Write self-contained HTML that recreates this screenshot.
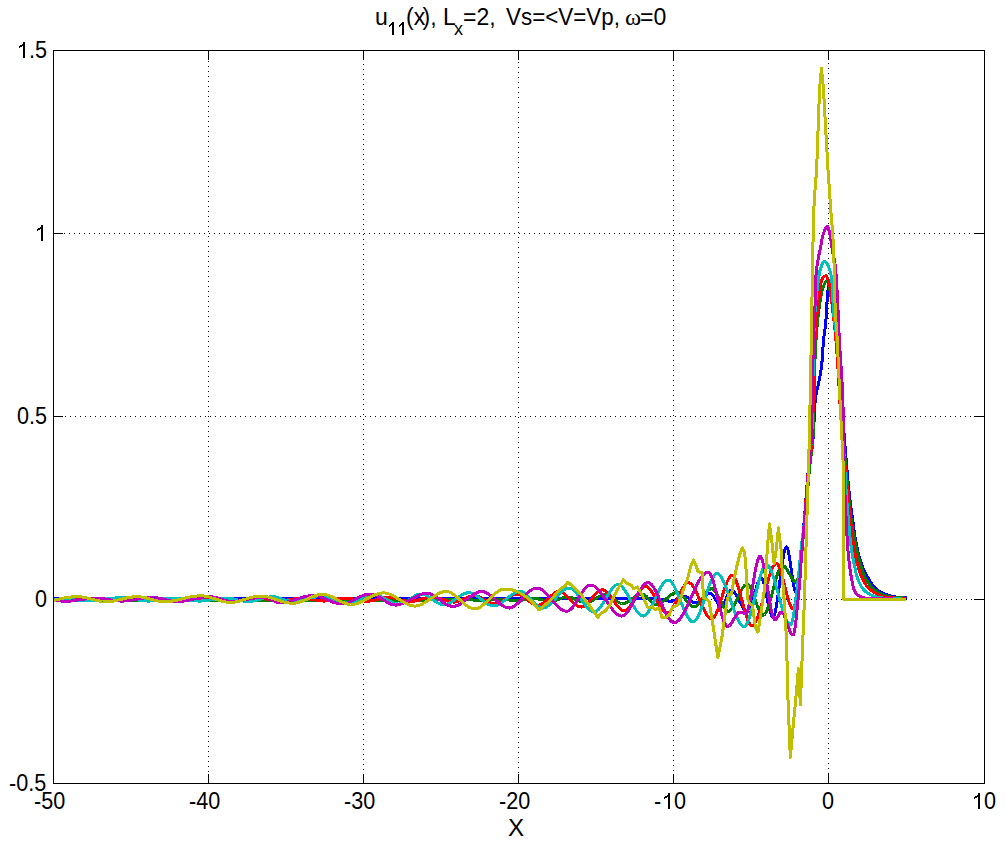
<!DOCTYPE html>
<html><head><meta charset="utf-8">
<style>
html,body{margin:0;padding:0;background:#fff;}
body{width:1005px;height:842px;overflow:hidden;position:relative;}
svg{position:absolute;left:0;top:0;}
text{font-family:"Liberation Sans",sans-serif;fill:#000;}
</style></head>
<body>
<svg width="1005" height="842" viewBox="0 0 1005 842">
<rect x="0" y="0" width="1005" height="842" fill="#fff"/>
<g id="grid" stroke="#000" stroke-width="1" shape-rendering="crispEdges" fill="none" stroke-dasharray="1 4">
<path d="M208.5 51V783"/>
<path d="M363.5 54V783"/>
<path d="M518.5 52V783"/>
<path d="M673.5 55V783"/>
<path d="M828.5 53V783"/>
<path d="M54 233.5H984"/>
<path d="M55 416.5H984"/>
<path d="M56 599.5H984"/>
</g>
<g id="ticks" stroke="#000" stroke-width="1" shape-rendering="crispEdges" fill="none">
<path d="M208.5 51V60M363.5 51V60M518.5 51V60M673.5 51V60M828.5 51V60"/>
<path d="M208.5 783V774M363.5 783V774M518.5 783V774M673.5 783V774M828.5 783V774"/>
<path d="M54 233.5H63M54 416.5H63M54 599.5H63"/>
<path d="M984 233.5H974M984 416.5H974M984 599.5H974"/>
</g>
<defs><clipPath id="cp"><rect x="54" y="51" width="930" height="732"/></clipPath></defs>
<g id="curves" clip-path="url(#cp)" fill="none" stroke-width="3" stroke-linejoin="round" shape-rendering="crispEdges">
<path stroke="#0000ff" d="M54.0 598.8 L54.5 598.8 L55.0 598.8 L55.5 598.8 L56.0 598.8 L56.5 598.8 L57.0 598.8 L57.5 598.8 L58.0 598.8 L58.5 598.8 L59.0 598.8 L59.5 598.8 L60.0 598.8 L60.5 598.8 L61.0 598.8 L61.5 598.8 L62.0 598.8 L62.5 598.8 L63.0 598.8 L63.5 598.8 L64.0 598.8 L64.5 598.8 L65.0 598.8 L65.5 598.8 L66.0 598.8 L66.5 598.8 L67.0 598.8 L67.5 598.8 L68.0 598.8 L68.5 598.8 L69.0 598.8 L69.5 598.8 L70.0 598.8 L70.5 598.8 L71.0 598.8 L71.5 598.8 L72.0 598.8 L72.5 598.8 L73.0 598.8 L73.5 598.8 L74.0 598.8 L74.5 598.8 L75.0 598.8 L75.5 598.8 L76.0 598.8 L76.5 598.8 L77.0 598.8 L77.5 598.8 L78.0 598.8 L78.5 598.8 L79.0 598.8 L79.5 598.8 L80.0 598.8 L80.5 598.8 L81.0 598.8 L81.5 598.8 L82.0 598.8 L82.5 598.8 L83.0 598.8 L83.5 598.8 L84.0 598.8 L84.5 598.8 L85.0 598.8 L85.5 598.8 L86.0 598.8 L86.5 598.8 L87.0 598.8 L87.5 598.8 L88.0 598.8 L88.5 598.8 L89.0 598.8 L89.5 598.8 L90.0 598.8 L90.5 598.8 L91.0 598.8 L91.5 598.8 L92.0 598.8 L92.5 598.8 L93.0 598.8 L93.5 598.8 L94.0 598.8 L94.5 598.8 L95.0 598.8 L95.5 598.8 L96.0 598.8 L96.5 598.8 L97.0 598.8 L97.5 598.8 L98.0 598.8 L98.5 598.8 L99.0 598.8 L99.5 598.8 L100.0 598.8 L100.5 598.8 L101.0 598.8 L101.5 598.8 L102.0 598.8 L102.5 598.8 L103.0 598.8 L103.5 598.8 L104.0 598.8 L104.5 598.8 L105.0 598.8 L105.5 598.8 L106.0 598.8 L106.5 598.8 L107.0 598.8 L107.5 598.8 L108.0 598.8 L108.5 598.8 L109.0 598.8 L109.5 598.8 L110.0 598.8 L110.5 598.8 L111.0 598.8 L111.5 598.8 L112.0 598.8 L112.5 598.8 L113.0 598.8 L113.5 598.8 L114.0 598.8 L114.5 598.8 L115.0 598.8 L115.5 598.8 L116.0 598.8 L116.5 598.8 L117.0 598.8 L117.5 598.8 L118.0 598.8 L118.5 598.8 L119.0 598.8 L119.5 598.8 L120.0 598.8 L120.5 598.8 L121.0 598.8 L121.5 598.8 L122.0 598.8 L122.5 598.8 L123.0 598.8 L123.5 598.8 L124.0 598.8 L124.5 598.8 L125.0 598.8 L125.5 598.8 L126.0 598.8 L126.5 598.8 L127.0 598.8 L127.5 598.8 L128.0 598.8 L128.5 598.8 L129.0 598.8 L129.5 598.8 L130.0 598.8 L130.5 598.8 L131.0 598.8 L131.5 598.8 L132.0 598.8 L132.5 598.8 L133.0 598.8 L133.5 598.8 L134.0 598.8 L134.5 598.8 L135.0 598.8 L135.5 598.8 L136.0 598.8 L136.5 598.8 L137.0 598.8 L137.5 598.8 L138.0 598.8 L138.5 598.8 L139.0 598.8 L139.5 598.8 L140.0 598.8 L140.5 598.8 L141.0 598.8 L141.5 598.8 L142.0 598.8 L142.5 598.8 L143.0 598.8 L143.5 598.8 L144.0 598.8 L144.5 598.8 L145.0 598.8 L145.5 598.8 L146.0 598.8 L146.5 598.8 L147.0 598.8 L147.5 598.8 L148.0 598.8 L148.5 598.8 L149.0 598.8 L149.5 598.8 L150.0 598.8 L150.5 598.8 L151.0 598.8 L151.5 598.8 L152.0 598.8 L152.5 598.8 L153.0 598.8 L153.5 598.8 L154.0 598.8 L154.5 598.8 L155.0 598.8 L155.5 598.8 L156.0 598.8 L156.5 598.8 L157.0 598.8 L157.5 598.8 L158.0 598.8 L158.5 598.8 L159.0 598.8 L159.5 598.8 L160.0 598.8 L160.5 598.8 L161.0 598.8 L161.5 598.8 L162.0 598.8 L162.5 598.8 L163.0 598.8 L163.5 598.8 L164.0 598.8 L164.5 598.8 L165.0 598.8 L165.5 598.8 L166.0 598.8 L166.5 598.8 L167.0 598.8 L167.5 598.8 L168.0 598.8 L168.5 598.8 L169.0 598.8 L169.5 598.8 L170.0 598.8 L170.5 598.8 L171.0 598.8 L171.5 598.8 L172.0 598.8 L172.5 598.8 L173.0 598.8 L173.5 598.8 L174.0 598.8 L174.5 598.8 L175.0 598.8 L175.5 598.8 L176.0 598.8 L176.5 598.8 L177.0 598.8 L177.5 598.8 L178.0 598.8 L178.5 598.8 L179.0 598.8 L179.5 598.8 L180.0 598.8 L180.5 598.8 L181.0 598.8 L181.5 598.8 L182.0 598.8 L182.5 598.8 L183.0 598.8 L183.5 598.8 L184.0 598.8 L184.5 598.8 L185.0 598.8 L185.5 598.8 L186.0 598.8 L186.5 598.8 L187.0 598.8 L187.5 598.8 L188.0 598.8 L188.5 598.8 L189.0 598.8 L189.5 598.8 L190.0 598.8 L190.5 598.8 L191.0 598.8 L191.5 598.8 L192.0 598.8 L192.5 598.8 L193.0 598.8 L193.5 598.8 L194.0 598.8 L194.5 598.8 L195.0 598.8 L195.5 598.8 L196.0 598.8 L196.5 598.8 L197.0 598.8 L197.5 598.8 L198.0 598.8 L198.5 598.8 L199.0 598.8 L199.5 598.8 L200.0 598.8 L200.5 598.8 L201.0 598.8 L201.5 598.8 L202.0 598.8 L202.5 598.8 L203.0 598.8 L203.5 598.8 L204.0 598.8 L204.5 598.8 L205.0 598.8 L205.5 598.8 L206.0 598.8 L206.5 598.8 L207.0 598.8 L207.5 598.8 L208.0 598.8 L208.5 598.8 L209.0 598.8 L209.5 598.8 L210.0 598.8 L210.5 598.8 L211.0 598.8 L211.5 598.8 L212.0 598.8 L212.5 598.8 L213.0 598.8 L213.5 598.8 L214.0 598.8 L214.5 598.8 L215.0 598.8 L215.5 598.8 L216.0 598.8 L216.5 598.8 L217.0 598.8 L217.5 598.8 L218.0 598.8 L218.5 598.8 L219.0 598.8 L219.5 598.8 L220.0 598.8 L220.5 598.8 L221.0 598.8 L221.5 598.8 L222.0 598.8 L222.5 598.8 L223.0 598.8 L223.5 598.8 L224.0 598.8 L224.5 598.8 L225.0 598.8 L225.5 598.8 L226.0 598.8 L226.5 598.8 L227.0 598.8 L227.5 598.8 L228.0 598.8 L228.5 598.8 L229.0 598.8 L229.5 598.8 L230.0 598.8 L230.5 598.8 L231.0 598.8 L231.5 598.8 L232.0 598.8 L232.5 598.8 L233.0 598.8 L233.5 598.8 L234.0 598.8 L234.5 598.8 L235.0 598.8 L235.5 598.8 L236.0 598.8 L236.5 598.8 L237.0 598.8 L237.5 598.8 L238.0 598.8 L238.5 598.8 L239.0 598.8 L239.5 598.8 L240.0 598.8 L240.5 598.8 L241.0 598.8 L241.5 598.8 L242.0 598.8 L242.5 598.8 L243.0 598.8 L243.5 598.8 L244.0 598.8 L244.5 598.8 L245.0 598.8 L245.5 598.8 L246.0 598.8 L246.5 598.8 L247.0 598.8 L247.5 598.8 L248.0 598.8 L248.5 598.8 L249.0 598.8 L249.5 598.8 L250.0 598.8 L250.5 598.8 L251.0 598.8 L251.5 598.8 L252.0 598.8 L252.5 598.8 L253.0 598.8 L253.5 598.8 L254.0 598.8 L254.5 598.8 L255.0 598.8 L255.5 598.8 L256.0 598.8 L256.5 598.8 L257.0 598.8 L257.5 598.8 L258.0 598.8 L258.5 598.8 L259.0 598.8 L259.5 598.8 L260.0 598.8 L260.5 598.8 L261.0 598.8 L261.5 598.8 L262.0 598.8 L262.5 598.8 L263.0 598.8 L263.5 598.8 L264.0 598.8 L264.5 598.8 L265.0 598.8 L265.5 598.8 L266.0 598.8 L266.5 598.8 L267.0 598.8 L267.5 598.8 L268.0 598.8 L268.5 598.8 L269.0 598.8 L269.5 598.8 L270.0 598.8 L270.5 598.8 L271.0 598.8 L271.5 598.8 L272.0 598.8 L272.5 598.8 L273.0 598.8 L273.5 598.8 L274.0 598.8 L274.5 598.8 L275.0 598.8 L275.5 598.8 L276.0 598.8 L276.5 598.8 L277.0 598.8 L277.5 598.8 L278.0 598.8 L278.5 598.8 L279.0 598.8 L279.5 598.8 L280.0 598.8 L280.5 598.8 L281.0 598.8 L281.5 598.8 L282.0 598.8 L282.5 598.8 L283.0 598.8 L283.5 598.8 L284.0 598.8 L284.5 598.8 L285.0 598.8 L285.5 598.8 L286.0 598.8 L286.5 598.8 L287.0 598.8 L287.5 598.8 L288.0 598.8 L288.5 598.8 L289.0 598.8 L289.5 598.8 L290.0 598.8 L290.5 598.8 L291.0 598.8 L291.5 598.8 L292.0 598.8 L292.5 598.8 L293.0 598.8 L293.5 598.8 L294.0 598.8 L294.5 598.8 L295.0 598.8 L295.5 598.8 L296.0 598.8 L296.5 598.8 L297.0 598.8 L297.5 598.8 L298.0 598.8 L298.5 598.8 L299.0 598.8 L299.5 598.8 L300.0 598.8 L300.5 598.8 L301.0 598.8 L301.5 598.8 L302.0 598.8 L302.5 598.8 L303.0 598.8 L303.5 598.8 L304.0 598.8 L304.5 598.8 L305.0 598.8 L305.5 598.8 L306.0 598.8 L306.5 598.8 L307.0 598.8 L307.5 598.8 L308.0 598.8 L308.5 598.8 L309.0 598.8 L309.5 598.8 L310.0 598.8 L310.5 598.8 L311.0 598.8 L311.5 598.8 L312.0 598.8 L312.5 598.8 L313.0 598.8 L313.5 598.8 L314.0 598.8 L314.5 598.8 L315.0 598.8 L315.5 598.8 L316.0 598.8 L316.5 598.8 L317.0 598.8 L317.5 598.8 L318.0 598.8 L318.5 598.8 L319.0 598.8 L319.5 598.8 L320.0 598.8 L320.5 598.8 L321.0 598.8 L321.5 598.8 L322.0 598.8 L322.5 598.8 L323.0 598.8 L323.5 598.8 L324.0 598.8 L324.5 598.8 L325.0 598.8 L325.5 598.8 L326.0 598.8 L326.5 598.8 L327.0 598.8 L327.5 598.8 L328.0 598.8 L328.5 598.8 L329.0 598.8 L329.5 598.8 L330.0 598.8 L330.5 598.8 L331.0 598.8 L331.5 598.8 L332.0 598.8 L332.5 598.8 L333.0 598.8 L333.5 598.8 L334.0 598.8 L334.5 598.8 L335.0 598.8 L335.5 598.8 L336.0 598.8 L336.5 598.8 L337.0 598.8 L337.5 598.8 L338.0 598.8 L338.5 598.8 L339.0 598.8 L339.5 598.8 L340.0 598.8 L340.5 598.8 L341.0 598.8 L341.5 598.8 L342.0 598.8 L342.5 598.8 L343.0 598.8 L343.5 598.8 L344.0 598.8 L344.5 598.8 L345.0 598.8 L345.5 598.8 L346.0 598.8 L346.5 598.8 L347.0 598.8 L347.5 598.8 L348.0 598.8 L348.5 598.8 L349.0 598.8 L349.5 598.8 L350.0 598.8 L350.5 598.8 L351.0 598.8 L351.5 598.8 L352.0 598.8 L352.5 598.8 L353.0 598.8 L353.5 598.8 L354.0 598.8 L354.5 598.8 L355.0 598.8 L355.5 598.8 L356.0 598.8 L356.5 598.8 L357.0 598.8 L357.5 598.8 L358.0 598.8 L358.5 598.8 L359.0 598.8 L359.5 598.8 L360.0 598.8 L360.5 598.8 L361.0 598.8 L361.5 598.8 L362.0 598.8 L362.5 598.8 L363.0 598.8 L363.5 598.8 L364.0 598.8 L364.5 598.8 L365.0 598.8 L365.5 598.8 L366.0 598.8 L366.5 598.8 L367.0 598.8 L367.5 598.8 L368.0 598.8 L368.5 598.8 L369.0 598.8 L369.5 598.8 L370.0 598.8 L370.5 598.8 L371.0 598.8 L371.5 598.8 L372.0 598.8 L372.5 598.8 L373.0 598.8 L373.5 598.8 L374.0 598.8 L374.5 598.8 L375.0 598.8 L375.5 598.8 L376.0 598.8 L376.5 598.8 L377.0 598.8 L377.5 598.8 L378.0 598.8 L378.5 598.8 L379.0 598.8 L379.5 598.8 L380.0 598.8 L380.5 598.8 L381.0 598.8 L381.5 598.8 L382.0 598.8 L382.5 598.8 L383.0 598.8 L383.5 598.8 L384.0 598.8 L384.5 598.8 L385.0 598.8 L385.5 598.8 L386.0 598.8 L386.5 598.8 L387.0 598.8 L387.5 598.8 L388.0 598.8 L388.5 598.8 L389.0 598.8 L389.5 598.8 L390.0 598.8 L390.5 598.8 L391.0 598.8 L391.5 598.8 L392.0 598.8 L392.5 598.8 L393.0 598.8 L393.5 598.8 L394.0 598.8 L394.5 598.8 L395.0 598.8 L395.5 598.8 L396.0 598.8 L396.5 598.8 L397.0 598.8 L397.5 598.8 L398.0 598.8 L398.5 598.8 L399.0 598.8 L399.5 598.8 L400.0 598.8 L400.5 598.8 L401.0 598.8 L401.5 598.8 L402.0 598.8 L402.5 598.8 L403.0 598.8 L403.5 598.8 L404.0 598.8 L404.5 598.8 L405.0 598.8 L405.5 598.8 L406.0 598.8 L406.5 598.8 L407.0 598.8 L407.5 598.8 L408.0 598.8 L408.5 598.8 L409.0 598.8 L409.5 598.8 L410.0 598.8 L410.5 598.8 L411.0 598.8 L411.5 598.8 L412.0 598.8 L412.5 598.8 L413.0 598.8 L413.5 598.8 L414.0 598.8 L414.5 598.8 L415.0 598.8 L415.5 598.8 L416.0 598.8 L416.5 598.8 L417.0 598.8 L417.5 598.8 L418.0 598.8 L418.5 598.8 L419.0 598.8 L419.5 598.8 L420.0 598.8 L420.5 598.8 L421.0 598.8 L421.5 598.8 L422.0 598.8 L422.5 598.8 L423.0 598.8 L423.5 598.8 L424.0 598.8 L424.5 598.8 L425.0 598.8 L425.5 598.8 L426.0 598.8 L426.5 598.8 L427.0 598.8 L427.5 598.8 L428.0 598.8 L428.5 598.8 L429.0 598.8 L429.5 598.8 L430.0 598.8 L430.5 598.8 L431.0 598.8 L431.5 598.8 L432.0 598.8 L432.5 598.8 L433.0 598.8 L433.5 598.8 L434.0 598.8 L434.5 598.8 L435.0 598.8 L435.5 598.8 L436.0 598.8 L436.5 598.8 L437.0 598.8 L437.5 598.8 L438.0 598.8 L438.5 598.8 L439.0 598.8 L439.5 598.8 L440.0 598.8 L440.5 598.8 L441.0 598.8 L441.5 598.8 L442.0 598.8 L442.5 598.8 L443.0 598.8 L443.5 598.8 L444.0 598.8 L444.5 598.8 L445.0 598.8 L445.5 598.8 L446.0 598.8 L446.5 598.8 L447.0 598.8 L447.5 598.8 L448.0 598.8 L448.5 598.8 L449.0 598.8 L449.5 598.8 L450.0 598.8 L450.5 598.8 L451.0 598.8 L451.5 598.8 L452.0 598.8 L452.5 598.8 L453.0 598.8 L453.5 598.8 L454.0 598.8 L454.5 598.8 L455.0 598.8 L455.5 598.8 L456.0 598.8 L456.5 598.8 L457.0 598.8 L457.5 598.8 L458.0 598.8 L458.5 598.8 L459.0 598.8 L459.5 598.8 L460.0 598.8 L460.5 598.8 L461.0 598.8 L461.5 598.8 L462.0 598.8 L462.5 598.8 L463.0 598.8 L463.5 598.8 L464.0 598.8 L464.5 598.8 L465.0 598.8 L465.5 598.8 L466.0 598.8 L466.5 598.8 L467.0 598.8 L467.5 598.8 L468.0 598.8 L468.5 598.8 L469.0 598.8 L469.5 598.8 L470.0 598.8 L470.5 598.8 L471.0 598.8 L471.5 598.8 L472.0 598.8 L472.5 598.8 L473.0 598.8 L473.5 598.8 L474.0 598.8 L474.5 598.8 L475.0 598.8 L475.5 598.8 L476.0 598.8 L476.5 598.8 L477.0 598.8 L477.5 598.8 L478.0 598.8 L478.5 598.8 L479.0 598.8 L479.5 598.8 L480.0 598.8 L480.5 598.8 L481.0 598.8 L481.5 598.8 L482.0 598.8 L482.5 598.8 L483.0 598.8 L483.5 598.8 L484.0 598.8 L484.5 598.8 L485.0 598.8 L485.5 598.8 L486.0 598.8 L486.5 598.8 L487.0 598.8 L487.5 598.8 L488.0 598.8 L488.5 598.8 L489.0 598.8 L489.5 598.8 L490.0 598.8 L490.5 598.8 L491.0 598.8 L491.5 598.8 L492.0 598.8 L492.5 598.8 L493.0 598.8 L493.5 598.8 L494.0 598.8 L494.5 598.8 L495.0 598.8 L495.5 598.8 L496.0 598.8 L496.5 598.8 L497.0 598.8 L497.5 598.8 L498.0 598.8 L498.5 598.8 L499.0 598.8 L499.5 598.8 L500.0 598.8 L500.5 598.8 L501.0 598.8 L501.5 598.8 L502.0 598.8 L502.5 598.8 L503.0 598.8 L503.5 598.8 L504.0 598.8 L504.5 598.8 L505.0 598.8 L505.5 598.8 L506.0 598.8 L506.5 598.8 L507.0 598.8 L507.5 598.8 L508.0 598.8 L508.5 598.8 L509.0 598.8 L509.5 598.8 L510.0 598.8 L510.5 598.8 L511.0 598.8 L511.5 598.8 L512.0 598.8 L512.5 598.8 L513.0 598.8 L513.5 598.8 L514.0 598.8 L514.5 598.8 L515.0 598.8 L515.5 598.8 L516.0 598.8 L516.5 598.8 L517.0 598.8 L517.5 598.8 L518.0 598.8 L518.5 598.8 L519.0 598.8 L519.5 598.8 L520.0 598.8 L520.5 598.8 L521.0 598.8 L521.5 598.8 L522.0 598.8 L522.5 598.8 L523.0 598.8 L523.5 598.8 L524.0 598.8 L524.5 598.8 L525.0 598.8 L525.5 598.8 L526.0 598.8 L526.5 598.8 L527.0 598.8 L527.5 598.8 L528.0 598.8 L528.5 598.8 L529.0 598.8 L529.5 598.8 L530.0 598.8 L530.5 598.8 L531.0 598.8 L531.5 598.8 L532.0 598.8 L532.5 598.8 L533.0 598.8 L533.5 598.8 L534.0 598.8 L534.5 598.8 L535.0 598.8 L535.5 598.8 L536.0 598.8 L536.5 598.8 L537.0 598.8 L537.5 598.8 L538.0 598.8 L538.5 598.8 L539.0 598.8 L539.5 598.8 L540.0 598.8 L540.5 598.8 L541.0 598.8 L541.5 598.8 L542.0 598.8 L542.5 598.8 L543.0 598.8 L543.5 598.8 L544.0 598.8 L544.5 598.8 L545.0 598.8 L545.5 598.8 L546.0 598.8 L546.5 598.8 L547.0 598.8 L547.5 598.8 L548.0 598.8 L548.5 598.8 L549.0 598.8 L549.5 598.8 L550.0 598.8 L550.5 598.8 L551.0 598.8 L551.5 598.8 L552.0 598.8 L552.5 598.8 L553.0 598.8 L553.5 598.8 L554.0 598.8 L554.5 598.8 L555.0 598.8 L555.5 598.8 L556.0 598.8 L556.5 598.8 L557.0 598.8 L557.5 598.8 L558.0 598.8 L558.5 598.8 L559.0 598.8 L559.5 598.8 L560.0 598.8 L560.5 598.8 L561.0 598.8 L561.5 598.8 L562.0 598.8 L562.5 598.8 L563.0 598.8 L563.5 598.8 L564.0 598.8 L564.5 598.8 L565.0 598.8 L565.5 598.8 L566.0 598.8 L566.5 598.8 L567.0 598.8 L567.5 598.8 L568.0 598.8 L568.5 598.8 L569.0 598.8 L569.5 598.8 L570.0 598.8 L570.5 598.8 L571.0 598.8 L571.5 598.8 L572.0 598.8 L572.5 598.8 L573.0 598.8 L573.5 598.8 L574.0 598.8 L574.5 598.8 L575.0 598.8 L575.5 598.8 L576.0 598.8 L576.5 598.8 L577.0 598.8 L577.5 598.8 L578.0 598.8 L578.5 598.8 L579.0 598.8 L579.5 598.8 L580.0 598.8 L580.5 598.8 L581.0 598.8 L581.5 598.8 L582.0 598.8 L582.5 598.8 L583.0 598.8 L583.5 598.8 L584.0 598.8 L584.5 598.8 L585.0 598.8 L585.5 598.8 L586.0 598.8 L586.5 598.8 L587.0 598.8 L587.5 598.8 L588.0 598.8 L588.5 598.8 L589.0 598.8 L589.5 598.8 L590.0 598.8 L590.5 598.8 L591.0 598.8 L591.5 598.8 L592.0 598.8 L592.5 598.8 L593.0 598.8 L593.5 598.8 L594.0 598.8 L594.5 598.8 L595.0 598.8 L595.5 598.8 L596.0 598.8 L596.5 598.8 L597.0 598.8 L597.5 598.8 L598.0 598.8 L598.5 598.8 L599.0 598.8 L599.5 598.8 L600.0 598.8 L600.5 598.8 L601.0 598.8 L601.5 598.8 L602.0 598.8 L602.5 598.8 L603.0 598.8 L603.5 598.8 L604.0 598.8 L604.5 598.8 L605.0 598.8 L605.5 598.8 L606.0 598.8 L606.5 598.8 L607.0 598.8 L607.5 598.8 L608.0 598.8 L608.5 598.8 L609.0 598.8 L609.5 598.8 L610.0 598.8 L610.5 598.8 L611.0 598.8 L611.5 598.8 L612.0 598.8 L612.5 598.8 L613.0 598.8 L613.5 598.8 L614.0 598.8 L614.5 598.8 L615.0 598.8 L615.5 598.8 L616.0 598.8 L616.5 598.8 L617.0 598.8 L617.5 598.8 L618.0 598.8 L618.5 598.8 L619.0 598.8 L619.5 598.8 L620.0 598.8 L620.5 598.8 L621.0 598.8 L621.5 598.8 L622.0 598.8 L622.5 598.8 L623.0 598.8 L623.5 598.8 L624.0 598.8 L624.5 598.8 L625.0 598.8 L625.5 598.8 L626.0 598.8 L626.5 598.8 L627.0 598.8 L627.5 598.8 L628.0 598.8 L628.5 598.8 L629.0 598.8 L629.5 598.8 L630.0 598.8 L630.5 598.8 L631.0 598.8 L631.5 598.8 L632.0 598.8 L632.5 598.8 L633.0 598.8 L633.5 598.8 L634.0 598.8 L634.5 598.8 L635.0 598.8 L635.5 598.8 L636.0 598.8 L636.5 598.8 L637.0 598.8 L637.5 598.8 L638.0 598.8 L638.5 598.8 L639.0 598.8 L639.5 598.8 L640.0 598.8 L640.5 598.8 L641.0 598.8 L641.5 598.8 L642.0 598.8 L642.5 598.8 L643.0 598.8 L643.5 598.8 L644.0 598.8 L644.5 598.8 L645.0 598.8 L645.5 598.8 L646.0 598.8 L646.5 598.8 L647.0 598.8 L647.5 598.8 L648.0 598.8 L648.5 598.8 L649.0 598.8 L649.5 598.8 L650.0 598.8 L650.5 598.9 L651.0 598.9 L651.5 598.9 L652.0 598.9 L652.5 598.9 L653.0 598.9 L653.5 598.9 L654.0 598.9 L654.5 598.9 L655.0 598.9 L655.5 598.9 L656.0 598.9 L656.5 598.9 L657.0 598.9 L657.5 599.0 L658.0 599.0 L658.5 599.0 L659.0 599.0 L659.5 599.0 L660.0 599.0 L660.5 599.0 L661.0 599.1 L661.5 599.1 L662.0 599.2 L662.5 599.3 L663.0 599.5 L663.5 599.6 L664.0 599.8 L664.5 599.9 L665.0 600.1 L665.5 600.2 L666.0 600.4 L666.5 600.5 L667.0 600.7 L667.5 600.8 L668.0 600.9 L668.5 601.1 L669.0 601.1 L669.5 601.2 L670.0 601.3 L670.5 601.3 L670.7 601.3 L671.0 601.3 L671.5 601.2 L672.0 601.2 L672.5 601.0 L673.0 600.9 L673.5 600.7 L674.0 600.5 L674.5 600.2 L675.0 600.0 L675.5 599.7 L676.0 599.4 L676.5 599.2 L677.0 598.9 L677.5 598.6 L678.0 598.3 L678.5 598.0 L679.0 597.7 L679.5 597.4 L680.0 597.1 L680.5 596.9 L681.0 596.7 L681.5 596.5 L682.0 596.3 L682.5 596.2 L683.0 596.1 L683.5 596.0 L684.0 596.0 L684.5 596.0 L685.0 596.1 L685.5 596.3 L686.0 596.5 L686.5 596.8 L687.0 597.1 L687.5 597.5 L688.0 597.9 L688.5 598.3 L689.0 598.7 L689.5 599.2 L690.0 599.6 L690.5 600.1 L691.0 600.5 L691.5 600.9 L692.0 601.3 L692.5 601.7 L693.0 602.1 L693.5 602.4 L694.0 602.6 L694.5 602.8 L695.0 602.9 L695.5 603.0 L695.7 603.0 L696.0 603.0 L696.5 602.9 L697.0 602.8 L697.5 602.6 L698.0 602.3 L698.5 602.0 L699.0 601.7 L699.5 601.3 L700.0 600.9 L700.5 600.5 L701.0 600.0 L701.5 599.5 L702.0 599.0 L702.5 598.5 L703.0 598.0 L703.5 597.5 L704.0 597.0 L704.5 596.5 L705.0 596.0 L705.5 595.6 L706.0 595.2 L706.5 594.8 L707.0 594.4 L707.5 594.1 L708.0 593.8 L708.5 593.6 L709.0 593.4 L709.5 593.3 L710.0 593.3 L710.5 593.4 L711.0 593.6 L711.5 593.9 L712.0 594.4 L712.5 594.9 L713.0 595.5 L713.5 596.2 L714.0 597.0 L714.5 597.8 L715.0 598.7 L715.5 599.5 L716.0 600.4 L716.5 601.2 L717.0 602.1 L717.5 602.9 L718.0 603.7 L718.5 604.4 L719.0 605.0 L719.5 605.5 L720.0 606.0 L720.5 606.3 L721.0 606.5 L721.5 606.6 L722.0 606.5 L722.5 606.1 L723.0 605.5 L723.5 604.7 L724.0 603.8 L724.5 602.7 L725.0 601.5 L725.5 600.2 L726.0 599.0 L726.5 597.6 L727.0 596.4 L727.5 595.1 L728.0 593.9 L728.5 592.8 L729.0 591.9 L729.5 591.1 L730.0 590.5 L730.5 590.1 L731.0 590.0 L731.5 590.1 L732.0 590.2 L732.5 590.5 L733.0 590.9 L733.5 591.3 L734.0 591.9 L734.5 592.5 L735.0 593.1 L735.5 593.9 L736.0 594.7 L736.5 595.5 L737.0 596.4 L737.5 597.3 L738.0 598.3 L738.5 599.2 L739.0 600.2 L739.5 601.2 L740.0 602.2 L740.5 603.1 L741.0 604.1 L741.5 605.0 L742.0 605.9 L742.5 606.8 L743.0 607.6 L743.5 608.4 L744.0 609.1 L744.5 609.8 L745.0 610.4 L745.5 610.9 L746.0 611.3 L746.5 611.6 L747.0 611.9 L747.5 612.0 L747.8 612.0 L748.0 612.0 L748.5 611.7 L749.0 611.2 L749.5 610.5 L750.0 609.5 L750.5 608.3 L751.0 607.0 L751.5 605.5 L752.0 603.9 L752.5 602.1 L753.0 600.3 L753.5 598.5 L754.0 596.5 L754.5 594.6 L755.0 592.7 L755.5 590.8 L756.0 588.9 L756.5 587.2 L757.0 585.5 L757.5 583.9 L758.0 582.5 L758.5 581.2 L759.0 580.1 L759.5 579.2 L760.0 578.6 L760.5 578.1 L761.0 578.0 L761.5 578.2 L762.0 578.8 L762.5 579.7 L763.0 580.9 L763.5 582.4 L764.0 584.1 L764.5 586.0 L765.0 588.1 L765.5 590.3 L766.0 592.7 L766.5 595.1 L767.0 597.5 L767.5 599.9 L768.0 602.3 L768.5 604.7 L769.0 606.9 L769.5 609.0 L770.0 610.9 L770.5 612.6 L771.0 614.1 L771.5 615.3 L772.0 616.2 L772.5 616.8 L773.0 617.0 L773.5 616.7 L774.0 615.9 L774.5 614.6 L775.0 612.8 L775.5 610.7 L776.0 608.2 L776.5 605.3 L777.0 602.2 L777.5 598.9 L778.0 595.3 L778.5 591.6 L779.0 587.8 L779.5 583.9 L780.0 580.1 L780.5 576.2 L781.0 572.4 L781.5 568.7 L782.0 565.1 L782.5 561.8 L783.0 558.7 L783.5 555.8 L784.0 553.3 L784.5 551.2 L785.0 549.4 L785.5 548.1 L786.0 547.3 L786.5 547.0 L787.0 547.4 L787.5 548.4 L788.0 550.0 L788.5 552.1 L789.0 554.7 L789.5 557.6 L790.0 560.8 L790.5 564.2 L791.0 567.7 L791.5 571.3 L792.0 574.8 L792.5 578.2 L793.0 581.4 L793.5 584.3 L794.0 586.9 L794.5 589.0 L795.0 590.6 L795.5 591.6 L796.0 592.0 L796.5 591.3 L797.0 589.3 L797.5 586.3 L798.0 582.6 L798.5 578.4 L799.0 573.8 L799.5 569.3 L800.0 565.0 L800.5 560.7 L801.0 555.9 L801.5 550.8 L802.0 545.4 L802.5 539.9 L803.0 534.3 L803.5 528.6 L804.0 523.0 L804.5 517.2 L805.0 511.0 L805.5 504.6 L806.0 498.1 L806.5 491.6 L807.0 485.2 L807.5 479.1 L808.0 473.5 L808.5 468.4 L809.0 464.0 L809.5 460.4 L810.0 457.4 L810.5 454.8 L811.0 452.3 L811.5 449.8 L812.0 446.9 L812.5 443.4 L812.9 440.0 L813.0 439.0 L813.5 431.8 L814.0 422.4 L814.5 412.5 L815.0 403.7 L815.5 398.0 L816.0 394.8 L816.5 392.3 L817.0 390.2 L817.5 388.3 L818.0 386.4 L818.5 384.0 L819.0 381.4 L819.5 378.8 L820.0 376.1 L820.5 373.2 L821.0 370.0 L821.5 366.3 L821.8 363.8 L822.0 361.8 L822.5 355.2 L823.0 347.7 L823.5 341.1 L823.6 340.0 L824.0 336.3 L824.5 332.5 L825.0 328.9 L825.5 324.7 L825.7 322.7 L826.0 318.9 L826.5 310.7 L827.0 302.0 L827.5 294.8 L827.7 292.8 L828.0 290.2 L828.5 286.3 L829.0 284.3 L829.1 284.2 L829.5 284.6 L830.0 286.0 L830.5 287.9 L831.0 290.0 L831.5 292.3 L832.0 295.2 L832.5 298.4 L833.0 302.0 L833.5 305.9 L834.0 310.0 L834.5 314.6 L835.0 319.9 L835.5 325.5 L836.0 331.3 L836.5 337.0 L837.0 342.5 L837.5 347.9 L838.0 353.4 L838.5 359.0 L839.0 365.0 L839.5 371.4 L840.0 378.1 L840.5 385.1 L841.0 392.2 L841.5 399.4 L842.0 406.5 L842.5 413.4 L843.0 420.0 L843.5 426.4 L844.0 432.9 L844.5 439.3 L845.0 445.6 L845.5 451.9 L846.0 458.1 L846.5 464.1 L847.0 470.0 L847.5 475.6 L848.0 481.0 L848.5 486.1 L848.9 490.0 L849.0 490.9 L849.5 495.4 L850.0 499.7 L850.5 503.8 L851.0 507.6 L851.5 511.4 L852.0 515.1 L852.3 517.3 L852.5 518.8 L853.0 522.4 L853.5 526.1 L854.0 529.7 L854.5 533.2 L855.0 536.6 L855.5 539.7 L856.0 542.5 L856.4 544.6 L856.5 545.1 L857.0 547.5 L857.5 549.7 L858.0 551.9 L858.5 554.0 L859.0 555.9 L859.5 557.8 L860.0 559.5 L860.5 561.2 L861.0 562.7 L861.5 564.2 L861.8 565.0 L862.0 565.5 L862.5 566.8 L863.0 568.0 L863.5 569.2 L864.0 570.3 L864.5 571.3 L865.0 572.3 L865.5 573.3 L866.0 574.2 L866.5 575.1 L867.0 576.0 L867.5 576.9 L868.0 577.7 L868.5 578.5 L868.6 578.7 L869.0 579.4 L869.5 580.2 L870.0 581.0 L870.5 581.8 L871.0 582.5 L871.5 583.3 L872.0 584.0 L872.5 584.7 L873.0 585.4 L873.5 586.0 L874.0 586.6 L874.5 587.2 L875.0 587.7 L875.5 588.2 L876.0 588.6 L876.5 589.1 L877.0 589.5 L877.5 589.9 L878.0 590.3 L878.5 590.7 L879.0 591.1 L879.5 591.4 L880.0 591.8 L880.5 592.1 L881.0 592.4 L881.5 592.7 L882.0 592.9 L882.5 593.2 L883.0 593.4 L883.5 593.6 L883.7 593.7 L884.0 593.8 L884.5 594.0 L885.0 594.2 L885.5 594.4 L886.0 594.5 L886.5 594.7 L887.0 594.9 L887.5 595.0 L888.0 595.2 L888.5 595.4 L889.0 595.5 L889.5 595.7 L890.0 595.8 L890.5 595.9 L891.0 596.1 L891.5 596.2 L892.0 596.3 L892.5 596.4 L893.0 596.5 L893.5 596.6 L894.0 596.7 L894.5 596.8 L895.0 596.9 L895.5 596.9 L896.0 597.0 L896.5 597.0 L897.0 597.1 L897.3 597.1 L897.5 597.1 L898.0 597.1 L898.5 597.2 L899.0 597.2 L899.5 597.2 L900.0 597.3 L900.5 597.3 L901.0 597.3 L901.5 597.4 L902.0 597.4 L902.5 597.4 L903.0 597.4 L903.5 597.4 L904.0 597.5 L904.5 597.5 L905.0 597.5 L905.5 597.5 L906.0 597.5 L906.5 597.5 L906.8 597.5"/>
<path stroke="#008000" d="M54.0 600.0 L54.5 600.0 L55.0 600.0 L55.5 600.0 L56.0 600.0 L56.5 600.0 L57.0 600.0 L57.5 600.0 L58.0 600.0 L58.5 600.0 L59.0 600.0 L59.5 600.0 L60.0 600.0 L60.5 600.0 L61.0 600.0 L61.5 600.0 L62.0 600.0 L62.5 600.0 L63.0 600.0 L63.5 600.0 L64.0 600.0 L64.5 600.0 L65.0 600.0 L65.5 600.0 L66.0 600.0 L66.5 600.0 L67.0 600.0 L67.5 600.0 L68.0 600.0 L68.5 600.0 L69.0 600.0 L69.5 600.0 L70.0 600.0 L70.5 600.0 L71.0 600.0 L71.5 600.0 L72.0 600.0 L72.5 600.0 L73.0 600.0 L73.5 600.0 L74.0 600.0 L74.5 600.0 L75.0 600.0 L75.5 600.0 L76.0 600.0 L76.5 600.0 L77.0 600.0 L77.5 600.0 L78.0 600.0 L78.5 600.0 L79.0 600.0 L79.5 600.0 L80.0 600.0 L80.5 600.0 L81.0 600.0 L81.5 600.0 L82.0 600.0 L82.5 600.0 L83.0 600.0 L83.5 600.0 L84.0 600.0 L84.5 600.0 L85.0 600.0 L85.5 600.0 L86.0 600.0 L86.5 600.0 L87.0 600.0 L87.5 600.0 L88.0 600.0 L88.5 600.0 L89.0 600.0 L89.5 600.0 L90.0 600.0 L90.5 600.0 L91.0 600.0 L91.5 600.0 L92.0 600.0 L92.5 600.0 L93.0 600.0 L93.5 600.0 L94.0 600.0 L94.5 600.0 L95.0 600.0 L95.5 600.0 L96.0 600.0 L96.5 600.0 L97.0 600.0 L97.5 600.0 L98.0 600.0 L98.5 600.0 L99.0 600.0 L99.5 600.0 L100.0 600.0 L100.5 600.0 L101.0 600.0 L101.5 600.0 L102.0 600.0 L102.5 600.0 L103.0 600.0 L103.5 600.0 L104.0 600.0 L104.5 600.0 L105.0 600.0 L105.5 600.0 L106.0 600.0 L106.5 600.0 L107.0 600.0 L107.5 600.0 L108.0 600.0 L108.5 600.0 L109.0 600.0 L109.5 600.0 L110.0 600.0 L110.5 600.0 L111.0 600.0 L111.5 600.0 L112.0 600.0 L112.5 600.0 L113.0 600.0 L113.5 600.0 L114.0 600.0 L114.5 600.0 L115.0 600.0 L115.5 600.0 L116.0 600.0 L116.5 600.0 L117.0 600.0 L117.5 600.0 L118.0 600.0 L118.5 600.0 L119.0 600.0 L119.5 600.0 L120.0 600.0 L120.5 600.0 L121.0 600.0 L121.5 600.0 L122.0 600.0 L122.5 600.0 L123.0 600.0 L123.5 600.0 L124.0 600.0 L124.5 600.0 L125.0 600.0 L125.5 600.0 L126.0 600.0 L126.5 600.0 L127.0 600.0 L127.5 600.0 L128.0 600.0 L128.5 600.0 L129.0 600.0 L129.5 600.0 L130.0 600.0 L130.5 600.0 L131.0 600.0 L131.5 600.0 L132.0 600.0 L132.5 600.0 L133.0 600.0 L133.5 600.0 L134.0 600.0 L134.5 600.0 L135.0 600.0 L135.5 600.0 L136.0 600.0 L136.5 600.0 L137.0 600.0 L137.5 600.0 L138.0 600.0 L138.5 600.0 L139.0 600.0 L139.5 600.0 L140.0 600.0 L140.5 600.0 L141.0 600.0 L141.5 600.0 L142.0 600.0 L142.5 600.0 L143.0 600.0 L143.5 600.0 L144.0 600.0 L144.5 600.0 L145.0 600.0 L145.5 600.0 L146.0 600.0 L146.5 600.0 L147.0 600.0 L147.5 600.0 L148.0 600.0 L148.5 600.0 L149.0 600.0 L149.5 600.0 L150.0 600.0 L150.5 600.0 L151.0 600.0 L151.5 600.0 L152.0 600.0 L152.5 600.0 L153.0 600.0 L153.5 600.0 L154.0 600.0 L154.5 600.0 L155.0 600.0 L155.5 600.0 L156.0 600.0 L156.5 600.0 L157.0 600.0 L157.5 600.0 L158.0 600.0 L158.5 600.0 L159.0 600.0 L159.5 600.0 L160.0 600.0 L160.5 600.0 L161.0 600.0 L161.5 600.0 L162.0 600.0 L162.5 600.0 L163.0 600.0 L163.5 600.0 L164.0 600.0 L164.5 600.0 L165.0 600.0 L165.5 600.0 L166.0 600.0 L166.5 600.0 L167.0 600.0 L167.5 600.0 L168.0 600.0 L168.5 600.0 L169.0 600.0 L169.5 600.0 L170.0 600.0 L170.5 600.0 L171.0 600.0 L171.5 600.0 L172.0 600.0 L172.5 600.0 L173.0 600.0 L173.5 600.0 L174.0 600.0 L174.5 600.0 L175.0 600.0 L175.5 600.0 L176.0 600.0 L176.5 600.0 L177.0 600.0 L177.5 600.0 L178.0 600.0 L178.5 600.0 L179.0 600.0 L179.5 600.0 L180.0 600.0 L180.5 600.0 L181.0 600.0 L181.5 600.0 L182.0 600.0 L182.5 600.0 L183.0 600.0 L183.5 600.0 L184.0 600.0 L184.5 600.0 L185.0 600.0 L185.5 600.0 L186.0 600.0 L186.5 600.0 L187.0 600.0 L187.5 600.0 L188.0 600.0 L188.5 600.0 L189.0 600.0 L189.5 600.0 L190.0 600.0 L190.5 600.0 L191.0 600.0 L191.5 600.0 L192.0 600.0 L192.5 600.0 L193.0 600.0 L193.5 600.0 L194.0 600.0 L194.5 600.0 L195.0 600.0 L195.5 600.0 L196.0 600.0 L196.5 600.0 L197.0 600.0 L197.5 600.0 L198.0 600.0 L198.5 600.0 L199.0 600.0 L199.5 600.0 L200.0 600.0 L200.5 600.0 L201.0 600.0 L201.5 600.0 L202.0 600.0 L202.5 600.0 L203.0 600.0 L203.5 600.0 L204.0 600.0 L204.5 600.0 L205.0 600.0 L205.5 600.0 L206.0 600.0 L206.5 600.0 L207.0 600.0 L207.5 600.0 L208.0 600.0 L208.5 600.0 L209.0 600.0 L209.5 600.0 L210.0 600.0 L210.5 600.0 L211.0 600.0 L211.5 600.0 L212.0 600.0 L212.5 600.0 L213.0 600.0 L213.5 600.0 L214.0 600.0 L214.5 600.0 L215.0 600.0 L215.5 600.0 L216.0 600.0 L216.5 600.0 L217.0 600.0 L217.5 600.0 L218.0 600.0 L218.5 600.0 L219.0 600.0 L219.5 600.0 L220.0 600.0 L220.5 600.0 L221.0 600.0 L221.5 600.0 L222.0 600.0 L222.5 600.0 L223.0 600.0 L223.5 600.0 L224.0 600.0 L224.5 600.0 L225.0 600.0 L225.5 600.0 L226.0 600.0 L226.5 600.0 L227.0 600.0 L227.5 600.0 L228.0 600.0 L228.5 600.0 L229.0 600.0 L229.5 600.0 L230.0 600.0 L230.5 600.0 L231.0 600.0 L231.5 600.0 L232.0 600.0 L232.5 600.0 L233.0 600.0 L233.5 600.0 L234.0 600.0 L234.5 600.0 L235.0 600.0 L235.5 600.0 L236.0 600.0 L236.5 600.0 L237.0 600.0 L237.5 600.0 L238.0 600.0 L238.5 600.0 L239.0 600.0 L239.5 600.0 L240.0 600.0 L240.5 600.0 L241.0 600.0 L241.5 600.0 L242.0 600.0 L242.5 600.0 L243.0 600.0 L243.5 600.0 L244.0 600.0 L244.5 600.0 L245.0 600.0 L245.5 600.0 L246.0 600.0 L246.5 600.0 L247.0 600.0 L247.5 600.0 L248.0 600.0 L248.5 600.0 L249.0 600.0 L249.5 600.0 L250.0 600.0 L250.5 600.0 L251.0 600.0 L251.5 600.0 L252.0 600.0 L252.5 600.0 L253.0 600.0 L253.5 600.0 L254.0 600.0 L254.5 600.0 L255.0 600.0 L255.5 600.0 L256.0 600.0 L256.5 600.0 L257.0 600.0 L257.5 600.0 L258.0 600.0 L258.5 600.0 L259.0 600.0 L259.5 600.0 L260.0 600.0 L260.5 600.0 L261.0 600.0 L261.5 600.0 L262.0 600.0 L262.5 600.0 L263.0 600.0 L263.5 600.0 L264.0 600.0 L264.5 600.0 L265.0 600.0 L265.5 600.0 L266.0 600.0 L266.5 600.0 L267.0 600.0 L267.5 600.0 L268.0 600.0 L268.5 600.0 L269.0 600.0 L269.5 600.0 L270.0 600.0 L270.5 600.0 L271.0 600.0 L271.5 600.0 L272.0 600.0 L272.5 600.0 L273.0 600.0 L273.5 600.0 L274.0 600.0 L274.5 600.0 L275.0 600.0 L275.5 600.0 L276.0 600.0 L276.5 600.0 L277.0 600.0 L277.5 600.0 L278.0 600.0 L278.5 600.0 L279.0 600.0 L279.5 600.0 L280.0 600.0 L280.5 600.0 L281.0 600.0 L281.5 600.0 L282.0 600.0 L282.5 600.0 L283.0 600.0 L283.5 600.0 L284.0 600.0 L284.5 600.0 L285.0 600.0 L285.5 600.0 L286.0 600.0 L286.5 600.0 L287.0 600.0 L287.5 600.0 L288.0 600.0 L288.5 600.0 L289.0 600.0 L289.5 600.0 L290.0 600.0 L290.5 600.0 L291.0 600.0 L291.5 600.0 L292.0 600.0 L292.5 600.0 L293.0 600.0 L293.5 600.0 L294.0 600.0 L294.5 600.0 L295.0 600.0 L295.5 600.0 L296.0 600.0 L296.5 600.0 L297.0 600.0 L297.5 600.0 L298.0 600.0 L298.5 600.0 L299.0 600.0 L299.5 600.0 L300.0 600.0 L300.5 600.0 L301.0 600.0 L301.5 600.0 L302.0 600.0 L302.5 600.0 L303.0 600.0 L303.5 600.0 L304.0 600.0 L304.5 600.0 L305.0 600.0 L305.5 600.0 L306.0 600.0 L306.5 600.0 L307.0 600.0 L307.5 600.0 L308.0 600.0 L308.5 600.0 L309.0 600.0 L309.5 600.0 L310.0 600.0 L310.5 600.0 L311.0 600.0 L311.5 600.0 L312.0 600.0 L312.5 600.0 L313.0 600.0 L313.5 600.0 L314.0 600.0 L314.5 600.0 L315.0 600.0 L315.5 600.0 L316.0 600.0 L316.5 600.0 L317.0 600.0 L317.5 600.0 L318.0 600.0 L318.5 600.0 L319.0 600.0 L319.5 600.0 L320.0 600.0 L320.5 600.0 L321.0 600.0 L321.5 600.0 L322.0 600.0 L322.5 600.0 L323.0 600.0 L323.5 600.0 L324.0 600.0 L324.5 600.0 L325.0 600.0 L325.5 600.0 L326.0 600.0 L326.5 600.0 L327.0 600.0 L327.5 600.0 L328.0 600.0 L328.5 600.0 L329.0 600.0 L329.5 600.0 L330.0 600.0 L330.5 600.0 L331.0 600.0 L331.5 600.0 L332.0 600.0 L332.5 600.0 L333.0 600.0 L333.5 600.0 L334.0 600.0 L334.5 600.0 L335.0 600.0 L335.5 600.0 L336.0 600.0 L336.5 600.0 L337.0 600.0 L337.5 600.0 L338.0 600.0 L338.5 600.0 L339.0 600.0 L339.5 600.0 L340.0 600.0 L340.5 600.0 L341.0 600.0 L341.5 600.0 L342.0 600.0 L342.5 600.0 L343.0 600.0 L343.5 600.0 L344.0 600.0 L344.5 600.0 L345.0 600.0 L345.5 600.0 L346.0 600.0 L346.5 600.0 L347.0 600.0 L347.5 600.0 L348.0 600.0 L348.5 600.0 L349.0 600.0 L349.5 600.0 L350.0 600.0 L350.5 600.0 L351.0 600.0 L351.5 600.0 L352.0 600.0 L352.5 600.0 L353.0 600.0 L353.5 600.0 L354.0 600.0 L354.5 600.0 L355.0 600.0 L355.5 600.0 L356.0 600.0 L356.5 600.0 L357.0 600.0 L357.5 600.0 L358.0 600.0 L358.5 600.0 L359.0 600.0 L359.5 600.0 L360.0 600.0 L360.5 600.0 L361.0 600.0 L361.5 600.0 L362.0 600.0 L362.5 600.0 L363.0 600.0 L363.5 600.0 L364.0 600.0 L364.5 600.0 L365.0 600.0 L365.5 600.0 L366.0 600.0 L366.5 600.0 L367.0 600.0 L367.5 600.0 L368.0 600.0 L368.5 600.0 L369.0 600.0 L369.5 600.0 L370.0 600.0 L370.5 600.0 L371.0 600.0 L371.5 600.0 L372.0 600.0 L372.5 600.0 L373.0 600.0 L373.5 600.0 L374.0 600.0 L374.5 600.0 L375.0 600.0 L375.5 600.0 L376.0 600.0 L376.5 600.0 L377.0 600.0 L377.5 600.0 L378.0 600.0 L378.5 600.0 L379.0 600.0 L379.5 600.0 L380.0 600.0 L380.5 600.0 L381.0 600.0 L381.5 600.0 L382.0 600.0 L382.5 600.0 L383.0 600.0 L383.5 600.0 L384.0 600.0 L384.5 600.0 L385.0 600.0 L385.5 600.0 L386.0 600.0 L386.5 600.0 L387.0 600.0 L387.5 600.0 L388.0 600.0 L388.5 600.0 L389.0 600.0 L389.5 600.0 L390.0 600.0 L390.5 600.0 L391.0 600.0 L391.5 600.0 L392.0 600.0 L392.5 600.0 L393.0 600.0 L393.5 600.0 L394.0 600.0 L394.5 600.0 L395.0 600.0 L395.5 600.0 L396.0 600.0 L396.5 600.0 L397.0 600.0 L397.5 600.0 L398.0 600.0 L398.5 600.0 L399.0 600.0 L399.5 600.0 L400.0 600.0 L400.5 600.0 L401.0 600.0 L401.5 600.0 L402.0 600.0 L402.5 600.0 L403.0 600.0 L403.5 600.0 L404.0 600.0 L404.5 600.0 L405.0 600.0 L405.5 600.0 L406.0 600.0 L406.5 600.0 L407.0 600.0 L407.5 600.0 L408.0 600.0 L408.5 600.0 L409.0 600.0 L409.5 600.0 L410.0 600.0 L410.5 600.0 L411.0 600.0 L411.5 600.0 L412.0 600.0 L412.5 600.0 L413.0 600.0 L413.5 600.0 L414.0 600.0 L414.5 600.0 L415.0 600.0 L415.5 600.0 L416.0 600.0 L416.5 600.0 L417.0 600.0 L417.5 600.0 L418.0 600.0 L418.5 600.0 L419.0 600.0 L419.5 600.0 L420.0 600.0 L420.5 600.0 L421.0 600.0 L421.5 600.0 L422.0 600.0 L422.5 600.0 L423.0 600.0 L423.5 600.0 L424.0 600.0 L424.5 600.0 L425.0 600.0 L425.5 600.0 L426.0 600.0 L426.5 600.0 L427.0 600.0 L427.5 599.9 L428.0 599.9 L428.5 599.9 L429.0 599.9 L429.5 599.9 L430.0 599.9 L430.5 599.9 L431.0 599.9 L431.5 599.9 L432.0 599.9 L432.5 599.9 L433.0 599.8 L433.5 599.8 L434.0 599.8 L434.5 599.8 L435.0 599.8 L435.5 599.8 L436.0 599.8 L436.5 599.8 L437.0 599.8 L437.5 599.7 L438.0 599.7 L438.5 599.7 L439.0 599.7 L439.5 599.7 L440.0 599.7 L440.5 599.7 L441.0 599.7 L441.5 599.6 L442.0 599.6 L442.5 599.6 L443.0 599.6 L443.5 599.6 L444.0 599.6 L444.5 599.6 L445.0 599.6 L445.5 599.6 L446.0 599.5 L446.5 599.5 L447.0 599.5 L447.5 599.5 L448.0 599.5 L448.5 599.5 L449.0 599.5 L449.5 599.5 L450.0 599.5 L450.5 599.4 L451.0 599.4 L451.5 599.4 L452.0 599.4 L452.5 599.4 L453.0 599.4 L453.5 599.4 L454.0 599.4 L454.5 599.4 L455.0 599.4 L455.5 599.4 L456.0 599.3 L456.5 599.3 L457.0 599.3 L457.5 599.3 L458.0 599.3 L458.5 599.3 L459.0 599.3 L459.5 599.3 L460.0 599.3 L460.5 599.3 L461.0 599.3 L461.5 599.3 L462.0 599.3 L462.5 599.3 L463.0 599.3 L463.5 599.3 L464.0 599.3 L464.5 599.3 L465.0 599.3 L465.5 599.4 L466.0 599.4 L466.5 599.4 L467.0 599.5 L467.5 599.5 L468.0 599.5 L468.5 599.6 L469.0 599.6 L469.5 599.7 L470.0 599.7 L470.5 599.8 L471.0 599.8 L471.5 599.9 L472.0 599.9 L472.5 599.9 L473.0 600.0 L473.5 600.0 L474.0 600.1 L474.5 600.1 L475.0 600.2 L475.5 600.2 L476.0 600.3 L476.5 600.3 L477.0 600.3 L477.5 600.4 L478.0 600.4 L478.5 600.4 L479.0 600.5 L479.5 600.5 L480.0 600.5 L480.5 600.5 L481.0 600.5 L481.5 600.5 L482.0 600.5 L482.5 600.5 L483.0 600.4 L483.5 600.4 L484.0 600.4 L484.5 600.3 L485.0 600.3 L485.5 600.3 L486.0 600.2 L486.5 600.1 L487.0 600.1 L487.5 600.0 L488.0 600.0 L488.5 599.9 L489.0 599.8 L489.5 599.8 L490.0 599.7 L490.5 599.7 L491.0 599.6 L491.5 599.5 L492.0 599.5 L492.5 599.4 L493.0 599.4 L493.5 599.3 L494.0 599.2 L494.5 599.2 L495.0 599.2 L495.5 599.1 L496.0 599.1 L496.5 599.1 L497.0 599.0 L497.5 599.0 L498.0 599.0 L498.5 599.0 L499.0 599.0 L499.5 599.0 L500.0 599.0 L500.5 599.1 L501.0 599.1 L501.5 599.1 L502.0 599.2 L502.5 599.2 L503.0 599.3 L503.5 599.3 L504.0 599.4 L504.5 599.4 L505.0 599.5 L505.5 599.6 L506.0 599.6 L506.5 599.7 L507.0 599.8 L507.5 599.8 L508.0 599.9 L508.5 600.0 L509.0 600.0 L509.5 600.1 L510.0 600.2 L510.5 600.2 L511.0 600.3 L511.5 600.3 L512.0 600.4 L512.5 600.4 L513.0 600.5 L513.5 600.5 L514.0 600.5 L514.5 600.6 L515.0 600.6 L515.5 600.6 L516.0 600.6 L516.5 600.6 L517.0 600.6 L517.5 600.6 L518.0 600.5 L518.5 600.5 L519.0 600.4 L519.5 600.4 L520.0 600.3 L520.5 600.3 L521.0 600.2 L521.5 600.1 L522.0 600.1 L522.5 600.0 L523.0 599.9 L523.5 599.8 L524.0 599.7 L524.5 599.6 L525.0 599.5 L525.5 599.5 L526.0 599.4 L526.5 599.3 L527.0 599.2 L527.5 599.1 L528.0 599.0 L528.5 599.0 L529.0 598.9 L529.5 598.8 L530.0 598.8 L530.5 598.7 L531.0 598.7 L531.5 598.6 L532.0 598.6 L532.5 598.5 L533.0 598.5 L533.5 598.5 L534.0 598.5 L534.5 598.5 L535.0 598.5 L535.5 598.6 L536.0 598.6 L536.5 598.7 L537.0 598.7 L537.5 598.8 L538.0 598.9 L538.5 599.0 L539.0 599.1 L539.5 599.2 L540.0 599.3 L540.5 599.4 L541.0 599.5 L541.5 599.6 L542.0 599.7 L542.5 599.9 L543.0 600.0 L543.5 600.1 L544.0 600.2 L544.5 600.3 L545.0 600.4 L545.5 600.5 L546.0 600.6 L546.5 600.7 L547.0 600.8 L547.5 600.9 L548.0 601.0 L548.5 601.0 L549.0 601.1 L549.5 601.1 L550.0 601.2 L550.5 601.2 L551.0 601.2 L551.5 601.2 L552.0 601.2 L552.5 601.1 L553.0 601.0 L553.5 600.9 L554.0 600.8 L554.5 600.7 L555.0 600.5 L555.5 600.4 L556.0 600.2 L556.5 600.1 L557.0 599.9 L557.5 599.7 L558.0 599.5 L558.5 599.3 L559.0 599.1 L559.5 598.9 L560.0 598.7 L560.5 598.5 L561.0 598.3 L561.5 598.1 L562.0 598.0 L562.5 597.8 L563.0 597.7 L563.5 597.5 L564.0 597.4 L564.5 597.3 L565.0 597.2 L565.5 597.1 L566.0 597.0 L566.5 597.0 L567.0 597.0 L567.5 597.0 L568.0 597.0 L568.5 597.1 L569.0 597.2 L569.5 597.3 L570.0 597.4 L570.5 597.5 L571.0 597.6 L571.5 597.8 L572.0 597.9 L572.5 598.1 L573.0 598.3 L573.5 598.5 L574.0 598.7 L574.5 598.9 L575.0 599.1 L575.5 599.3 L576.0 599.5 L576.5 599.8 L577.0 600.0 L577.5 600.2 L578.0 600.4 L578.5 600.6 L579.0 600.8 L579.5 601.0 L580.0 601.2 L580.5 601.4 L581.0 601.6 L581.5 601.7 L582.0 601.9 L582.5 602.0 L583.0 602.1 L583.5 602.2 L584.0 602.3 L584.5 602.4 L585.0 602.5 L585.5 602.5 L586.0 602.5 L586.5 602.5 L587.0 602.4 L587.5 602.4 L588.0 602.3 L588.5 602.1 L589.0 602.0 L589.5 601.8 L590.0 601.6 L590.5 601.4 L591.0 601.1 L591.5 600.9 L592.0 600.6 L592.5 600.4 L593.0 600.1 L593.5 599.8 L594.0 599.5 L594.5 599.2 L595.0 598.9 L595.5 598.6 L596.0 598.2 L596.5 597.9 L597.0 597.6 L597.5 597.3 L598.0 597.0 L598.5 596.7 L599.0 596.5 L599.5 596.2 L600.0 596.0 L600.5 595.7 L601.0 595.5 L601.5 595.3 L602.0 595.1 L602.5 595.0 L603.0 594.8 L603.5 594.7 L604.0 594.7 L604.5 594.6 L605.0 594.6 L605.5 594.6 L606.0 594.7 L606.5 594.8 L607.0 594.9 L607.5 595.1 L608.0 595.3 L608.5 595.5 L609.0 595.8 L609.5 596.0 L610.0 596.3 L610.5 596.6 L611.0 597.0 L611.5 597.3 L612.0 597.7 L612.5 598.0 L613.0 598.4 L613.5 598.8 L614.0 599.2 L614.5 599.6 L615.0 599.9 L615.5 600.3 L616.0 600.7 L616.5 601.0 L617.0 601.4 L617.5 601.7 L618.0 602.0 L618.5 602.3 L619.0 602.5 L619.5 602.8 L620.0 603.0 L620.5 603.2 L621.0 603.3 L621.5 603.5 L622.0 603.5 L622.5 603.6 L622.8 603.6 L623.0 603.6 L623.5 603.6 L624.0 603.5 L624.5 603.4 L625.0 603.3 L625.5 603.1 L626.0 602.9 L626.5 602.7 L627.0 602.4 L627.5 602.2 L628.0 601.9 L628.5 601.6 L629.0 601.2 L629.5 600.9 L630.0 600.6 L630.5 600.2 L631.0 599.8 L631.5 599.5 L632.0 599.1 L632.5 598.7 L633.0 598.4 L633.5 598.0 L634.0 597.6 L634.5 597.3 L635.0 596.9 L635.5 596.6 L636.0 596.2 L636.5 595.9 L637.0 595.6 L637.5 595.3 L638.0 595.1 L638.5 594.8 L639.0 594.6 L639.5 594.4 L640.0 594.3 L640.5 594.2 L641.0 594.1 L641.5 594.0 L642.0 594.0 L642.5 594.0 L643.0 594.2 L643.5 594.3 L644.0 594.6 L644.5 594.9 L645.0 595.3 L645.5 595.7 L646.0 596.1 L646.5 596.6 L647.0 597.1 L647.5 597.7 L648.0 598.3 L648.5 598.8 L649.0 599.4 L649.5 600.0 L650.0 600.5 L650.5 601.1 L651.0 601.7 L651.5 602.2 L652.0 602.7 L652.5 603.1 L653.0 603.5 L653.5 603.9 L654.0 604.2 L654.5 604.5 L655.0 604.6 L655.5 604.8 L656.0 604.8 L656.5 604.8 L657.0 604.7 L657.5 604.6 L658.0 604.5 L658.5 604.3 L659.0 604.1 L659.5 603.9 L660.0 603.6 L660.5 603.3 L661.0 603.0 L661.5 602.7 L662.0 602.3 L662.5 602.0 L663.0 601.6 L663.5 601.2 L664.0 600.8 L664.5 600.4 L665.0 599.9 L665.5 599.5 L666.0 599.0 L666.5 598.6 L667.0 598.2 L667.5 597.7 L668.0 597.3 L668.5 596.8 L669.0 596.4 L669.5 596.0 L670.0 595.6 L670.5 595.2 L671.0 594.9 L671.5 594.5 L672.0 594.2 L672.5 593.9 L673.0 593.6 L673.5 593.3 L674.0 593.1 L674.5 592.9 L675.0 592.7 L675.5 592.6 L676.0 592.5 L676.5 592.4 L677.0 592.4 L677.5 592.4 L678.0 592.5 L678.5 592.7 L679.0 592.9 L679.5 593.2 L680.0 593.6 L680.5 594.0 L681.0 594.4 L681.5 594.9 L682.0 595.4 L682.5 595.9 L683.0 596.5 L683.5 597.1 L684.0 597.7 L684.5 598.3 L685.0 598.9 L685.5 599.5 L686.0 600.2 L686.5 600.8 L687.0 601.4 L687.5 602.0 L688.0 602.6 L688.5 603.2 L689.0 603.7 L689.5 604.2 L690.0 604.7 L690.5 605.1 L691.0 605.5 L691.5 605.9 L692.0 606.2 L692.5 606.4 L693.0 606.6 L693.5 606.7 L694.0 606.7 L694.5 606.7 L695.0 606.5 L695.5 606.3 L696.0 606.1 L696.5 605.7 L697.0 605.3 L697.5 604.9 L698.0 604.4 L698.5 603.8 L699.0 603.2 L699.5 602.6 L700.0 601.9 L700.5 601.2 L701.0 600.5 L701.5 599.8 L702.0 599.0 L702.5 598.3 L703.0 597.5 L703.5 596.8 L704.0 596.0 L704.5 595.3 L705.0 594.6 L705.5 593.9 L706.0 593.2 L706.5 592.5 L707.0 591.9 L707.5 591.3 L708.0 590.8 L708.5 590.3 L709.0 589.9 L709.5 589.6 L710.0 589.3 L710.5 589.0 L711.0 588.9 L711.5 588.8 L711.7 588.8 L712.0 588.8 L712.5 588.9 L713.0 589.2 L713.5 589.5 L714.0 589.9 L714.5 590.5 L715.0 591.1 L715.5 591.7 L716.0 592.5 L716.5 593.2 L717.0 594.1 L717.5 595.0 L718.0 595.9 L718.5 596.8 L719.0 597.8 L719.5 598.8 L720.0 599.8 L720.5 600.8 L721.0 601.8 L721.5 602.8 L722.0 603.7 L722.5 604.7 L723.0 605.6 L723.5 606.4 L724.0 607.2 L724.5 608.0 L725.0 608.7 L725.5 609.3 L726.0 609.9 L726.5 610.3 L727.0 610.7 L727.5 611.0 L728.0 611.1 L728.5 611.2 L729.0 611.1 L729.5 611.0 L730.0 610.7 L730.5 610.3 L731.0 609.9 L731.5 609.3 L732.0 608.7 L732.5 608.0 L733.0 607.2 L733.5 606.3 L734.0 605.5 L734.5 604.5 L735.0 603.5 L735.5 602.5 L736.0 601.5 L736.5 600.4 L737.0 599.3 L737.5 598.2 L738.0 597.2 L738.5 596.1 L739.0 595.0 L739.5 593.9 L740.0 592.9 L740.5 591.9 L741.0 590.9 L741.5 589.9 L742.0 589.1 L742.5 588.2 L743.0 587.4 L743.5 586.7 L744.0 586.1 L744.5 585.5 L745.0 585.1 L745.5 584.7 L746.0 584.4 L746.5 584.3 L747.0 584.2 L747.5 584.3 L748.0 584.5 L748.5 584.9 L749.0 585.5 L749.5 586.2 L750.0 587.0 L750.5 587.9 L751.0 588.9 L751.5 590.0 L752.0 591.1 L752.5 592.4 L753.0 593.7 L753.5 595.0 L754.0 596.4 L754.5 597.8 L755.0 599.2 L755.5 600.6 L756.0 602.1 L756.5 603.5 L757.0 604.8 L757.5 606.1 L758.0 607.4 L758.5 608.6 L759.0 609.8 L759.5 610.8 L760.0 611.8 L760.5 612.7 L761.0 613.4 L761.5 614.1 L762.0 614.5 L762.5 614.9 L763.0 615.1 L763.3 615.1 L763.5 615.1 L764.0 614.9 L764.5 614.5 L765.0 614.0 L765.5 613.3 L766.0 612.4 L766.5 611.4 L767.0 610.3 L767.5 609.0 L768.0 607.7 L768.5 606.2 L769.0 604.6 L769.5 602.9 L770.0 601.2 L770.5 599.4 L771.0 597.6 L771.5 595.7 L772.0 593.8 L772.5 591.9 L773.0 590.0 L773.5 588.0 L774.0 586.1 L774.5 584.2 L775.0 582.4 L775.5 580.5 L776.0 578.8 L776.5 577.1 L777.0 575.5 L777.5 573.9 L778.0 572.5 L778.5 571.2 L779.0 569.9 L779.5 568.8 L780.0 567.9 L780.5 567.1 L781.0 566.5 L781.5 566.0 L782.0 565.7 L782.5 565.6 L783.0 565.7 L783.5 565.8 L784.0 566.1 L784.5 566.5 L785.0 567.0 L785.5 567.6 L786.0 568.2 L786.5 569.0 L787.0 569.7 L787.5 570.5 L788.0 571.4 L788.5 572.3 L789.0 573.1 L789.5 574.0 L790.0 575.0 L790.5 575.8 L791.0 576.7 L791.5 577.6 L792.0 578.4 L792.5 579.1 L793.0 579.9 L793.5 580.5 L794.0 581.1 L794.5 581.6 L795.0 582.0 L795.5 582.3 L796.0 582.4 L796.5 582.5 L797.0 581.9 L797.5 580.3 L798.0 577.8 L798.5 574.6 L799.0 570.9 L799.5 566.9 L800.0 562.8 L800.5 558.8 L801.0 555.0 L801.5 551.3 L802.0 547.3 L802.5 543.1 L803.0 538.8 L803.5 534.3 L804.0 529.6 L804.5 524.9 L805.0 520.0 L805.5 514.9 L806.0 509.4 L806.5 503.7 L807.0 497.8 L807.5 491.8 L808.0 485.8 L808.5 479.9 L809.0 474.3 L809.5 468.9 L810.0 464.0 L810.5 459.9 L811.0 456.5 L811.5 453.3 L812.0 449.6 L812.5 444.9 L812.9 440.0 L813.0 438.3 L813.5 423.5 L814.0 401.7 L814.5 378.6 L815.0 360.0 L815.2 355.0 L815.5 349.2 L816.0 340.6 L816.5 333.3 L817.0 327.0 L817.5 321.6 L818.0 317.0 L818.5 312.8 L819.0 308.9 L819.5 305.2 L820.0 301.8 L820.5 298.7 L821.0 295.9 L821.5 293.4 L822.0 291.2 L822.5 289.4 L822.8 288.5 L823.0 287.9 L823.5 286.5 L824.0 285.2 L824.5 284.0 L825.0 282.9 L825.5 281.9 L826.0 281.2 L826.5 280.8 L827.0 280.6 L827.5 281.0 L828.0 282.1 L828.5 283.9 L829.0 286.1 L829.5 288.5 L830.0 291.2 L830.5 293.9 L830.9 296.0 L831.0 296.5 L831.5 299.4 L832.0 302.7 L832.5 306.3 L833.0 310.0 L833.5 313.9 L834.0 318.1 L834.5 322.6 L835.0 327.2 L835.5 332.1 L836.0 337.0 L836.5 342.1 L837.0 347.4 L837.5 352.9 L838.0 358.7 L838.5 365.0 L839.0 372.0 L839.5 379.7 L840.0 388.0 L840.5 396.5 L841.0 404.8 L841.5 412.8 L842.0 420.0 L842.5 426.7 L843.0 433.2 L843.5 439.5 L844.0 445.6 L844.5 451.6 L845.0 457.5 L845.5 463.2 L846.0 468.7 L846.5 474.2 L847.0 479.6 L847.5 484.8 L848.0 490.0 L848.5 495.2 L849.0 500.3 L849.5 505.2 L850.0 509.9 L850.5 514.2 L850.9 517.3 L851.0 518.0 L851.5 521.5 L852.0 524.7 L852.5 527.8 L853.0 530.7 L853.5 533.5 L854.0 536.1 L854.5 538.7 L855.0 541.2 L855.5 543.6 L855.7 544.6 L856.0 546.1 L856.5 548.5 L857.0 550.8 L857.5 553.1 L858.0 555.4 L858.5 557.5 L859.0 559.6 L859.5 561.5 L860.0 563.3 L860.5 565.0 L861.0 566.6 L861.5 568.1 L862.0 569.5 L862.5 570.9 L863.0 572.3 L863.5 573.5 L864.0 574.7 L864.5 575.9 L865.0 576.9 L865.5 577.9 L865.9 578.7 L866.0 578.9 L866.5 579.8 L867.0 580.6 L867.5 581.5 L868.0 582.3 L868.5 583.0 L869.0 583.8 L869.5 584.5 L870.0 585.2 L870.5 585.8 L871.0 586.4 L871.5 587.0 L872.0 587.5 L872.5 588.0 L872.7 588.2 L873.0 588.5 L873.5 588.9 L874.0 589.3 L874.5 589.7 L875.0 590.1 L875.5 590.5 L876.0 590.9 L876.5 591.2 L877.0 591.6 L877.5 591.9 L878.0 592.2 L878.5 592.5 L879.0 592.8 L879.5 593.0 L880.0 593.3 L880.5 593.5 L880.9 593.7 L881.0 593.7 L881.5 594.0 L882.0 594.2 L882.5 594.4 L883.0 594.6 L883.5 594.8 L884.0 595.0 L884.5 595.2 L885.0 595.4 L885.5 595.6 L886.0 595.7 L886.5 595.9 L887.0 596.1 L887.5 596.2 L888.0 596.4 L888.5 596.5 L889.0 596.6 L889.5 596.7 L890.0 596.8 L890.5 596.9 L891.0 597.0 L891.5 597.1 L891.8 597.1 L892.0 597.1 L892.5 597.2 L893.0 597.2 L893.5 597.3 L894.0 597.3 L894.5 597.4 L895.0 597.4 L895.5 597.5 L896.0 597.5 L896.5 597.5 L897.0 597.6 L897.5 597.6 L898.0 597.7 L898.5 597.7 L899.0 597.7 L899.5 597.8 L900.0 597.8 L900.5 597.8 L901.0 597.9 L901.5 597.9 L902.0 597.9 L902.5 597.9 L903.0 597.9 L903.5 598.0 L904.0 598.0 L904.5 598.0 L905.0 598.0 L905.5 598.0 L906.0 598.0 L906.4 598.0"/>
<path stroke="#ff0000" d="M54.0 599.5 L54.5 599.5 L55.0 599.5 L55.5 599.4 L56.0 599.4 L56.5 599.4 L57.0 599.4 L57.5 599.4 L58.0 599.3 L58.5 599.3 L59.0 599.3 L59.5 599.3 L60.0 599.3 L60.5 599.3 L61.0 599.2 L61.5 599.2 L62.0 599.2 L62.5 599.2 L63.0 599.2 L63.5 599.2 L64.0 599.2 L64.5 599.2 L65.0 599.2 L65.5 599.1 L66.0 599.1 L66.5 599.1 L67.0 599.1 L67.5 599.1 L68.0 599.1 L68.5 599.1 L69.0 599.1 L69.5 599.1 L70.0 599.1 L70.5 599.1 L71.0 599.1 L71.5 599.1 L72.0 599.1 L72.5 599.0 L73.0 599.0 L73.5 599.0 L74.0 599.0 L74.5 599.0 L75.0 599.0 L75.5 599.0 L76.0 599.0 L76.5 599.0 L77.0 599.0 L77.5 599.0 L78.0 599.0 L78.5 599.0 L79.0 599.0 L79.5 599.0 L80.0 599.0 L80.5 599.0 L81.0 599.0 L81.5 599.0 L82.0 599.0 L82.5 599.0 L83.0 599.0 L83.5 599.0 L84.0 599.0 L84.5 599.0 L85.0 599.0 L85.5 599.0 L86.0 599.0 L86.5 599.0 L87.0 599.0 L87.5 599.0 L87.6 599.0 L88.0 599.0 L88.5 599.0 L89.0 599.0 L89.5 599.0 L90.0 599.0 L90.5 599.1 L91.0 599.1 L91.5 599.1 L92.0 599.1 L92.5 599.1 L93.0 599.2 L93.5 599.2 L94.0 599.2 L94.5 599.2 L95.0 599.3 L95.5 599.3 L96.0 599.3 L96.5 599.4 L97.0 599.4 L97.5 599.4 L98.0 599.5 L98.5 599.5 L99.0 599.5 L99.5 599.6 L100.0 599.6 L100.5 599.7 L101.0 599.7 L101.5 599.7 L102.0 599.7 L102.5 599.8 L103.0 599.8 L103.5 599.8 L104.0 599.9 L104.5 599.9 L105.0 599.9 L105.5 599.9 L106.0 599.9 L106.5 600.0 L107.0 600.0 L107.5 600.0 L108.0 600.0 L108.5 600.0 L109.0 600.0 L109.5 600.0 L110.0 600.0 L110.5 600.0 L111.0 600.0 L111.5 600.0 L112.0 599.9 L112.5 599.9 L113.0 599.9 L113.5 599.9 L114.0 599.9 L114.5 599.8 L115.0 599.8 L115.5 599.8 L116.0 599.7 L116.5 599.7 L117.0 599.7 L117.5 599.6 L118.0 599.6 L118.5 599.5 L119.0 599.5 L119.5 599.5 L120.0 599.4 L120.5 599.4 L121.0 599.4 L121.5 599.3 L122.0 599.3 L122.5 599.2 L123.0 599.2 L123.5 599.2 L124.0 599.1 L124.5 599.1 L125.0 599.1 L125.5 599.1 L126.0 599.0 L126.5 599.0 L127.0 599.0 L127.5 599.0 L128.0 598.9 L128.5 598.9 L129.0 598.9 L129.5 598.9 L130.0 598.9 L130.5 598.9 L130.6 598.9 L131.0 598.9 L131.5 598.9 L132.0 598.9 L132.5 598.9 L133.0 598.9 L133.5 599.0 L134.0 599.0 L134.5 599.0 L135.0 599.0 L135.5 599.1 L136.0 599.1 L136.5 599.1 L137.0 599.2 L137.5 599.2 L138.0 599.2 L138.5 599.3 L139.0 599.3 L139.5 599.4 L140.0 599.4 L140.5 599.4 L141.0 599.5 L141.5 599.5 L142.0 599.6 L142.5 599.6 L143.0 599.6 L143.5 599.7 L144.0 599.7 L144.5 599.8 L145.0 599.8 L145.5 599.8 L146.0 599.9 L146.5 599.9 L147.0 599.9 L147.5 600.0 L148.0 600.0 L148.5 600.0 L149.0 600.0 L149.5 600.1 L150.0 600.1 L150.5 600.1 L151.0 600.1 L151.5 600.1 L152.0 600.1 L152.5 600.1 L153.0 600.1 L153.5 600.1 L154.0 600.1 L154.5 600.1 L155.0 600.0 L155.5 600.0 L156.0 600.0 L156.5 600.0 L157.0 599.9 L157.5 599.9 L158.0 599.9 L158.5 599.8 L159.0 599.8 L159.5 599.7 L160.0 599.7 L160.5 599.7 L161.0 599.6 L161.5 599.6 L162.0 599.5 L162.5 599.5 L163.0 599.4 L163.5 599.4 L164.0 599.3 L164.5 599.3 L165.0 599.3 L165.5 599.2 L166.0 599.2 L166.5 599.1 L167.0 599.1 L167.5 599.1 L168.0 599.0 L168.5 599.0 L169.0 599.0 L169.5 598.9 L170.0 598.9 L170.5 598.9 L171.0 598.9 L171.5 598.8 L172.0 598.8 L172.5 598.8 L173.0 598.8 L173.5 598.8 L173.6 598.8 L174.0 598.8 L174.5 598.8 L175.0 598.8 L175.5 598.8 L176.0 598.8 L176.5 598.9 L177.0 598.9 L177.5 598.9 L178.0 599.0 L178.5 599.0 L179.0 599.0 L179.5 599.1 L180.0 599.1 L180.5 599.1 L181.0 599.2 L181.5 599.2 L182.0 599.3 L182.5 599.3 L183.0 599.4 L183.5 599.4 L184.0 599.5 L184.5 599.5 L185.0 599.6 L185.5 599.6 L186.0 599.7 L186.5 599.7 L187.0 599.8 L187.5 599.8 L188.0 599.8 L188.5 599.9 L189.0 599.9 L189.5 600.0 L190.0 600.0 L190.5 600.0 L191.0 600.1 L191.5 600.1 L192.0 600.1 L192.5 600.1 L193.0 600.2 L193.5 600.2 L194.0 600.2 L194.5 600.2 L195.0 600.2 L195.5 600.2 L196.0 600.2 L196.5 600.2 L197.0 600.2 L197.5 600.1 L198.0 600.1 L198.5 600.1 L199.0 600.1 L199.5 600.0 L200.0 600.0 L200.5 600.0 L201.0 599.9 L201.5 599.9 L202.0 599.8 L202.5 599.8 L203.0 599.7 L203.5 599.7 L204.0 599.6 L204.5 599.6 L205.0 599.5 L205.5 599.5 L206.0 599.4 L206.5 599.4 L207.0 599.3 L207.5 599.3 L208.0 599.2 L208.5 599.2 L209.0 599.1 L209.5 599.1 L210.0 599.0 L210.5 599.0 L211.0 599.0 L211.5 598.9 L212.0 598.9 L212.5 598.8 L213.0 598.8 L213.5 598.8 L214.0 598.8 L214.5 598.7 L215.0 598.7 L215.5 598.7 L216.0 598.7 L216.5 598.7 L216.6 598.7 L217.0 598.7 L217.5 598.7 L218.0 598.7 L218.5 598.7 L219.0 598.8 L219.5 598.8 L220.0 598.8 L220.5 598.8 L221.0 598.9 L221.5 598.9 L222.0 599.0 L222.5 599.0 L223.0 599.1 L223.5 599.1 L224.0 599.2 L224.5 599.2 L225.0 599.3 L225.5 599.3 L226.0 599.4 L226.5 599.5 L227.0 599.5 L227.5 599.6 L228.0 599.6 L228.5 599.7 L229.0 599.8 L229.5 599.8 L230.0 599.9 L230.5 599.9 L231.0 600.0 L231.5 600.0 L232.0 600.1 L232.5 600.1 L233.0 600.2 L233.5 600.2 L234.0 600.2 L234.5 600.3 L235.0 600.3 L235.5 600.3 L236.0 600.4 L236.5 600.4 L237.0 600.4 L237.5 600.4 L238.0 600.4 L238.5 600.4 L239.0 600.4 L239.5 600.4 L240.0 600.4 L240.5 600.3 L241.0 600.3 L241.5 600.3 L242.0 600.2 L242.5 600.2 L243.0 600.1 L243.5 600.1 L244.0 600.0 L244.5 600.0 L245.0 599.9 L245.5 599.9 L246.0 599.8 L246.5 599.7 L247.0 599.7 L247.5 599.6 L248.0 599.6 L248.5 599.5 L249.0 599.4 L249.5 599.4 L250.0 599.3 L250.5 599.2 L251.0 599.2 L251.5 599.1 L252.0 599.0 L252.5 599.0 L253.0 598.9 L253.5 598.9 L254.0 598.8 L254.5 598.8 L255.0 598.7 L255.5 598.7 L256.0 598.6 L256.5 598.6 L257.0 598.6 L257.5 598.6 L258.0 598.5 L258.5 598.5 L259.0 598.5 L259.5 598.5 L259.6 598.5 L260.0 598.5 L260.5 598.5 L261.0 598.5 L261.5 598.5 L262.0 598.6 L262.5 598.6 L263.0 598.6 L263.5 598.7 L264.0 598.7 L264.5 598.8 L265.0 598.8 L265.5 598.9 L266.0 599.0 L266.5 599.0 L267.0 599.1 L267.5 599.1 L268.0 599.2 L268.5 599.3 L269.0 599.4 L269.5 599.4 L270.0 599.5 L270.5 599.6 L271.0 599.7 L271.5 599.7 L272.0 599.8 L272.5 599.9 L273.0 599.9 L273.5 600.0 L274.0 600.1 L274.5 600.1 L275.0 600.2 L275.5 600.3 L276.0 600.3 L276.5 600.4 L277.0 600.4 L277.5 600.4 L278.0 600.5 L278.5 600.5 L279.0 600.5 L279.5 600.6 L280.0 600.6 L280.5 600.6 L281.0 600.6 L281.5 600.6 L282.0 600.6 L282.5 600.6 L283.0 600.5 L283.5 600.5 L284.0 600.5 L284.5 600.4 L285.0 600.4 L285.5 600.3 L286.0 600.2 L286.5 600.2 L287.0 600.1 L287.5 600.0 L288.0 599.9 L288.5 599.8 L289.0 599.8 L289.5 599.7 L290.0 599.6 L290.5 599.5 L291.0 599.4 L291.5 599.3 L292.0 599.2 L292.5 599.1 L293.0 599.0 L293.5 598.9 L294.0 598.8 L294.5 598.8 L295.0 598.7 L295.5 598.6 L296.0 598.5 L296.5 598.4 L297.0 598.4 L297.5 598.3 L298.0 598.2 L298.5 598.2 L299.0 598.1 L299.5 598.1 L300.0 598.1 L300.5 598.0 L301.0 598.0 L301.5 598.0 L302.0 598.0 L302.5 598.0 L303.0 598.0 L303.5 598.0 L304.0 598.1 L304.5 598.1 L305.0 598.2 L305.5 598.2 L306.0 598.3 L306.5 598.3 L307.0 598.4 L307.5 598.5 L308.0 598.6 L308.5 598.6 L309.0 598.7 L309.5 598.8 L310.0 598.9 L310.5 599.0 L311.0 599.1 L311.5 599.2 L312.0 599.3 L312.5 599.4 L313.0 599.5 L313.5 599.6 L314.0 599.7 L314.5 599.8 L315.0 599.9 L315.5 600.0 L316.0 600.1 L316.5 600.2 L317.0 600.3 L317.5 600.4 L318.0 600.5 L318.5 600.6 L319.0 600.6 L319.5 600.7 L320.0 600.8 L320.5 600.8 L321.0 600.9 L321.5 600.9 L322.0 600.9 L322.5 601.0 L323.0 601.0 L323.5 601.0 L323.7 601.0 L324.0 601.0 L324.5 601.0 L325.0 601.0 L325.5 600.9 L326.0 600.9 L326.5 600.9 L327.0 600.8 L327.5 600.7 L328.0 600.7 L328.5 600.6 L329.0 600.5 L329.5 600.5 L330.0 600.4 L330.5 600.3 L331.0 600.2 L331.5 600.1 L332.0 600.0 L332.5 599.9 L333.0 599.8 L333.5 599.7 L334.0 599.6 L334.5 599.5 L335.0 599.4 L335.5 599.3 L336.0 599.2 L336.5 599.1 L337.0 599.0 L337.5 598.9 L338.0 598.8 L338.5 598.7 L339.0 598.6 L339.5 598.5 L340.0 598.4 L340.5 598.3 L341.0 598.3 L341.5 598.2 L342.0 598.2 L342.5 598.1 L343.0 598.1 L343.5 598.0 L344.0 598.0 L344.5 598.0 L345.0 598.0 L345.5 598.0 L346.0 598.0 L346.5 598.0 L347.0 598.1 L347.5 598.1 L348.0 598.2 L348.5 598.2 L349.0 598.3 L349.5 598.3 L350.0 598.4 L350.5 598.5 L351.0 598.6 L351.5 598.7 L352.0 598.8 L352.5 598.9 L353.0 599.0 L353.5 599.1 L354.0 599.2 L354.5 599.3 L355.0 599.4 L355.5 599.5 L356.0 599.6 L356.5 599.7 L357.0 599.8 L357.5 599.9 L358.0 600.0 L358.5 600.1 L359.0 600.2 L359.5 600.3 L360.0 600.4 L360.5 600.5 L361.0 600.6 L361.5 600.7 L362.0 600.8 L362.5 600.9 L363.0 600.9 L363.5 601.0 L364.0 601.0 L364.5 601.1 L365.0 601.1 L365.5 601.2 L366.0 601.2 L366.5 601.2 L367.0 601.2 L367.5 601.2 L368.0 601.2 L368.5 601.2 L369.0 601.1 L369.5 601.1 L370.0 601.0 L370.5 600.9 L371.0 600.9 L371.5 600.8 L372.0 600.7 L372.5 600.6 L373.0 600.5 L373.5 600.4 L374.0 600.3 L374.5 600.2 L375.0 600.1 L375.5 600.0 L376.0 599.8 L376.5 599.7 L377.0 599.6 L377.5 599.5 L378.0 599.4 L378.5 599.2 L379.0 599.1 L379.5 599.0 L380.0 598.9 L380.5 598.7 L381.0 598.6 L381.5 598.5 L382.0 598.4 L382.5 598.3 L383.0 598.2 L383.5 598.1 L384.0 598.0 L384.5 597.9 L385.0 597.9 L385.5 597.8 L386.0 597.7 L386.5 597.7 L387.0 597.7 L387.5 597.6 L388.0 597.6 L388.5 597.6 L388.6 597.6 L389.0 597.6 L389.5 597.6 L390.0 597.6 L390.5 597.7 L391.0 597.7 L391.5 597.8 L392.0 597.9 L392.5 597.9 L393.0 598.0 L393.5 598.1 L394.0 598.2 L394.5 598.3 L395.0 598.4 L395.5 598.6 L396.0 598.7 L396.5 598.8 L397.0 598.9 L397.5 599.1 L398.0 599.2 L398.5 599.3 L399.0 599.5 L399.5 599.6 L400.0 599.7 L400.5 599.9 L401.0 600.0 L401.5 600.1 L402.0 600.3 L402.5 600.4 L403.0 600.5 L403.5 600.6 L404.0 600.8 L404.5 600.9 L405.0 601.0 L405.5 601.1 L406.0 601.1 L406.5 601.2 L407.0 601.3 L407.5 601.4 L408.0 601.4 L408.5 601.4 L409.0 601.5 L409.5 601.5 L410.0 601.5 L410.5 601.5 L411.0 601.5 L411.5 601.4 L412.0 601.4 L412.5 601.3 L413.0 601.3 L413.5 601.2 L414.0 601.1 L414.5 601.0 L415.0 600.9 L415.5 600.8 L416.0 600.7 L416.5 600.5 L417.0 600.4 L417.5 600.2 L418.0 600.1 L418.5 600.0 L419.0 599.8 L419.5 599.7 L420.0 599.5 L420.5 599.3 L421.0 599.2 L421.5 599.0 L422.0 598.9 L422.5 598.7 L423.0 598.6 L423.5 598.4 L424.0 598.3 L424.5 598.1 L425.0 598.0 L425.5 597.9 L426.0 597.8 L426.5 597.6 L427.0 597.5 L427.5 597.4 L428.0 597.3 L428.5 597.3 L429.0 597.2 L429.5 597.1 L430.0 597.1 L430.5 597.0 L431.0 597.0 L431.5 597.0 L431.6 597.0 L432.0 597.0 L432.5 597.0 L433.0 597.1 L433.5 597.1 L434.0 597.2 L434.5 597.2 L435.0 597.3 L435.5 597.4 L436.0 597.5 L436.5 597.6 L437.0 597.7 L437.5 597.9 L438.0 598.0 L438.5 598.1 L439.0 598.3 L439.5 598.4 L440.0 598.6 L440.5 598.7 L441.0 598.9 L441.5 599.1 L442.0 599.2 L442.5 599.4 L443.0 599.6 L443.5 599.7 L444.0 599.9 L444.5 600.1 L445.0 600.2 L445.5 600.4 L446.0 600.5 L446.5 600.7 L447.0 600.8 L447.5 601.0 L448.0 601.1 L448.5 601.2 L449.0 601.4 L449.5 601.5 L450.0 601.6 L450.5 601.7 L451.0 601.8 L451.5 601.8 L452.0 601.9 L452.5 601.9 L453.0 602.0 L453.5 602.0 L454.0 602.0 L454.5 602.0 L455.0 602.0 L455.5 601.9 L456.0 601.8 L456.5 601.7 L457.0 601.6 L457.5 601.5 L458.0 601.4 L458.5 601.2 L459.0 601.1 L459.5 600.9 L460.0 600.7 L460.5 600.5 L461.0 600.3 L461.5 600.1 L462.0 599.9 L462.5 599.7 L463.0 599.4 L463.5 599.2 L464.0 599.0 L464.5 598.8 L465.0 598.5 L465.5 598.3 L466.0 598.1 L466.5 597.9 L467.0 597.6 L467.5 597.4 L468.0 597.2 L468.5 597.0 L469.0 596.8 L469.5 596.7 L470.0 596.5 L470.5 596.3 L471.0 596.2 L471.5 596.1 L472.0 596.0 L472.5 595.9 L473.0 595.8 L473.5 595.8 L474.0 595.7 L474.5 595.7 L474.6 595.7 L475.0 595.7 L475.5 595.7 L476.0 595.8 L476.5 595.9 L477.0 596.0 L477.5 596.2 L478.0 596.3 L478.5 596.5 L479.0 596.7 L479.5 596.9 L480.0 597.1 L480.5 597.4 L481.0 597.6 L481.5 597.9 L482.0 598.2 L482.5 598.5 L483.0 598.8 L483.5 599.1 L484.0 599.4 L484.5 599.7 L485.0 600.0 L485.5 600.3 L486.0 600.6 L486.5 600.9 L487.0 601.2 L487.5 601.5 L488.0 601.7 L488.5 602.0 L489.0 602.3 L489.5 602.5 L490.0 602.7 L490.5 603.0 L491.0 603.2 L491.5 603.4 L492.0 603.5 L492.5 603.7 L493.0 603.8 L493.5 603.9 L494.0 603.9 L494.5 604.0 L495.0 604.0 L495.5 604.0 L496.0 603.9 L496.5 603.9 L497.0 603.8 L497.5 603.6 L498.0 603.5 L498.5 603.3 L499.0 603.1 L499.5 602.9 L500.0 602.6 L500.5 602.4 L501.0 602.1 L501.5 601.8 L502.0 601.5 L502.5 601.2 L503.0 600.9 L503.5 600.5 L504.0 600.2 L504.5 599.8 L505.0 599.5 L505.5 599.1 L506.0 598.8 L506.5 598.4 L507.0 598.1 L507.5 597.8 L508.0 597.4 L508.5 597.1 L509.0 596.8 L509.5 596.4 L510.0 596.1 L510.5 595.9 L511.0 595.6 L511.5 595.3 L512.0 595.1 L512.5 594.9 L513.0 594.7 L513.5 594.5 L514.0 594.3 L514.5 594.2 L515.0 594.1 L515.5 594.1 L516.0 594.0 L516.4 594.0 L516.5 594.0 L517.0 594.0 L517.5 594.1 L518.0 594.2 L518.5 594.3 L519.0 594.4 L519.5 594.6 L520.0 594.8 L520.5 595.1 L521.0 595.3 L521.5 595.6 L522.0 595.9 L522.5 596.2 L523.0 596.5 L523.5 596.8 L524.0 597.2 L524.5 597.5 L525.0 597.9 L525.5 598.3 L526.0 598.7 L526.5 599.1 L527.0 599.4 L527.5 599.8 L528.0 600.2 L528.5 600.6 L529.0 601.0 L529.5 601.4 L530.0 601.7 L530.5 602.1 L531.0 602.4 L531.5 602.8 L532.0 603.1 L532.5 603.4 L533.0 603.7 L533.5 603.9 L534.0 604.2 L534.5 604.4 L535.0 604.6 L535.5 604.8 L536.0 604.9 L536.5 605.0 L537.0 605.1 L537.5 605.2 L538.0 605.2 L538.5 605.2 L539.0 605.1 L539.5 605.0 L540.0 604.9 L540.5 604.7 L541.0 604.4 L541.5 604.2 L542.0 603.9 L542.5 603.6 L543.0 603.3 L543.5 602.9 L544.0 602.5 L544.5 602.1 L545.0 601.7 L545.5 601.2 L546.0 600.8 L546.5 600.3 L547.0 599.8 L547.5 599.4 L548.0 598.9 L548.5 598.4 L549.0 597.9 L549.5 597.4 L550.0 597.0 L550.5 596.5 L551.0 596.0 L551.5 595.6 L552.0 595.1 L552.5 594.7 L553.0 594.3 L553.5 593.9 L554.0 593.5 L554.5 593.2 L555.0 592.9 L555.5 592.6 L556.0 592.4 L556.5 592.1 L557.0 591.9 L557.5 591.8 L558.0 591.7 L558.5 591.6 L559.0 591.6 L559.5 591.6 L560.0 591.7 L560.5 591.8 L561.0 592.0 L561.5 592.2 L562.0 592.4 L562.5 592.6 L563.0 592.9 L563.5 593.3 L564.0 593.6 L564.5 594.0 L565.0 594.4 L565.5 594.8 L566.0 595.3 L566.5 595.7 L567.0 596.2 L567.5 596.7 L568.0 597.2 L568.5 597.7 L569.0 598.3 L569.5 598.8 L570.0 599.3 L570.5 599.8 L571.0 600.3 L571.5 600.9 L572.0 601.4 L572.5 601.9 L573.0 602.4 L573.5 602.9 L574.0 603.3 L574.5 603.8 L575.0 604.2 L575.5 604.6 L576.0 605.0 L576.5 605.3 L577.0 605.7 L577.5 606.0 L578.0 606.2 L578.5 606.4 L579.0 606.6 L579.5 606.8 L580.0 606.9 L580.5 607.0 L581.0 607.0 L581.5 607.0 L582.0 606.9 L582.5 606.8 L583.0 606.6 L583.5 606.4 L584.0 606.1 L584.5 605.8 L585.0 605.4 L585.5 605.1 L586.0 604.7 L586.5 604.2 L587.0 603.7 L587.5 603.3 L588.0 602.7 L588.5 602.2 L589.0 601.7 L589.5 601.1 L590.0 600.5 L590.5 599.9 L591.0 599.3 L591.5 598.7 L592.0 598.2 L592.5 597.6 L593.0 597.0 L593.5 596.4 L594.0 595.8 L594.5 595.2 L595.0 594.7 L595.5 594.2 L596.0 593.6 L596.5 593.2 L597.0 592.7 L597.5 592.2 L598.0 591.8 L598.5 591.5 L599.0 591.1 L599.5 590.8 L600.0 590.5 L600.5 590.3 L601.0 590.1 L601.5 590.0 L602.0 589.9 L602.5 589.9 L603.0 589.9 L603.5 590.0 L604.0 590.2 L604.5 590.4 L605.0 590.7 L605.5 591.0 L606.0 591.4 L606.5 591.8 L607.0 592.3 L607.5 592.8 L608.0 593.3 L608.5 593.9 L609.0 594.5 L609.5 595.1 L610.0 595.7 L610.5 596.4 L611.0 597.1 L611.5 597.8 L612.0 598.5 L612.5 599.2 L613.0 599.9 L613.5 600.7 L614.0 601.4 L614.5 602.1 L615.0 602.8 L615.5 603.5 L616.0 604.2 L616.5 604.9 L617.0 605.5 L617.5 606.1 L618.0 606.7 L618.5 607.3 L619.0 607.8 L619.5 608.3 L620.0 608.8 L620.5 609.2 L621.0 609.6 L621.5 609.9 L622.0 610.2 L622.5 610.4 L623.0 610.6 L623.5 610.7 L624.0 610.7 L624.5 610.7 L625.0 610.5 L625.5 610.4 L626.0 610.1 L626.5 609.8 L627.0 609.4 L627.5 609.0 L628.0 608.5 L628.5 607.9 L629.0 607.4 L629.5 606.7 L630.0 606.1 L630.5 605.4 L631.0 604.6 L631.5 603.9 L632.0 603.1 L632.5 602.3 L633.0 601.5 L633.5 600.6 L634.0 599.8 L634.5 598.9 L635.0 598.1 L635.5 597.2 L636.0 596.4 L636.5 595.5 L637.0 594.7 L637.5 593.9 L638.0 593.1 L638.5 592.4 L639.0 591.6 L639.5 590.9 L640.0 590.3 L640.5 589.6 L641.0 589.1 L641.5 588.5 L642.0 588.0 L642.5 587.6 L643.0 587.2 L643.5 586.9 L644.0 586.6 L644.5 586.5 L645.0 586.3 L645.5 586.3 L646.0 586.3 L646.5 586.5 L647.0 586.7 L647.5 587.0 L648.0 587.3 L648.5 587.7 L649.0 588.2 L649.5 588.7 L650.0 589.3 L650.5 590.0 L651.0 590.6 L651.5 591.4 L652.0 592.1 L652.5 592.9 L653.0 593.8 L653.5 594.6 L654.0 595.5 L654.5 596.4 L655.0 597.3 L655.5 598.3 L656.0 599.2 L656.5 600.1 L657.0 601.0 L657.5 602.0 L658.0 602.9 L658.5 603.8 L659.0 604.7 L659.5 605.5 L660.0 606.4 L660.5 607.2 L661.0 607.9 L661.5 608.7 L662.0 609.3 L662.5 610.0 L663.0 610.6 L663.5 611.1 L664.0 611.6 L664.5 612.0 L665.0 612.3 L665.5 612.6 L666.0 612.8 L666.5 613.0 L667.0 613.0 L667.5 613.0 L668.0 612.8 L668.5 612.6 L669.0 612.3 L669.5 611.9 L670.0 611.4 L670.5 610.8 L671.0 610.2 L671.5 609.6 L672.0 608.8 L672.5 608.0 L673.0 607.2 L673.5 606.3 L674.0 605.4 L674.5 604.5 L675.0 603.5 L675.5 602.5 L676.0 601.5 L676.5 600.4 L677.0 599.4 L677.5 598.3 L678.0 597.3 L678.5 596.2 L679.0 595.2 L679.5 594.1 L680.0 593.1 L680.5 592.1 L681.0 591.1 L681.5 590.2 L682.0 589.3 L682.5 588.4 L683.0 587.6 L683.5 586.8 L684.0 586.0 L684.5 585.4 L685.0 584.8 L685.5 584.2 L686.0 583.7 L686.5 583.3 L687.0 583.0 L687.5 582.8 L688.0 582.6 L688.5 582.6 L689.0 582.6 L689.5 582.8 L690.0 583.0 L690.5 583.4 L691.0 583.8 L691.5 584.3 L692.0 584.8 L692.5 585.5 L693.0 586.2 L693.5 586.9 L694.0 587.8 L694.5 588.6 L695.0 589.6 L695.5 590.5 L696.0 591.6 L696.5 592.6 L697.0 593.7 L697.5 594.8 L698.0 595.9 L698.5 597.1 L699.0 598.2 L699.5 599.4 L700.0 600.6 L700.5 601.7 L701.0 602.9 L701.5 604.1 L702.0 605.2 L702.5 606.4 L703.0 607.5 L703.5 608.6 L704.0 609.6 L704.5 610.7 L705.0 611.6 L705.5 612.6 L706.0 613.5 L706.5 614.3 L707.0 615.1 L707.5 615.9 L708.0 616.5 L708.5 617.1 L709.0 617.6 L709.5 618.1 L710.0 618.4 L710.5 618.7 L711.0 618.9 L711.5 619.0 L711.7 619.0 L712.0 619.0 L712.5 618.8 L713.0 618.5 L713.5 618.0 L714.0 617.5 L714.5 616.7 L715.0 615.9 L715.5 615.0 L716.0 614.0 L716.5 612.9 L717.0 611.7 L717.5 610.4 L718.0 609.0 L718.5 607.6 L719.0 606.2 L719.5 604.7 L720.0 603.1 L720.5 601.6 L721.0 600.0 L721.5 598.4 L722.0 596.8 L722.5 595.2 L723.0 593.6 L723.5 592.0 L724.0 590.4 L724.5 588.9 L725.0 587.5 L725.5 586.0 L726.0 584.7 L726.5 583.3 L727.0 582.1 L727.5 581.0 L728.0 579.9 L728.5 578.9 L729.0 578.1 L729.5 577.3 L730.0 576.7 L730.5 576.2 L731.0 575.8 L731.5 575.6 L732.0 575.5 L732.5 575.6 L733.0 575.9 L733.5 576.3 L734.0 576.9 L734.5 577.6 L735.0 578.5 L735.5 579.6 L736.0 580.7 L736.5 582.0 L737.0 583.3 L737.5 584.8 L738.0 586.3 L738.5 587.9 L739.0 589.6 L739.5 591.3 L740.0 593.1 L740.5 594.9 L741.0 596.8 L741.5 598.6 L742.0 600.5 L742.5 602.4 L743.0 604.2 L743.5 606.1 L744.0 607.9 L744.5 609.7 L745.0 611.4 L745.5 613.1 L746.0 614.7 L746.5 616.2 L747.0 617.7 L747.5 619.0 L748.0 620.3 L748.5 621.4 L749.0 622.5 L749.5 623.4 L750.0 624.1 L750.5 624.7 L751.0 625.1 L751.5 625.4 L752.0 625.5 L752.5 625.4 L753.0 625.2 L753.5 624.8 L754.0 624.3 L754.5 623.7 L755.0 622.9 L755.5 622.0 L756.0 621.0 L756.5 620.0 L757.0 618.8 L757.5 617.5 L758.0 616.1 L758.5 614.6 L759.0 613.1 L759.5 611.5 L760.0 609.9 L760.5 608.2 L761.0 606.4 L761.5 604.6 L762.0 602.8 L762.5 600.9 L763.0 599.1 L763.5 597.2 L764.0 595.3 L764.5 593.4 L765.0 591.5 L765.5 589.6 L766.0 587.7 L766.5 585.8 L767.0 584.0 L767.5 582.2 L768.0 580.5 L768.5 578.8 L769.0 577.1 L769.5 575.6 L770.0 574.1 L770.5 572.6 L771.0 571.3 L771.5 570.0 L772.0 568.8 L772.5 567.7 L773.0 566.8 L773.5 565.9 L774.0 565.2 L774.5 564.6 L775.0 564.1 L775.5 563.7 L776.0 563.5 L776.4 563.5 L776.5 563.5 L777.0 563.7 L777.5 564.1 L778.0 564.7 L778.5 565.5 L779.0 566.5 L779.5 567.6 L780.0 568.9 L780.5 570.4 L781.0 572.0 L781.5 573.6 L782.0 575.4 L782.5 577.3 L783.0 579.2 L783.5 581.2 L784.0 583.2 L784.5 585.2 L785.0 587.2 L785.5 589.2 L786.0 591.2 L786.5 593.2 L787.0 595.1 L787.5 597.0 L788.0 598.7 L788.5 600.4 L789.0 601.9 L789.5 603.3 L790.0 604.6 L790.5 605.7 L791.0 606.7 L791.5 607.5 L792.0 608.0 L792.5 608.4 L793.0 608.5 L793.5 608.2 L794.0 607.4 L794.5 606.1 L795.0 604.3 L795.5 602.2 L796.0 599.6 L796.5 596.8 L797.0 593.7 L797.5 590.4 L798.0 586.9 L798.5 583.2 L799.0 579.5 L799.5 575.8 L800.0 572.0 L800.5 567.8 L801.0 562.7 L801.5 556.9 L802.0 550.7 L802.5 544.2 L803.0 537.7 L803.5 531.2 L804.0 525.0 L804.5 518.9 L805.0 512.4 L805.5 505.9 L806.0 499.2 L806.5 492.6 L807.0 486.2 L807.5 480.0 L808.0 474.2 L808.5 468.8 L809.0 464.0 L809.5 460.2 L810.0 457.3 L810.5 454.7 L811.0 452.0 L811.5 448.5 L812.0 443.7 L812.3 440.0 L812.5 435.5 L813.0 413.4 L813.5 386.6 L813.8 374.0 L814.0 367.4 L814.5 351.9 L815.0 339.6 L815.2 336.0 L815.5 331.5 L816.0 324.8 L816.5 319.1 L817.0 314.1 L817.5 309.7 L818.0 305.7 L818.5 301.8 L819.0 298.0 L819.5 294.0 L820.0 290.0 L820.5 286.3 L821.0 283.1 L821.5 280.8 L821.8 280.0 L822.0 279.6 L822.5 278.7 L823.0 277.9 L823.5 277.3 L824.0 276.7 L824.5 276.3 L825.0 276.0 L825.5 275.8 L825.7 275.8 L826.0 275.9 L826.5 276.3 L827.0 277.0 L827.5 278.1 L828.0 279.4 L828.5 280.9 L829.0 282.6 L829.5 284.5 L829.8 285.6 L830.0 286.5 L830.5 289.6 L831.0 293.7 L831.5 298.5 L832.0 303.4 L832.5 308.2 L832.7 310.0 L833.0 312.6 L833.5 316.8 L834.0 320.9 L834.5 325.3 L835.0 329.9 L835.5 334.9 L835.7 337.0 L836.0 340.4 L836.5 346.8 L837.0 353.7 L837.5 361.0 L837.8 365.5 L838.0 368.6 L838.5 377.0 L839.0 386.0 L839.5 395.2 L840.0 404.2 L840.5 412.6 L841.0 420.0 L841.5 426.6 L842.0 432.8 L842.5 438.7 L843.0 444.4 L843.5 449.8 L844.0 455.0 L844.5 460.1 L845.0 465.1 L845.5 470.0 L846.0 474.9 L846.5 479.9 L847.0 484.9 L847.5 490.0 L848.0 495.2 L848.5 500.5 L849.0 505.7 L849.5 510.7 L850.0 515.5 L850.2 517.3 L850.5 520.0 L851.0 524.4 L851.5 528.8 L852.0 533.0 L852.5 536.9 L853.0 540.6 L853.5 544.0 L853.6 544.6 L854.0 547.0 L854.5 549.9 L855.0 552.7 L855.5 555.3 L856.0 557.8 L856.5 560.1 L857.0 562.3 L857.5 564.3 L857.7 565.0 L858.0 566.1 L858.5 567.8 L859.0 569.5 L859.5 571.0 L860.0 572.5 L860.5 573.9 L861.0 575.3 L861.5 576.5 L862.0 577.6 L862.5 578.7 L863.0 579.7 L863.5 580.7 L864.0 581.6 L864.5 582.5 L865.0 583.4 L865.5 584.2 L866.0 585.0 L866.5 585.7 L867.0 586.4 L867.5 587.0 L868.0 587.6 L868.5 588.1 L868.6 588.2 L869.0 588.6 L869.5 589.0 L870.0 589.5 L870.5 589.9 L871.0 590.3 L871.5 590.6 L872.0 591.0 L872.5 591.3 L873.0 591.6 L873.5 592.0 L874.0 592.2 L874.5 592.5 L875.0 592.8 L875.5 593.1 L876.0 593.3 L876.5 593.6 L876.8 593.7 L877.0 593.8 L877.5 594.0 L878.0 594.3 L878.5 594.5 L879.0 594.7 L879.5 594.9 L880.0 595.2 L880.5 595.4 L881.0 595.6 L881.5 595.8 L882.0 596.0 L882.5 596.2 L883.0 596.3 L883.5 596.5 L884.0 596.6 L884.5 596.8 L885.0 596.9 L885.5 597.0 L886.0 597.0 L886.4 597.1 L886.5 597.1 L887.0 597.2 L887.5 597.2 L888.0 597.3 L888.5 597.3 L889.0 597.4 L889.5 597.4 L890.0 597.5 L890.5 597.5 L891.0 597.6 L891.5 597.6 L892.0 597.7 L892.5 597.7 L893.0 597.7 L893.5 597.8 L894.0 597.8 L894.5 597.9 L895.0 597.9 L895.5 597.9 L896.0 598.0 L896.5 598.0 L897.0 598.0 L897.5 598.0 L898.0 598.1 L898.5 598.1 L899.0 598.1 L899.5 598.1 L900.0 598.2 L900.5 598.2 L901.0 598.2 L901.5 598.2 L902.0 598.2 L902.5 598.2 L903.0 598.3 L903.5 598.3 L904.0 598.3 L904.5 598.3 L905.0 598.3 L905.5 598.3 L906.0 598.3 L906.4 598.3"/>
<path stroke="#00bfbf" d="M54.0 599.5 L54.5 599.5 L55.0 599.5 L55.5 599.5 L56.0 599.5 L56.5 599.5 L57.0 599.5 L57.5 599.5 L58.0 599.5 L58.5 599.5 L59.0 599.5 L59.5 599.5 L60.0 599.5 L60.5 599.5 L61.0 599.5 L61.5 599.5 L62.0 599.5 L62.5 599.5 L63.0 599.6 L63.5 599.6 L64.0 599.6 L64.5 599.6 L65.0 599.6 L65.5 599.6 L66.0 599.6 L66.5 599.7 L67.0 599.7 L67.5 599.7 L68.0 599.7 L68.5 599.7 L69.0 599.7 L69.5 599.8 L70.0 599.8 L70.5 599.8 L71.0 599.8 L71.5 599.8 L72.0 599.9 L72.5 599.9 L73.0 599.9 L73.5 599.9 L74.0 599.9 L74.5 600.0 L75.0 600.0 L75.5 600.0 L76.0 600.0 L76.5 600.0 L77.0 600.1 L77.5 600.1 L78.0 600.1 L78.5 600.1 L79.0 600.1 L79.5 600.1 L80.0 600.2 L80.5 600.2 L81.0 600.2 L81.5 600.2 L82.0 600.2 L82.5 600.2 L83.0 600.2 L83.5 600.3 L84.0 600.3 L84.5 600.3 L85.0 600.3 L85.5 600.3 L86.0 600.3 L86.5 600.3 L87.0 600.3 L87.5 600.3 L88.0 600.3 L88.5 600.3 L89.0 600.3 L89.5 600.3 L90.0 600.3 L90.5 600.3 L91.0 600.2 L91.5 600.2 L92.0 600.2 L92.5 600.2 L93.0 600.1 L93.5 600.1 L94.0 600.1 L94.5 600.0 L95.0 600.0 L95.5 600.0 L96.0 599.9 L96.5 599.9 L97.0 599.8 L97.5 599.8 L98.0 599.7 L98.5 599.7 L99.0 599.6 L99.5 599.6 L100.0 599.5 L100.5 599.5 L101.0 599.4 L101.5 599.4 L102.0 599.3 L102.5 599.3 L103.0 599.2 L103.5 599.2 L104.0 599.1 L104.5 599.0 L105.0 599.0 L105.5 598.9 L106.0 598.9 L106.5 598.8 L107.0 598.7 L107.5 598.7 L108.0 598.6 L108.5 598.6 L109.0 598.5 L109.5 598.5 L110.0 598.4 L110.5 598.4 L111.0 598.3 L111.5 598.3 L112.0 598.2 L112.5 598.2 L113.0 598.1 L113.5 598.1 L114.0 598.0 L114.5 598.0 L115.0 598.0 L115.5 597.9 L116.0 597.9 L116.5 597.9 L117.0 597.8 L117.5 597.8 L118.0 597.8 L118.5 597.8 L119.0 597.7 L119.5 597.7 L120.0 597.7 L120.5 597.7 L121.0 597.7 L121.5 597.7 L121.6 597.7 L122.0 597.7 L122.5 597.7 L123.0 597.7 L123.5 597.7 L124.0 597.8 L124.5 597.8 L125.0 597.9 L125.5 597.9 L126.0 597.9 L126.5 598.0 L127.0 598.1 L127.5 598.1 L128.0 598.2 L128.5 598.3 L129.0 598.3 L129.5 598.4 L130.0 598.5 L130.5 598.6 L131.0 598.7 L131.5 598.7 L132.0 598.8 L132.5 598.9 L133.0 599.0 L133.5 599.1 L134.0 599.2 L134.5 599.3 L135.0 599.4 L135.5 599.5 L136.0 599.6 L136.5 599.7 L137.0 599.8 L137.5 599.8 L138.0 599.9 L138.5 600.0 L139.0 600.1 L139.5 600.2 L140.0 600.3 L140.5 600.4 L141.0 600.4 L141.5 600.5 L142.0 600.6 L142.5 600.6 L143.0 600.7 L143.5 600.7 L144.0 600.8 L144.5 600.8 L145.0 600.9 L145.5 600.9 L146.0 600.9 L146.5 601.0 L147.0 601.0 L147.5 601.0 L148.0 601.0 L148.5 601.0 L149.0 601.0 L149.5 601.0 L150.0 600.9 L150.5 600.9 L151.0 600.9 L151.5 600.8 L152.0 600.8 L152.5 600.7 L153.0 600.7 L153.5 600.6 L154.0 600.6 L154.5 600.5 L155.0 600.4 L155.5 600.4 L156.0 600.3 L156.5 600.2 L157.0 600.1 L157.5 600.0 L158.0 599.9 L158.5 599.9 L159.0 599.8 L159.5 599.7 L160.0 599.6 L160.5 599.5 L161.0 599.4 L161.5 599.3 L162.0 599.2 L162.5 599.1 L163.0 599.1 L163.5 599.0 L164.0 598.9 L164.5 598.8 L165.0 598.7 L165.5 598.6 L166.0 598.6 L166.5 598.5 L167.0 598.4 L167.5 598.4 L168.0 598.3 L168.5 598.3 L169.0 598.2 L169.5 598.2 L170.0 598.1 L170.5 598.1 L171.0 598.1 L171.5 598.0 L172.0 598.0 L172.5 598.0 L173.0 598.0 L173.5 598.0 L174.0 598.0 L174.5 598.0 L175.0 598.0 L175.5 598.1 L176.0 598.1 L176.5 598.1 L177.0 598.2 L177.5 598.2 L178.0 598.3 L178.5 598.3 L179.0 598.4 L179.5 598.5 L180.0 598.5 L180.5 598.6 L181.0 598.7 L181.5 598.7 L182.0 598.8 L182.5 598.9 L183.0 599.0 L183.5 599.0 L184.0 599.1 L184.5 599.2 L185.0 599.3 L185.5 599.4 L186.0 599.5 L186.5 599.6 L187.0 599.6 L187.5 599.7 L188.0 599.8 L188.5 599.9 L189.0 600.0 L189.5 600.1 L190.0 600.1 L190.5 600.2 L191.0 600.3 L191.5 600.4 L192.0 600.4 L192.5 600.5 L193.0 600.6 L193.5 600.6 L194.0 600.7 L194.5 600.7 L195.0 600.8 L195.5 600.8 L196.0 600.9 L196.5 600.9 L197.0 600.9 L197.5 601.0 L198.0 601.0 L198.5 601.0 L199.0 601.0 L199.4 601.0 L199.5 601.0 L200.0 601.0 L200.5 601.0 L201.0 601.0 L201.5 600.9 L202.0 600.9 L202.5 600.9 L203.0 600.8 L203.5 600.8 L204.0 600.8 L204.5 600.7 L205.0 600.6 L205.5 600.6 L206.0 600.5 L206.5 600.5 L207.0 600.4 L207.5 600.3 L208.0 600.2 L208.5 600.2 L209.0 600.1 L209.5 600.0 L210.0 599.9 L210.5 599.8 L211.0 599.8 L211.5 599.7 L212.0 599.6 L212.5 599.5 L213.0 599.4 L213.5 599.3 L214.0 599.3 L214.5 599.2 L215.0 599.1 L215.5 599.0 L216.0 598.9 L216.5 598.8 L217.0 598.8 L217.5 598.7 L218.0 598.6 L218.5 598.6 L219.0 598.5 L219.5 598.4 L220.0 598.4 L220.5 598.3 L221.0 598.3 L221.5 598.2 L222.0 598.2 L222.5 598.1 L223.0 598.1 L223.5 598.1 L224.0 598.0 L224.5 598.0 L225.0 598.0 L225.5 598.0 L225.7 598.0 L226.0 598.0 L226.5 598.0 L227.0 598.0 L227.5 598.1 L228.0 598.1 L228.5 598.1 L229.0 598.2 L229.5 598.3 L230.0 598.3 L230.5 598.4 L231.0 598.5 L231.5 598.6 L232.0 598.7 L232.5 598.8 L233.0 598.9 L233.5 599.0 L234.0 599.1 L234.5 599.2 L235.0 599.3 L235.5 599.4 L236.0 599.5 L236.5 599.6 L237.0 599.7 L237.5 599.9 L238.0 600.0 L238.5 600.1 L239.0 600.2 L239.5 600.3 L240.0 600.4 L240.5 600.5 L241.0 600.6 L241.5 600.7 L242.0 600.8 L242.5 600.9 L243.0 601.0 L243.5 601.1 L244.0 601.2 L244.5 601.2 L245.0 601.3 L245.5 601.3 L246.0 601.4 L246.5 601.4 L247.0 601.5 L247.5 601.5 L248.0 601.5 L248.4 601.5 L248.5 601.5 L249.0 601.5 L249.5 601.5 L250.0 601.4 L250.5 601.4 L251.0 601.3 L251.5 601.3 L252.0 601.2 L252.5 601.1 L253.0 601.0 L253.5 600.9 L254.0 600.8 L254.5 600.7 L255.0 600.6 L255.5 600.5 L256.0 600.4 L256.5 600.2 L257.0 600.1 L257.5 600.0 L258.0 599.8 L258.5 599.7 L259.0 599.5 L259.5 599.4 L260.0 599.2 L260.5 599.1 L261.0 598.9 L261.5 598.8 L262.0 598.6 L262.5 598.5 L263.0 598.3 L263.5 598.2 L264.0 598.1 L264.5 597.9 L265.0 597.8 L265.5 597.7 L266.0 597.5 L266.5 597.4 L267.0 597.3 L267.5 597.2 L268.0 597.1 L268.5 597.0 L269.0 597.0 L269.5 596.9 L270.0 596.8 L270.5 596.8 L271.0 596.7 L271.5 596.7 L272.0 596.7 L272.4 596.7 L272.5 596.7 L273.0 596.7 L273.5 596.7 L274.0 596.8 L274.5 596.9 L275.0 596.9 L275.5 597.0 L276.0 597.2 L276.5 597.3 L277.0 597.4 L277.5 597.5 L278.0 597.7 L278.5 597.9 L279.0 598.0 L279.5 598.2 L280.0 598.4 L280.5 598.5 L281.0 598.7 L281.5 598.9 L282.0 599.1 L282.5 599.3 L283.0 599.4 L283.5 599.6 L284.0 599.8 L284.5 599.9 L285.0 600.1 L285.5 600.2 L286.0 600.4 L286.5 600.5 L287.0 600.6 L287.5 600.7 L288.0 600.8 L288.5 600.9 L289.0 600.9 L289.5 601.0 L290.0 601.0 L290.3 601.0 L290.5 601.0 L291.0 601.0 L291.5 601.0 L292.0 601.0 L292.5 600.9 L293.0 600.9 L293.5 600.9 L294.0 600.8 L294.5 600.8 L295.0 600.7 L295.5 600.7 L296.0 600.6 L296.5 600.5 L297.0 600.4 L297.5 600.4 L298.0 600.3 L298.5 600.2 L299.0 600.1 L299.5 600.0 L300.0 599.9 L300.5 599.8 L301.0 599.7 L301.5 599.6 L302.0 599.5 L302.5 599.4 L303.0 599.3 L303.5 599.2 L304.0 599.1 L304.5 599.0 L305.0 598.9 L305.5 598.8 L306.0 598.7 L306.5 598.6 L307.0 598.5 L307.5 598.3 L308.0 598.2 L308.5 598.1 L309.0 598.0 L309.5 597.9 L310.0 597.8 L310.5 597.7 L311.0 597.6 L311.5 597.6 L312.0 597.5 L312.5 597.4 L313.0 597.3 L313.5 597.2 L314.0 597.2 L314.5 597.1 L315.0 597.0 L315.5 597.0 L316.0 596.9 L316.5 596.9 L317.0 596.8 L317.5 596.8 L318.0 596.8 L318.5 596.7 L319.0 596.7 L319.5 596.7 L320.0 596.7 L320.5 596.7 L321.0 596.7 L321.5 596.8 L322.0 596.8 L322.5 596.8 L323.0 596.9 L323.5 597.0 L324.0 597.0 L324.5 597.1 L325.0 597.2 L325.5 597.3 L326.0 597.4 L326.5 597.5 L327.0 597.7 L327.5 597.8 L328.0 597.9 L328.5 598.1 L329.0 598.2 L329.5 598.3 L330.0 598.5 L330.5 598.6 L331.0 598.8 L331.5 599.0 L332.0 599.1 L332.5 599.3 L333.0 599.4 L333.5 599.6 L334.0 599.8 L334.5 599.9 L335.0 600.1 L335.5 600.3 L336.0 600.4 L336.5 600.6 L337.0 600.7 L337.5 600.9 L338.0 601.0 L338.5 601.2 L339.0 601.3 L339.5 601.5 L340.0 601.6 L340.5 601.7 L341.0 601.8 L341.5 602.0 L342.0 602.1 L342.5 602.2 L343.0 602.3 L343.5 602.3 L344.0 602.4 L344.5 602.5 L345.0 602.6 L345.5 602.6 L346.0 602.6 L346.5 602.7 L347.0 602.7 L347.5 602.7 L347.6 602.7 L348.0 602.7 L348.5 602.7 L349.0 602.6 L349.5 602.6 L350.0 602.5 L350.5 602.5 L351.0 602.4 L351.5 602.3 L352.0 602.2 L352.5 602.1 L353.0 602.0 L353.5 601.8 L354.0 601.7 L354.5 601.6 L355.0 601.4 L355.5 601.2 L356.0 601.1 L356.5 600.9 L357.0 600.7 L357.5 600.6 L358.0 600.4 L358.5 600.2 L359.0 600.0 L359.5 599.8 L360.0 599.6 L360.5 599.4 L361.0 599.2 L361.5 599.0 L362.0 598.8 L362.5 598.6 L363.0 598.4 L363.5 598.2 L364.0 598.0 L364.5 597.9 L365.0 597.7 L365.5 597.5 L366.0 597.3 L366.5 597.1 L367.0 597.0 L367.5 596.8 L368.0 596.7 L368.5 596.5 L369.0 596.4 L369.5 596.3 L370.0 596.1 L370.5 596.0 L371.0 595.9 L371.5 595.8 L372.0 595.7 L372.5 595.7 L373.0 595.6 L373.5 595.6 L374.0 595.5 L374.5 595.5 L375.0 595.5 L375.5 595.5 L376.0 595.5 L376.5 595.6 L377.0 595.7 L377.5 595.8 L378.0 595.9 L378.5 596.0 L379.0 596.1 L379.5 596.3 L380.0 596.5 L380.5 596.6 L381.0 596.8 L381.5 597.0 L382.0 597.2 L382.5 597.5 L383.0 597.7 L383.5 597.9 L384.0 598.2 L384.5 598.4 L385.0 598.7 L385.5 599.0 L386.0 599.2 L386.5 599.5 L387.0 599.8 L387.5 600.0 L388.0 600.3 L388.5 600.5 L389.0 600.8 L389.5 601.1 L390.0 601.3 L390.5 601.6 L391.0 601.8 L391.5 602.0 L392.0 602.3 L392.5 602.5 L393.0 602.7 L393.5 602.9 L394.0 603.0 L394.5 603.2 L395.0 603.4 L395.5 603.5 L396.0 603.6 L396.5 603.7 L397.0 603.8 L397.5 603.9 L398.0 604.0 L398.5 604.0 L399.0 604.0 L399.5 604.0 L400.0 603.9 L400.5 603.9 L401.0 603.8 L401.5 603.6 L402.0 603.5 L402.5 603.3 L403.0 603.1 L403.5 602.9 L404.0 602.7 L404.5 602.4 L405.0 602.2 L405.5 601.9 L406.0 601.6 L406.5 601.3 L407.0 601.0 L407.5 600.7 L408.0 600.3 L408.5 600.0 L409.0 599.7 L409.5 599.3 L410.0 599.0 L410.5 598.7 L411.0 598.3 L411.5 598.0 L412.0 597.7 L412.5 597.3 L413.0 597.0 L413.5 596.7 L414.0 596.4 L414.5 596.1 L415.0 595.8 L415.5 595.6 L416.0 595.3 L416.5 595.1 L417.0 594.9 L417.5 594.7 L418.0 594.5 L418.5 594.4 L419.0 594.2 L419.5 594.1 L420.0 594.1 L420.5 594.0 L421.0 594.0 L421.5 594.0 L422.0 594.1 L422.5 594.1 L423.0 594.2 L423.5 594.4 L424.0 594.5 L424.5 594.7 L425.0 594.9 L425.5 595.1 L426.0 595.3 L426.5 595.6 L427.0 595.8 L427.5 596.1 L428.0 596.4 L428.5 596.7 L429.0 597.0 L429.5 597.4 L430.0 597.7 L430.5 598.0 L431.0 598.4 L431.5 598.7 L432.0 599.1 L432.5 599.4 L433.0 599.8 L433.5 600.1 L434.0 600.5 L434.5 600.8 L435.0 601.2 L435.5 601.5 L436.0 601.8 L436.5 602.1 L437.0 602.4 L437.5 602.7 L438.0 603.0 L438.5 603.2 L439.0 603.5 L439.5 603.7 L440.0 603.9 L440.5 604.1 L441.0 604.2 L441.5 604.3 L442.0 604.4 L442.5 604.5 L443.0 604.6 L443.5 604.6 L443.6 604.6 L444.0 604.6 L444.5 604.6 L445.0 604.5 L445.5 604.4 L446.0 604.3 L446.5 604.2 L447.0 604.0 L447.5 603.8 L448.0 603.6 L448.5 603.4 L449.0 603.2 L449.5 602.9 L450.0 602.7 L450.5 602.4 L451.0 602.1 L451.5 601.8 L452.0 601.5 L452.5 601.2 L453.0 600.8 L453.5 600.5 L454.0 600.2 L454.5 599.8 L455.0 599.5 L455.5 599.1 L456.0 598.8 L456.5 598.4 L457.0 598.0 L457.5 597.7 L458.0 597.3 L458.5 597.0 L459.0 596.7 L459.5 596.3 L460.0 596.0 L460.5 595.7 L461.0 595.4 L461.5 595.1 L462.0 594.8 L462.5 594.5 L463.0 594.3 L463.5 594.0 L464.0 593.8 L464.5 593.6 L465.0 593.4 L465.5 593.2 L466.0 593.1 L466.5 593.0 L467.0 592.9 L467.5 592.8 L468.0 592.7 L468.5 592.7 L468.7 592.7 L469.0 592.7 L469.5 592.7 L470.0 592.8 L470.5 592.9 L471.0 593.0 L471.5 593.2 L472.0 593.3 L472.5 593.5 L473.0 593.7 L473.5 594.0 L474.0 594.2 L474.5 594.5 L475.0 594.8 L475.5 595.1 L476.0 595.4 L476.5 595.7 L477.0 596.1 L477.5 596.4 L478.0 596.8 L478.5 597.2 L479.0 597.5 L479.5 597.9 L480.0 598.3 L480.5 598.7 L481.0 599.1 L481.5 599.5 L482.0 599.9 L482.5 600.3 L483.0 600.7 L483.5 601.0 L484.0 601.4 L484.5 601.8 L485.0 602.1 L485.5 602.5 L486.0 602.8 L486.5 603.2 L487.0 603.5 L487.5 603.8 L488.0 604.1 L488.5 604.3 L489.0 604.6 L489.5 604.8 L490.0 605.0 L490.5 605.2 L491.0 605.4 L491.5 605.5 L492.0 605.6 L492.5 605.7 L493.0 605.8 L493.5 605.8 L493.7 605.8 L494.0 605.8 L494.5 605.8 L495.0 605.7 L495.5 605.6 L496.0 605.5 L496.5 605.3 L497.0 605.2 L497.5 605.0 L498.0 604.8 L498.5 604.5 L499.0 604.3 L499.5 604.0 L500.0 603.7 L500.5 603.4 L501.0 603.1 L501.5 602.8 L502.0 602.4 L502.5 602.1 L503.0 601.7 L503.5 601.3 L504.0 600.9 L504.5 600.5 L505.0 600.1 L505.5 599.7 L506.0 599.3 L506.5 598.9 L507.0 598.5 L507.5 598.1 L508.0 597.7 L508.5 597.3 L509.0 596.9 L509.5 596.5 L510.0 596.1 L510.5 595.7 L511.0 595.4 L511.5 595.0 L512.0 594.7 L512.5 594.3 L513.0 594.0 L513.5 593.7 L514.0 593.4 L514.5 593.1 L515.0 592.9 L515.5 592.6 L516.0 592.4 L516.5 592.2 L517.0 592.0 L517.5 591.9 L518.0 591.7 L518.5 591.6 L519.0 591.6 L519.5 591.5 L520.0 591.5 L520.5 591.5 L521.0 591.6 L521.5 591.7 L522.0 591.9 L522.5 592.1 L523.0 592.3 L523.5 592.6 L524.0 592.9 L524.5 593.2 L525.0 593.5 L525.5 593.9 L526.0 594.3 L526.5 594.8 L527.0 595.2 L527.5 595.7 L528.0 596.2 L528.5 596.7 L529.0 597.2 L529.5 597.8 L530.0 598.3 L530.5 598.8 L531.0 599.4 L531.5 599.9 L532.0 600.5 L532.5 601.0 L533.0 601.5 L533.5 602.1 L534.0 602.6 L534.5 603.1 L535.0 603.6 L535.5 604.1 L536.0 604.5 L536.5 605.0 L537.0 605.4 L537.5 605.8 L538.0 606.2 L538.5 606.5 L539.0 606.8 L539.5 607.1 L540.0 607.4 L540.5 607.6 L541.0 607.7 L541.5 607.9 L542.0 608.0 L542.5 608.0 L542.7 608.0 L543.0 608.0 L543.5 607.9 L544.0 607.9 L544.5 607.7 L545.0 607.6 L545.5 607.4 L546.0 607.1 L546.5 606.9 L547.0 606.6 L547.5 606.2 L548.0 605.9 L548.5 605.5 L549.0 605.1 L549.5 604.7 L550.0 604.2 L550.5 603.8 L551.0 603.3 L551.5 602.8 L552.0 602.3 L552.5 601.7 L553.0 601.2 L553.5 600.7 L554.0 600.1 L554.5 599.5 L555.0 599.0 L555.5 598.4 L556.0 597.8 L556.5 597.3 L557.0 596.7 L557.5 596.1 L558.0 595.6 L558.5 595.0 L559.0 594.5 L559.5 593.9 L560.0 593.4 L560.5 592.9 L561.0 592.4 L561.5 592.0 L562.0 591.5 L562.5 591.1 L563.0 590.6 L563.5 590.3 L564.0 589.9 L564.5 589.6 L565.0 589.2 L565.5 589.0 L566.0 588.7 L566.5 588.5 L567.0 588.3 L567.5 588.2 L568.0 588.1 L568.5 588.0 L569.0 588.0 L569.5 588.0 L570.0 588.1 L570.5 588.2 L571.0 588.4 L571.5 588.7 L572.0 589.0 L572.5 589.3 L573.0 589.6 L573.5 590.1 L574.0 590.5 L574.5 591.0 L575.0 591.5 L575.5 592.0 L576.0 592.6 L576.5 593.2 L577.0 593.8 L577.5 594.4 L578.0 595.1 L578.5 595.8 L579.0 596.4 L579.5 597.1 L580.0 597.9 L580.5 598.6 L581.0 599.3 L581.5 600.0 L582.0 600.7 L582.5 601.4 L583.0 602.1 L583.5 602.9 L584.0 603.6 L584.5 604.2 L585.0 604.9 L585.5 605.6 L586.0 606.2 L586.5 606.8 L587.0 607.4 L587.5 608.0 L588.0 608.5 L588.5 609.0 L589.0 609.5 L589.5 609.9 L590.0 610.4 L590.5 610.7 L591.0 611.0 L591.5 611.3 L592.0 611.6 L592.5 611.8 L593.0 611.9 L593.5 612.0 L594.0 612.0 L594.5 612.0 L595.0 611.9 L595.5 611.7 L596.0 611.5 L596.5 611.2 L597.0 610.8 L597.5 610.4 L598.0 610.0 L598.5 609.5 L599.0 608.9 L599.5 608.3 L600.0 607.7 L600.5 607.0 L601.0 606.3 L601.5 605.6 L602.0 604.9 L602.5 604.1 L603.0 603.3 L603.5 602.5 L604.0 601.7 L604.5 600.8 L605.0 600.0 L605.5 599.1 L606.0 598.2 L606.5 597.4 L607.0 596.5 L607.5 595.7 L608.0 594.8 L608.5 594.0 L609.0 593.2 L609.5 592.4 L610.0 591.6 L610.5 590.9 L611.0 590.2 L611.5 589.5 L612.0 588.8 L612.5 588.2 L613.0 587.6 L613.5 587.0 L614.0 586.5 L614.5 586.1 L615.0 585.7 L615.5 585.3 L616.0 585.0 L616.5 584.8 L617.0 584.6 L617.5 584.5 L618.0 584.5 L618.5 584.5 L619.0 584.6 L619.5 584.8 L620.0 585.1 L620.5 585.4 L621.0 585.8 L621.5 586.2 L622.0 586.7 L622.5 587.2 L623.0 587.8 L623.5 588.4 L624.0 589.1 L624.5 589.8 L625.0 590.5 L625.5 591.3 L626.0 592.1 L626.5 592.9 L627.0 593.8 L627.5 594.7 L628.0 595.6 L628.5 596.5 L629.0 597.4 L629.5 598.4 L630.0 599.3 L630.5 600.2 L631.0 601.2 L631.5 602.1 L632.0 603.1 L632.5 604.0 L633.0 604.9 L633.5 605.8 L634.0 606.7 L634.5 607.6 L635.0 608.4 L635.5 609.2 L636.0 610.0 L636.5 610.7 L637.0 611.4 L637.5 612.1 L638.0 612.7 L638.5 613.3 L639.0 613.8 L639.5 614.3 L640.0 614.7 L640.5 615.1 L641.0 615.4 L641.5 615.7 L642.0 615.9 L642.5 616.0 L643.0 616.0 L643.5 616.0 L644.0 615.8 L644.5 615.6 L645.0 615.3 L645.5 615.0 L646.0 614.6 L646.5 614.1 L647.0 613.5 L647.5 612.9 L648.0 612.3 L648.5 611.5 L649.0 610.8 L649.5 610.0 L650.0 609.1 L650.5 608.2 L651.0 607.3 L651.5 606.3 L652.0 605.4 L652.5 604.4 L653.0 603.3 L653.5 602.3 L654.0 601.2 L654.5 600.2 L655.0 599.1 L655.5 598.0 L656.0 596.9 L656.5 595.8 L657.0 594.8 L657.5 593.7 L658.0 592.7 L658.5 591.6 L659.0 590.6 L659.5 589.7 L660.0 588.7 L660.5 587.8 L661.0 586.9 L661.5 586.0 L662.0 585.2 L662.5 584.5 L663.0 583.7 L663.5 583.1 L664.0 582.5 L664.5 581.9 L665.0 581.4 L665.5 581.0 L666.0 580.7 L666.5 580.4 L667.0 580.2 L667.5 580.0 L668.0 580.0 L668.5 580.0 L669.0 580.2 L669.5 580.4 L670.0 580.8 L670.5 581.2 L671.0 581.7 L671.5 582.2 L672.0 582.9 L672.5 583.6 L673.0 584.3 L673.5 585.2 L674.0 586.1 L674.5 587.0 L675.0 588.0 L675.5 589.0 L676.0 590.1 L676.5 591.2 L677.0 592.4 L677.5 593.5 L678.0 594.7 L678.5 595.9 L679.0 597.2 L679.5 598.4 L680.0 599.6 L680.5 600.9 L681.0 602.2 L681.5 603.4 L682.0 604.6 L682.5 605.9 L683.0 607.1 L683.5 608.3 L684.0 609.4 L684.5 610.6 L685.0 611.7 L685.5 612.8 L686.0 613.8 L686.5 614.8 L687.0 615.7 L687.5 616.6 L688.0 617.5 L688.5 618.2 L689.0 618.9 L689.5 619.6 L690.0 620.1 L690.5 620.6 L691.0 621.0 L691.5 621.4 L692.0 621.6 L692.5 621.8 L693.0 621.8 L693.5 621.7 L694.0 621.6 L694.5 621.3 L695.0 620.9 L695.5 620.3 L696.0 619.7 L696.5 619.0 L697.0 618.2 L697.5 617.4 L698.0 616.4 L698.5 615.4 L699.0 614.3 L699.5 613.1 L700.0 611.9 L700.5 610.6 L701.0 609.3 L701.5 608.0 L702.0 606.6 L702.5 605.2 L703.0 603.7 L703.5 602.2 L704.0 600.7 L704.5 599.3 L705.0 597.8 L705.5 596.2 L706.0 594.8 L706.5 593.3 L707.0 591.8 L707.5 590.3 L708.0 588.9 L708.5 587.5 L709.0 586.2 L709.5 584.9 L710.0 583.6 L710.5 582.4 L711.0 581.2 L711.5 580.1 L712.0 579.1 L712.5 578.1 L713.0 577.3 L713.5 576.5 L714.0 575.8 L714.5 575.2 L715.0 574.6 L715.5 574.2 L716.0 573.9 L716.5 573.8 L717.0 573.7 L717.5 573.8 L718.0 573.9 L718.5 574.2 L719.0 574.5 L719.5 575.0 L720.0 575.5 L720.5 576.1 L721.0 576.8 L721.5 577.6 L722.0 578.5 L722.5 579.4 L723.0 580.4 L723.5 581.4 L724.0 582.5 L724.5 583.7 L725.0 584.9 L725.5 586.1 L726.0 587.4 L726.5 588.7 L727.0 590.1 L727.5 591.4 L728.0 592.9 L728.5 594.3 L729.0 595.7 L729.5 597.2 L730.0 598.6 L730.5 600.1 L731.0 601.6 L731.5 603.0 L732.0 604.5 L732.5 605.9 L733.0 607.3 L733.5 608.8 L734.0 610.1 L734.5 611.5 L735.0 612.8 L735.5 614.1 L736.0 615.3 L736.5 616.5 L737.0 617.7 L737.5 618.8 L738.0 619.8 L738.5 620.8 L739.0 621.7 L739.5 622.6 L740.0 623.4 L740.5 624.1 L741.0 624.7 L741.5 625.2 L742.0 625.7 L742.5 626.0 L743.0 626.3 L743.5 626.4 L744.0 626.5 L744.5 626.4 L745.0 626.1 L745.5 625.7 L746.0 625.1 L746.5 624.4 L747.0 623.5 L747.5 622.5 L748.0 621.3 L748.5 620.1 L749.0 618.7 L749.5 617.2 L750.0 615.6 L750.5 614.0 L751.0 612.2 L751.5 610.4 L752.0 608.6 L752.5 606.7 L753.0 604.7 L753.5 602.7 L754.0 600.7 L754.5 598.6 L755.0 596.6 L755.5 594.5 L756.0 592.5 L756.5 590.4 L757.0 588.4 L757.5 586.4 L758.0 584.5 L758.5 582.6 L759.0 580.7 L759.5 578.9 L760.0 577.2 L760.5 575.6 L761.0 574.0 L761.5 572.5 L762.0 571.2 L762.5 569.9 L763.0 568.8 L763.5 567.8 L764.0 567.0 L764.5 566.3 L765.0 565.7 L765.5 565.3 L766.0 565.1 L766.4 565.0 L766.5 565.0 L767.0 565.1 L767.5 565.4 L768.0 565.7 L768.5 566.3 L769.0 566.9 L769.5 567.7 L770.0 568.6 L770.5 569.6 L771.0 570.7 L771.5 571.8 L772.0 573.1 L772.5 574.5 L773.0 575.9 L773.5 577.4 L774.0 579.0 L774.5 580.6 L775.0 582.3 L775.5 584.0 L776.0 585.8 L776.5 587.6 L777.0 589.4 L777.5 591.2 L778.0 593.0 L778.5 594.9 L779.0 596.8 L779.5 598.6 L780.0 600.4 L780.5 602.2 L781.0 604.0 L781.5 605.8 L782.0 607.5 L782.5 609.2 L783.0 610.8 L783.5 612.4 L784.0 613.9 L784.5 615.3 L785.0 616.7 L785.5 618.0 L786.0 619.1 L786.5 620.2 L787.0 621.2 L787.5 622.1 L788.0 622.9 L788.5 623.5 L789.0 624.1 L789.5 624.4 L790.0 624.7 L790.5 624.8 L790.6 624.8 L791.0 624.6 L791.5 623.7 L792.0 622.3 L792.5 620.3 L793.0 617.8 L793.5 615.0 L794.0 611.9 L794.5 608.5 L795.0 604.9 L795.5 601.2 L796.0 597.4 L796.5 593.7 L797.0 590.0 L797.5 586.0 L798.0 581.4 L798.5 576.4 L799.0 571.0 L799.5 565.5 L800.0 560.1 L800.5 554.9 L801.0 550.0 L801.5 545.6 L802.0 541.4 L802.5 537.4 L803.0 533.4 L803.5 529.2 L804.0 524.8 L804.5 520.0 L805.0 514.7 L805.5 508.9 L806.0 502.7 L806.5 496.3 L807.0 489.7 L807.5 483.0 L808.0 476.5 L808.5 470.1 L809.0 464.0 L809.5 458.7 L810.0 454.3 L810.5 449.9 L811.0 444.9 L811.5 438.5 L812.0 430.0 L812.5 409.7 L813.0 377.6 L813.5 347.4 L813.8 336.0 L814.0 331.2 L814.5 320.8 L815.0 312.5 L815.5 305.8 L816.0 300.0 L816.5 295.0 L817.0 290.9 L817.5 287.1 L817.7 285.6 L818.0 283.3 L818.5 279.3 L819.0 275.7 L819.5 272.7 L819.8 271.4 L820.0 270.7 L820.5 269.0 L821.0 267.5 L821.5 266.0 L822.0 264.7 L822.5 263.6 L823.0 262.7 L823.5 262.0 L824.0 261.6 L824.5 261.4 L825.0 261.5 L825.5 261.8 L826.0 262.2 L826.5 262.8 L827.0 263.6 L827.5 264.5 L828.0 265.5 L828.5 266.7 L829.0 268.0 L829.5 269.3 L830.0 270.8 L830.2 271.4 L830.5 272.5 L831.0 274.9 L831.5 278.2 L832.0 282.5 L832.3 285.6 L832.5 288.8 L833.0 301.5 L833.4 310.0 L833.5 311.3 L834.0 316.9 L834.5 321.3 L835.0 325.0 L835.5 328.5 L836.0 332.3 L836.5 337.0 L837.0 342.6 L837.5 348.7 L838.0 355.2 L838.5 362.1 L839.0 369.3 L839.5 376.8 L840.0 384.5 L840.5 392.2 L841.0 400.0 L841.5 408.1 L842.0 416.8 L842.5 425.9 L843.0 435.2 L843.5 444.6 L844.0 454.1 L844.5 463.3 L845.0 472.2 L845.5 480.7 L846.0 488.5 L846.1 490.0 L846.5 495.7 L847.0 502.5 L847.5 508.9 L848.0 515.0 L848.2 517.3 L848.5 520.7 L849.0 526.3 L849.5 531.7 L850.0 536.8 L850.5 541.3 L850.9 544.6 L851.0 545.4 L851.5 549.0 L852.0 552.3 L852.5 555.4 L853.0 558.3 L853.5 561.0 L854.0 563.5 L854.3 565.0 L854.5 566.0 L855.0 568.3 L855.5 570.6 L856.0 572.7 L856.5 574.7 L857.0 576.6 L857.5 578.1 L857.7 578.7 L858.0 579.5 L858.5 580.8 L859.0 582.0 L859.5 583.1 L860.0 584.1 L860.5 585.1 L861.0 586.0 L861.5 586.8 L862.0 587.5 L862.5 588.2 L863.0 588.8 L863.5 589.4 L864.0 589.9 L864.5 590.5 L865.0 591.0 L865.5 591.4 L866.0 591.9 L866.5 592.3 L867.0 592.6 L867.5 593.0 L868.0 593.3 L868.5 593.6 L868.6 593.7 L869.0 593.9 L869.5 594.2 L870.0 594.5 L870.5 594.8 L871.0 595.0 L871.5 595.3 L872.0 595.5 L872.5 595.7 L873.0 595.9 L873.5 596.1 L874.0 596.3 L874.5 596.5 L875.0 596.7 L875.5 596.8 L876.0 596.9 L876.5 597.0 L876.8 597.1 L877.0 597.1 L877.5 597.2 L878.0 597.3 L878.5 597.4 L879.0 597.5 L879.5 597.5 L880.0 597.6 L880.5 597.7 L881.0 597.7 L881.5 597.8 L882.0 597.9 L882.5 597.9 L883.0 598.0 L883.5 598.0 L884.0 598.1 L884.5 598.1 L885.0 598.2 L885.5 598.2 L886.0 598.2 L886.5 598.3 L887.0 598.3 L887.5 598.4 L888.0 598.4 L888.5 598.4 L889.0 598.4 L889.5 598.5 L890.0 598.5 L890.5 598.5 L891.0 598.5 L891.5 598.6 L892.0 598.6 L892.5 598.6 L893.0 598.6 L893.5 598.7 L894.0 598.7 L894.5 598.7 L895.0 598.7 L895.5 598.7 L896.0 598.8 L896.5 598.8 L897.0 598.8 L897.5 598.8 L898.0 598.8 L898.5 598.9 L899.0 598.9 L899.5 598.9 L900.0 598.9 L900.5 598.9 L901.0 598.9 L901.5 598.9 L902.0 599.0 L902.5 599.0 L903.0 599.0 L903.5 599.0 L904.0 599.0 L904.5 599.0 L905.0 599.0 L905.5 599.0 L906.0 599.0 L906.4 599.0"/>
<path stroke="#bf00bf" d="M54.0 600.0 L54.5 600.1 L55.0 600.2 L55.5 600.3 L56.0 600.3 L56.5 600.4 L57.0 600.5 L57.5 600.6 L58.0 600.7 L58.5 600.7 L59.0 600.8 L59.5 600.9 L60.0 600.9 L60.5 601.0 L61.0 601.0 L61.5 601.1 L62.0 601.1 L62.5 601.2 L63.0 601.2 L63.5 601.2 L64.0 601.3 L64.5 601.3 L65.0 601.3 L65.5 601.3 L66.0 601.3 L66.5 601.3 L67.0 601.3 L67.5 601.3 L68.0 601.2 L68.5 601.2 L69.0 601.2 L69.5 601.1 L70.0 601.1 L70.5 601.0 L71.0 601.0 L71.5 600.9 L72.0 600.9 L72.5 600.8 L73.0 600.8 L73.5 600.7 L74.0 600.6 L74.5 600.6 L75.0 600.5 L75.5 600.4 L76.0 600.3 L76.5 600.3 L77.0 600.2 L77.5 600.1 L78.0 600.0 L78.5 599.9 L79.0 599.9 L79.5 599.8 L80.0 599.7 L80.5 599.6 L81.0 599.5 L81.5 599.4 L82.0 599.4 L82.5 599.3 L83.0 599.2 L83.5 599.1 L84.0 599.0 L84.5 599.0 L85.0 598.9 L85.5 598.8 L86.0 598.7 L86.5 598.7 L87.0 598.6 L87.5 598.5 L88.0 598.5 L88.5 598.4 L89.0 598.4 L89.5 598.3 L90.0 598.3 L90.5 598.2 L91.0 598.2 L91.5 598.1 L92.0 598.1 L92.5 598.1 L93.0 598.0 L93.5 598.0 L94.0 598.0 L94.5 598.0 L95.0 598.0 L95.5 598.0 L96.0 598.0 L96.5 598.0 L97.0 598.0 L97.5 598.1 L98.0 598.1 L98.5 598.1 L99.0 598.2 L99.5 598.2 L100.0 598.3 L100.5 598.3 L101.0 598.4 L101.5 598.4 L102.0 598.5 L102.5 598.6 L103.0 598.7 L103.5 598.7 L104.0 598.8 L104.5 598.9 L105.0 599.0 L105.5 599.0 L106.0 599.1 L106.5 599.2 L107.0 599.3 L107.5 599.4 L108.0 599.4 L108.5 599.5 L109.0 599.6 L109.5 599.7 L110.0 599.8 L110.5 599.9 L111.0 600.0 L111.5 600.0 L112.0 600.1 L112.5 600.2 L113.0 600.3 L113.5 600.3 L114.0 600.4 L114.5 600.5 L115.0 600.5 L115.5 600.6 L116.0 600.7 L116.5 600.7 L117.0 600.8 L117.5 600.8 L118.0 600.9 L118.5 600.9 L119.0 600.9 L119.5 600.9 L120.0 601.0 L120.5 601.0 L121.0 601.0 L121.5 601.0 L121.6 601.0 L122.0 601.0 L122.5 601.0 L123.0 601.0 L123.5 601.0 L124.0 600.9 L124.5 600.9 L125.0 600.9 L125.5 600.8 L126.0 600.8 L126.5 600.7 L127.0 600.7 L127.5 600.6 L128.0 600.6 L128.5 600.5 L129.0 600.4 L129.5 600.4 L130.0 600.3 L130.5 600.2 L131.0 600.1 L131.5 600.1 L132.0 600.0 L132.5 599.9 L133.0 599.8 L133.5 599.7 L134.0 599.6 L134.5 599.5 L135.0 599.4 L135.5 599.3 L136.0 599.3 L136.5 599.2 L137.0 599.1 L137.5 599.0 L138.0 598.9 L138.5 598.8 L139.0 598.7 L139.5 598.6 L140.0 598.5 L140.5 598.4 L141.0 598.3 L141.5 598.3 L142.0 598.2 L142.5 598.1 L143.0 598.0 L143.5 598.0 L144.0 597.9 L144.5 597.8 L145.0 597.7 L145.5 597.7 L146.0 597.6 L146.5 597.6 L147.0 597.5 L147.5 597.5 L148.0 597.4 L148.5 597.4 L149.0 597.4 L149.5 597.3 L150.0 597.3 L150.5 597.3 L151.0 597.3 L151.5 597.3 L152.0 597.3 L152.5 597.3 L153.0 597.3 L153.5 597.4 L154.0 597.4 L154.5 597.5 L155.0 597.5 L155.5 597.6 L156.0 597.7 L156.5 597.7 L157.0 597.8 L157.5 597.9 L158.0 598.0 L158.5 598.1 L159.0 598.2 L159.5 598.3 L160.0 598.4 L160.5 598.5 L161.0 598.6 L161.5 598.8 L162.0 598.9 L162.5 599.0 L163.0 599.1 L163.5 599.3 L164.0 599.4 L164.5 599.5 L165.0 599.6 L165.5 599.7 L166.0 599.9 L166.5 600.0 L167.0 600.1 L167.5 600.2 L168.0 600.3 L168.5 600.5 L169.0 600.6 L169.5 600.7 L170.0 600.8 L170.5 600.9 L171.0 601.0 L171.5 601.0 L172.0 601.1 L172.5 601.2 L173.0 601.3 L173.5 601.3 L174.0 601.4 L174.5 601.4 L175.0 601.4 L175.5 601.5 L176.0 601.5 L176.5 601.5 L176.7 601.5 L177.0 601.5 L177.5 601.5 L178.0 601.5 L178.5 601.5 L179.0 601.4 L179.5 601.4 L180.0 601.4 L180.5 601.3 L181.0 601.3 L181.5 601.2 L182.0 601.2 L182.5 601.1 L183.0 601.0 L183.5 601.0 L184.0 600.9 L184.5 600.8 L185.0 600.8 L185.5 600.7 L186.0 600.6 L186.5 600.5 L187.0 600.4 L187.5 600.3 L188.0 600.2 L188.5 600.1 L189.0 600.0 L189.5 599.9 L190.0 599.8 L190.5 599.7 L191.0 599.6 L191.5 599.5 L192.0 599.4 L192.5 599.3 L193.0 599.2 L193.5 599.1 L194.0 599.0 L194.5 598.9 L195.0 598.7 L195.5 598.6 L196.0 598.5 L196.5 598.4 L197.0 598.3 L197.5 598.2 L198.0 598.1 L198.5 598.0 L199.0 597.9 L199.5 597.8 L200.0 597.7 L200.5 597.6 L201.0 597.6 L201.5 597.5 L202.0 597.4 L202.5 597.3 L203.0 597.2 L203.5 597.2 L204.0 597.1 L204.5 597.0 L205.0 597.0 L205.5 596.9 L206.0 596.9 L206.5 596.8 L207.0 596.8 L207.5 596.8 L208.0 596.7 L208.5 596.7 L209.0 596.7 L209.5 596.7 L210.0 596.7 L210.5 596.7 L211.0 596.7 L211.5 596.8 L212.0 596.8 L212.5 596.9 L213.0 597.0 L213.5 597.0 L214.0 597.1 L214.5 597.2 L215.0 597.4 L215.5 597.5 L216.0 597.6 L216.5 597.7 L217.0 597.9 L217.5 598.0 L218.0 598.2 L218.5 598.3 L219.0 598.5 L219.5 598.7 L220.0 598.8 L220.5 599.0 L221.0 599.2 L221.5 599.3 L222.0 599.5 L222.5 599.7 L223.0 599.8 L223.5 600.0 L224.0 600.1 L224.5 600.3 L225.0 600.4 L225.5 600.6 L226.0 600.7 L226.5 600.8 L227.0 600.9 L227.5 601.0 L228.0 601.1 L228.5 601.2 L229.0 601.3 L229.5 601.4 L230.0 601.4 L230.5 601.5 L231.0 601.5 L231.5 601.5 L231.6 601.5 L232.0 601.5 L232.5 601.5 L233.0 601.5 L233.5 601.5 L234.0 601.4 L234.5 601.4 L235.0 601.4 L235.5 601.3 L236.0 601.3 L236.5 601.2 L237.0 601.2 L237.5 601.1 L238.0 601.0 L238.5 601.0 L239.0 600.9 L239.5 600.8 L240.0 600.7 L240.5 600.7 L241.0 600.6 L241.5 600.5 L242.0 600.4 L242.5 600.3 L243.0 600.2 L243.5 600.1 L244.0 600.0 L244.5 599.9 L245.0 599.8 L245.5 599.7 L246.0 599.6 L246.5 599.5 L247.0 599.4 L247.5 599.3 L248.0 599.2 L248.5 599.1 L249.0 599.0 L249.5 598.9 L250.0 598.8 L250.5 598.7 L251.0 598.6 L251.5 598.5 L252.0 598.4 L252.5 598.4 L253.0 598.3 L253.5 598.2 L254.0 598.1 L254.5 598.0 L255.0 597.9 L255.5 597.9 L256.0 597.8 L256.5 597.7 L257.0 597.7 L257.5 597.6 L258.0 597.6 L258.5 597.5 L259.0 597.5 L259.5 597.4 L260.0 597.4 L260.5 597.4 L261.0 597.3 L261.5 597.3 L262.0 597.3 L262.5 597.3 L262.7 597.3 L263.0 597.3 L263.5 597.3 L264.0 597.4 L264.5 597.5 L265.0 597.5 L265.5 597.7 L266.0 597.8 L266.5 597.9 L267.0 598.1 L267.5 598.2 L268.0 598.4 L268.5 598.6 L269.0 598.8 L269.5 599.0 L270.0 599.2 L270.5 599.5 L271.0 599.7 L271.5 599.9 L272.0 600.1 L272.5 600.4 L273.0 600.6 L273.5 600.8 L274.0 601.0 L274.5 601.2 L275.0 601.4 L275.5 601.6 L276.0 601.8 L276.5 602.0 L277.0 602.1 L277.5 602.2 L278.0 602.4 L278.5 602.5 L279.0 602.6 L279.5 602.6 L280.0 602.7 L280.5 602.7 L280.7 602.7 L281.0 602.7 L281.5 602.7 L282.0 602.7 L282.5 602.6 L283.0 602.6 L283.5 602.5 L284.0 602.5 L284.5 602.4 L285.0 602.4 L285.5 602.3 L286.0 602.2 L286.5 602.1 L287.0 602.0 L287.5 601.9 L288.0 601.8 L288.5 601.6 L289.0 601.5 L289.5 601.4 L290.0 601.3 L290.5 601.1 L291.0 601.0 L291.5 600.8 L292.0 600.7 L292.5 600.5 L293.0 600.4 L293.5 600.2 L294.0 600.0 L294.5 599.9 L295.0 599.7 L295.5 599.6 L296.0 599.4 L296.5 599.2 L297.0 599.0 L297.5 598.9 L298.0 598.7 L298.5 598.6 L299.0 598.4 L299.5 598.2 L300.0 598.1 L300.5 597.9 L301.0 597.7 L301.5 597.6 L302.0 597.4 L302.5 597.3 L303.0 597.1 L303.5 597.0 L304.0 596.9 L304.5 596.7 L305.0 596.6 L305.5 596.5 L306.0 596.4 L306.5 596.3 L307.0 596.2 L307.5 596.1 L308.0 596.0 L308.5 595.9 L309.0 595.8 L309.5 595.7 L310.0 595.7 L310.5 595.6 L311.0 595.6 L311.5 595.5 L312.0 595.5 L312.5 595.5 L313.0 595.5 L313.5 595.5 L314.0 595.5 L314.5 595.6 L315.0 595.6 L315.5 595.7 L316.0 595.8 L316.5 595.8 L317.0 595.9 L317.5 596.1 L318.0 596.2 L318.5 596.3 L319.0 596.5 L319.5 596.6 L320.0 596.8 L320.5 596.9 L321.0 597.1 L321.5 597.3 L322.0 597.5 L322.5 597.7 L323.0 597.9 L323.5 598.1 L324.0 598.3 L324.5 598.5 L325.0 598.7 L325.5 598.9 L326.0 599.1 L326.5 599.3 L327.0 599.6 L327.5 599.8 L328.0 600.0 L328.5 600.2 L329.0 600.4 L329.5 600.7 L330.0 600.9 L330.5 601.1 L331.0 601.3 L331.5 601.5 L332.0 601.7 L332.5 601.9 L333.0 602.1 L333.5 602.3 L334.0 602.4 L334.5 602.6 L335.0 602.8 L335.5 602.9 L336.0 603.1 L336.5 603.2 L337.0 603.3 L337.5 603.4 L338.0 603.5 L338.5 603.6 L339.0 603.7 L339.5 603.8 L340.0 603.8 L340.5 603.9 L341.0 603.9 L341.5 603.9 L341.6 603.9 L342.0 603.9 L342.5 603.9 L343.0 603.8 L343.5 603.8 L344.0 603.7 L344.5 603.6 L345.0 603.5 L345.5 603.4 L346.0 603.3 L346.5 603.1 L347.0 603.0 L347.5 602.8 L348.0 602.6 L348.5 602.5 L349.0 602.3 L349.5 602.1 L350.0 601.9 L350.5 601.6 L351.0 601.4 L351.5 601.2 L352.0 600.9 L352.5 600.7 L353.0 600.5 L353.5 600.2 L354.0 600.0 L354.5 599.7 L355.0 599.4 L355.5 599.2 L356.0 598.9 L356.5 598.7 L357.0 598.4 L357.5 598.2 L358.0 597.9 L358.5 597.6 L359.0 597.4 L359.5 597.2 L360.0 596.9 L360.5 596.7 L361.0 596.4 L361.5 596.2 L362.0 596.0 L362.5 595.8 L363.0 595.6 L363.5 595.4 L364.0 595.2 L364.5 595.0 L365.0 594.9 L365.5 594.7 L366.0 594.6 L366.5 594.5 L367.0 594.4 L367.5 594.3 L368.0 594.2 L368.5 594.1 L369.0 594.1 L369.5 594.0 L370.0 594.0 L370.3 594.0 L370.5 594.0 L371.0 594.0 L371.5 594.1 L372.0 594.1 L372.5 594.2 L373.0 594.4 L373.5 594.5 L374.0 594.7 L374.5 594.8 L375.0 595.0 L375.5 595.2 L376.0 595.5 L376.5 595.7 L377.0 595.9 L377.5 596.2 L378.0 596.5 L378.5 596.8 L379.0 597.1 L379.5 597.4 L380.0 597.7 L380.5 598.0 L381.0 598.3 L381.5 598.6 L382.0 599.0 L382.5 599.3 L383.0 599.6 L383.5 600.0 L384.0 600.3 L384.5 600.6 L385.0 600.9 L385.5 601.3 L386.0 601.6 L386.5 601.9 L387.0 602.2 L387.5 602.5 L388.0 602.7 L388.5 603.0 L389.0 603.3 L389.5 603.5 L390.0 603.7 L390.5 603.9 L391.0 604.1 L391.5 604.3 L392.0 604.5 L392.5 604.6 L393.0 604.7 L393.5 604.8 L394.0 604.9 L394.5 605.0 L395.0 605.0 L395.3 605.0 L395.5 605.0 L396.0 605.0 L396.5 605.0 L397.0 604.9 L397.5 604.8 L398.0 604.8 L398.5 604.7 L399.0 604.6 L399.5 604.4 L400.0 604.3 L400.5 604.2 L401.0 604.0 L401.5 603.8 L402.0 603.7 L402.5 603.5 L403.0 603.3 L403.5 603.1 L404.0 602.8 L404.5 602.6 L405.0 602.4 L405.5 602.1 L406.0 601.9 L406.5 601.7 L407.0 601.4 L407.5 601.1 L408.0 600.9 L408.5 600.6 L409.0 600.3 L409.5 600.1 L410.0 599.8 L410.5 599.5 L411.0 599.2 L411.5 599.0 L412.0 598.7 L412.5 598.4 L413.0 598.1 L413.5 597.9 L414.0 597.6 L414.5 597.3 L415.0 597.1 L415.5 596.8 L416.0 596.5 L416.5 596.3 L417.0 596.1 L417.5 595.8 L418.0 595.6 L418.5 595.4 L419.0 595.2 L419.5 595.0 L420.0 594.8 L420.5 594.6 L421.0 594.4 L421.5 594.2 L422.0 594.1 L422.5 593.9 L423.0 593.8 L423.5 593.7 L424.0 593.6 L424.5 593.5 L425.0 593.4 L425.5 593.4 L426.0 593.3 L426.5 593.3 L427.0 593.3 L427.5 593.3 L428.0 593.4 L428.5 593.4 L429.0 593.5 L429.5 593.6 L430.0 593.8 L430.5 593.9 L431.0 594.1 L431.5 594.3 L432.0 594.6 L432.5 594.8 L433.0 595.1 L433.5 595.3 L434.0 595.6 L434.5 595.9 L435.0 596.3 L435.5 596.6 L436.0 596.9 L436.5 597.3 L437.0 597.6 L437.5 598.0 L438.0 598.4 L438.5 598.7 L439.0 599.1 L439.5 599.5 L440.0 599.9 L440.5 600.2 L441.0 600.6 L441.5 601.0 L442.0 601.3 L442.5 601.7 L443.0 602.1 L443.5 602.4 L444.0 602.8 L444.5 603.1 L445.0 603.4 L445.5 603.8 L446.0 604.1 L446.5 604.4 L447.0 604.6 L447.5 604.9 L448.0 605.1 L448.5 605.4 L449.0 605.6 L449.5 605.8 L450.0 605.9 L450.5 606.1 L451.0 606.2 L451.5 606.3 L452.0 606.3 L452.5 606.4 L453.0 606.4 L453.5 606.4 L454.0 606.3 L454.5 606.3 L455.0 606.2 L455.5 606.1 L456.0 605.9 L456.5 605.8 L457.0 605.6 L457.5 605.4 L458.0 605.2 L458.5 605.0 L459.0 604.7 L459.5 604.5 L460.0 604.2 L460.5 603.9 L461.0 603.6 L461.5 603.3 L462.0 602.9 L462.5 602.6 L463.0 602.3 L463.5 601.9 L464.0 601.5 L464.5 601.2 L465.0 600.8 L465.5 600.4 L466.0 600.0 L466.5 599.6 L467.0 599.3 L467.5 598.9 L468.0 598.5 L468.5 598.1 L469.0 597.7 L469.5 597.3 L470.0 597.0 L470.5 596.6 L471.0 596.2 L471.5 595.9 L472.0 595.5 L472.5 595.2 L473.0 594.8 L473.5 594.5 L474.0 594.2 L474.5 593.9 L475.0 593.6 L475.5 593.3 L476.0 593.1 L476.5 592.8 L477.0 592.6 L477.5 592.4 L478.0 592.2 L478.5 592.0 L479.0 591.9 L479.5 591.8 L480.0 591.7 L480.5 591.6 L481.0 591.5 L481.5 591.5 L481.8 591.5 L482.0 591.5 L482.5 591.5 L483.0 591.6 L483.5 591.7 L484.0 591.8 L484.5 592.0 L485.0 592.1 L485.5 592.3 L486.0 592.6 L486.5 592.8 L487.0 593.1 L487.5 593.4 L488.0 593.7 L488.5 594.0 L489.0 594.4 L489.5 594.7 L490.0 595.1 L490.5 595.5 L491.0 595.9 L491.5 596.3 L492.0 596.7 L492.5 597.2 L493.0 597.6 L493.5 598.0 L494.0 598.5 L494.5 598.9 L495.0 599.4 L495.5 599.8 L496.0 600.3 L496.5 600.7 L497.0 601.2 L497.5 601.6 L498.0 602.1 L498.5 602.5 L499.0 602.9 L499.5 603.4 L500.0 603.8 L500.5 604.2 L501.0 604.6 L501.5 604.9 L502.0 605.3 L502.5 605.6 L503.0 605.9 L503.5 606.2 L504.0 606.5 L504.5 606.8 L505.0 607.0 L505.5 607.3 L506.0 607.4 L506.5 607.6 L507.0 607.7 L507.5 607.9 L508.0 607.9 L508.5 608.0 L509.0 608.0 L509.5 608.0 L510.0 607.9 L510.5 607.8 L511.0 607.7 L511.5 607.5 L512.0 607.3 L512.5 607.1 L513.0 606.9 L513.5 606.6 L514.0 606.3 L514.5 605.9 L515.0 605.6 L515.5 605.2 L516.0 604.8 L516.5 604.4 L517.0 604.0 L517.5 603.5 L518.0 603.0 L518.5 602.6 L519.0 602.1 L519.5 601.6 L520.0 601.0 L520.5 600.5 L521.0 600.0 L521.5 599.5 L522.0 598.9 L522.5 598.4 L523.0 597.8 L523.5 597.3 L524.0 596.8 L524.5 596.2 L525.0 595.7 L525.5 595.2 L526.0 594.6 L526.5 594.1 L527.0 593.6 L527.5 593.2 L528.0 592.7 L528.5 592.2 L529.0 591.8 L529.5 591.4 L530.0 590.9 L530.5 590.6 L531.0 590.2 L531.5 589.8 L532.0 589.5 L532.5 589.2 L533.0 589.0 L533.5 588.7 L534.0 588.5 L534.5 588.4 L535.0 588.2 L535.5 588.1 L536.0 588.0 L536.5 588.0 L536.7 588.0 L537.0 588.0 L537.5 588.0 L538.0 588.1 L538.5 588.2 L539.0 588.4 L539.5 588.6 L540.0 588.8 L540.5 589.0 L541.0 589.3 L541.5 589.6 L542.0 589.9 L542.5 590.3 L543.0 590.7 L543.5 591.0 L544.0 591.5 L544.5 591.9 L545.0 592.4 L545.5 592.8 L546.0 593.3 L546.5 593.8 L547.0 594.4 L547.5 594.9 L548.0 595.4 L548.5 596.0 L549.0 596.5 L549.5 597.1 L550.0 597.7 L550.5 598.3 L551.0 598.8 L551.5 599.4 L552.0 600.0 L552.5 600.6 L553.0 601.2 L553.5 601.7 L554.0 602.3 L554.5 602.9 L555.0 603.4 L555.5 604.0 L556.0 604.5 L556.5 605.1 L557.0 605.6 L557.5 606.1 L558.0 606.6 L558.5 607.0 L559.0 607.5 L559.5 607.9 L560.0 608.3 L560.5 608.7 L561.0 609.1 L561.5 609.4 L562.0 609.8 L562.5 610.1 L563.0 610.3 L563.5 610.6 L564.0 610.8 L564.5 610.9 L565.0 611.1 L565.5 611.2 L566.0 611.3 L566.5 611.3 L566.7 611.3 L567.0 611.3 L567.5 611.2 L568.0 611.1 L568.5 610.9 L569.0 610.6 L569.5 610.3 L570.0 609.9 L570.5 609.5 L571.0 609.1 L571.5 608.5 L572.0 608.0 L572.5 607.4 L573.0 606.8 L573.5 606.1 L574.0 605.4 L574.5 604.7 L575.0 604.0 L575.5 603.2 L576.0 602.5 L576.5 601.7 L577.0 600.9 L577.5 600.0 L578.0 599.2 L578.5 598.4 L579.0 597.6 L579.5 596.7 L580.0 595.9 L580.5 595.1 L581.0 594.3 L581.5 593.5 L582.0 592.8 L582.5 592.0 L583.0 591.3 L583.5 590.6 L584.0 589.9 L584.5 589.3 L585.0 588.7 L585.5 588.1 L586.0 587.5 L586.5 587.1 L587.0 586.6 L587.5 586.2 L588.0 585.9 L588.5 585.6 L589.0 585.3 L589.5 585.2 L590.0 585.0 L590.5 585.0 L590.6 585.0 L591.0 585.0 L591.5 585.1 L592.0 585.2 L592.5 585.3 L593.0 585.5 L593.5 585.8 L594.0 586.0 L594.5 586.3 L595.0 586.7 L595.5 587.1 L596.0 587.5 L596.5 587.9 L597.0 588.4 L597.5 588.9 L598.0 589.5 L598.5 590.0 L599.0 590.6 L599.5 591.2 L600.0 591.8 L600.5 592.5 L601.0 593.1 L601.5 593.8 L602.0 594.5 L602.5 595.2 L603.0 595.9 L603.5 596.6 L604.0 597.4 L604.5 598.1 L605.0 598.9 L605.5 599.6 L606.0 600.4 L606.5 601.1 L607.0 601.8 L607.5 602.6 L608.0 603.3 L608.5 604.1 L609.0 604.8 L609.5 605.5 L610.0 606.2 L610.5 606.9 L611.0 607.6 L611.5 608.3 L612.0 608.9 L612.5 609.6 L613.0 610.2 L613.5 610.8 L614.0 611.3 L614.5 611.9 L615.0 612.4 L615.5 612.9 L616.0 613.3 L616.5 613.8 L617.0 614.2 L617.5 614.5 L618.0 614.8 L618.5 615.1 L619.0 615.4 L619.5 615.6 L620.0 615.8 L620.5 615.9 L621.0 616.0 L621.5 616.0 L621.6 616.0 L622.0 616.0 L622.5 615.9 L623.0 615.7 L623.5 615.5 L624.0 615.2 L624.5 614.9 L625.0 614.5 L625.5 614.0 L626.0 613.5 L626.5 613.0 L627.0 612.4 L627.5 611.8 L628.0 611.1 L628.5 610.4 L629.0 609.6 L629.5 608.8 L630.0 608.0 L630.5 607.2 L631.0 606.3 L631.5 605.5 L632.0 604.6 L632.5 603.7 L633.0 602.7 L633.5 601.8 L634.0 600.9 L634.5 599.9 L635.0 599.0 L635.5 598.0 L636.0 597.1 L636.5 596.2 L637.0 595.2 L637.5 594.3 L638.0 593.4 L638.5 592.5 L639.0 591.7 L639.5 590.8 L640.0 590.0 L640.5 589.2 L641.0 588.5 L641.5 587.8 L642.0 587.1 L642.5 586.4 L643.0 585.8 L643.5 585.3 L644.0 584.8 L644.5 584.3 L645.0 583.9 L645.5 583.5 L646.0 583.2 L646.5 583.0 L647.0 582.8 L647.5 582.7 L648.0 582.7 L648.5 582.7 L649.0 582.9 L649.5 583.1 L650.0 583.4 L650.5 583.7 L651.0 584.1 L651.5 584.6 L652.0 585.2 L652.5 585.8 L653.0 586.5 L653.5 587.2 L654.0 588.0 L654.5 588.8 L655.0 589.7 L655.5 590.6 L656.0 591.6 L656.5 592.5 L657.0 593.5 L657.5 594.6 L658.0 595.7 L658.5 596.7 L659.0 597.8 L659.5 599.0 L660.0 600.1 L660.5 601.2 L661.0 602.4 L661.5 603.5 L662.0 604.6 L662.5 605.8 L663.0 606.9 L663.5 608.0 L664.0 609.1 L664.5 610.2 L665.0 611.2 L665.5 612.3 L666.0 613.3 L666.5 614.2 L667.0 615.2 L667.5 616.1 L668.0 616.9 L668.5 617.7 L669.0 618.5 L669.5 619.2 L670.0 619.8 L670.5 620.4 L671.0 621.0 L671.5 621.4 L672.0 621.8 L672.5 622.2 L673.0 622.4 L673.5 622.6 L674.0 622.7 L674.3 622.7 L674.5 622.7 L675.0 622.6 L675.5 622.5 L676.0 622.3 L676.5 622.1 L677.0 621.8 L677.5 621.4 L678.0 621.0 L678.5 620.5 L679.0 620.0 L679.5 619.5 L680.0 618.8 L680.5 618.2 L681.0 617.5 L681.5 616.7 L682.0 616.0 L682.5 615.2 L683.0 614.3 L683.5 613.4 L684.0 612.5 L684.5 611.6 L685.0 610.6 L685.5 609.6 L686.0 608.6 L686.5 607.6 L687.0 606.5 L687.5 605.5 L688.0 604.4 L688.5 603.3 L689.0 602.2 L689.5 601.1 L690.0 599.9 L690.5 598.8 L691.0 597.7 L691.5 596.6 L692.0 595.4 L692.5 594.3 L693.0 593.2 L693.5 592.1 L694.0 591.0 L694.5 589.9 L695.0 588.8 L695.5 587.8 L696.0 586.7 L696.5 585.7 L697.0 584.7 L697.5 583.7 L698.0 582.7 L698.5 581.8 L699.0 580.9 L699.5 580.0 L700.0 579.2 L700.5 578.4 L701.0 577.7 L701.5 576.9 L702.0 576.2 L702.5 575.6 L703.0 575.0 L703.5 574.5 L704.0 574.0 L704.5 573.5 L705.0 573.1 L705.5 572.8 L706.0 572.5 L706.5 572.3 L707.0 572.1 L707.5 572.0 L708.0 572.0 L708.5 572.1 L709.0 572.4 L709.5 572.9 L710.0 573.6 L710.5 574.4 L711.0 575.4 L711.5 576.5 L712.0 577.8 L712.5 579.2 L713.0 580.7 L713.5 582.3 L714.0 584.0 L714.5 585.8 L715.0 587.7 L715.5 589.6 L716.0 591.6 L716.5 593.6 L717.0 595.6 L717.5 597.7 L718.0 599.8 L718.5 601.8 L719.0 603.9 L719.5 605.9 L720.0 607.9 L720.5 609.8 L721.0 611.7 L721.5 613.6 L722.0 615.3 L722.5 616.9 L723.0 618.5 L723.5 619.9 L724.0 621.3 L724.5 622.5 L725.0 623.5 L725.5 624.4 L726.0 625.2 L726.5 625.7 L727.0 626.1 L727.5 626.3 L727.7 626.3 L728.0 626.3 L728.5 626.1 L729.0 625.9 L729.5 625.5 L730.0 625.0 L730.5 624.4 L731.0 623.8 L731.5 623.0 L732.0 622.3 L732.5 621.5 L733.0 620.6 L733.5 619.8 L734.0 618.9 L734.5 618.0 L735.0 617.2 L735.5 616.3 L736.0 615.6 L736.5 614.8 L737.0 614.1 L737.5 613.5 L738.0 613.0 L738.5 612.6 L739.0 612.3 L739.5 612.1 L740.0 612.0 L740.5 612.0 L741.0 612.2 L741.5 612.3 L742.0 612.5 L742.5 612.8 L743.0 613.0 L743.5 613.2 L744.0 613.4 L744.5 613.6 L745.0 613.7 L745.5 613.8 L745.6 613.8 L746.0 613.7 L746.5 613.2 L747.0 612.3 L747.5 611.1 L748.0 609.5 L748.5 607.8 L749.0 605.7 L749.5 603.4 L750.0 601.0 L750.5 598.4 L751.0 595.6 L751.5 592.8 L752.0 589.9 L752.5 586.9 L753.0 583.9 L753.5 580.9 L754.0 578.0 L754.5 575.1 L755.0 572.4 L755.5 569.7 L756.0 567.2 L756.5 564.9 L757.0 562.8 L757.5 561.0 L758.0 559.4 L758.5 558.1 L759.0 557.2 L759.5 556.6 L760.0 556.4 L760.5 556.6 L761.0 557.2 L761.5 558.2 L762.0 559.5 L762.5 561.1 L763.0 563.0 L763.5 565.1 L764.0 567.5 L764.5 570.1 L765.0 572.8 L765.5 575.7 L766.0 578.7 L766.5 581.8 L767.0 584.9 L767.5 588.1 L768.0 591.3 L768.5 594.4 L769.0 597.5 L769.5 600.5 L770.0 603.4 L770.5 606.1 L771.0 608.7 L771.5 611.1 L772.0 613.2 L772.5 615.1 L773.0 616.7 L773.5 618.0 L774.0 619.0 L774.5 619.6 L775.0 619.8 L775.5 619.7 L776.0 619.3 L776.5 618.7 L777.0 618.0 L777.5 617.2 L778.0 616.3 L778.5 615.4 L779.0 614.5 L779.5 613.7 L780.0 613.0 L780.5 612.4 L781.0 612.1 L781.4 612.0 L781.5 612.0 L782.0 612.2 L782.5 612.6 L783.0 613.2 L783.5 614.0 L784.0 614.9 L784.5 616.0 L785.0 617.3 L785.5 618.6 L786.0 620.0 L786.5 621.4 L787.0 622.9 L787.5 624.4 L788.0 625.9 L788.5 627.3 L789.0 628.7 L789.5 630.0 L790.0 631.2 L790.5 632.3 L791.0 633.2 L791.5 633.9 L792.0 634.5 L792.5 634.9 L793.0 635.0 L793.5 634.5 L794.0 633.0 L794.5 630.8 L795.0 627.7 L795.5 624.1 L796.0 619.9 L796.5 615.4 L797.0 610.5 L797.5 605.4 L798.0 600.2 L798.5 595.0 L799.0 590.0 L799.5 584.5 L800.0 578.0 L800.5 571.0 L801.0 563.7 L801.5 556.6 L802.0 550.0 L802.5 543.9 L803.0 538.1 L803.5 532.4 L804.0 526.7 L804.5 521.0 L805.0 515.0 L805.5 508.8 L806.0 502.3 L806.5 495.7 L807.0 489.1 L807.5 482.5 L808.0 476.1 L808.5 469.9 L809.0 464.0 L809.5 459.1 L810.0 454.9 L810.5 450.4 L811.0 444.6 L811.3 440.0 L811.5 435.3 L812.0 414.8 L812.5 387.4 L813.0 360.1 L813.5 340.0 L814.0 328.6 L814.5 319.3 L814.9 310.0 L815.0 306.8 L815.5 285.5 L815.7 280.0 L816.0 275.6 L816.5 270.1 L817.0 266.2 L817.5 262.8 L818.0 259.7 L818.5 257.0 L819.0 254.6 L819.5 252.3 L820.0 250.0 L820.3 248.5 L820.5 247.5 L821.0 244.8 L821.5 242.0 L822.0 239.3 L822.5 236.9 L823.0 234.9 L823.2 234.3 L823.5 233.4 L824.0 232.0 L824.5 230.6 L825.0 229.3 L825.5 228.2 L826.0 227.3 L826.5 226.7 L827.0 226.4 L827.1 226.4 L827.5 226.6 L828.0 227.4 L828.5 228.8 L829.0 230.4 L829.5 232.3 L830.0 234.3 L830.5 236.9 L831.0 240.5 L831.5 244.3 L832.0 247.9 L832.1 248.5 L832.5 250.8 L833.0 253.3 L833.5 255.6 L834.0 258.0 L834.5 260.8 L835.0 264.0 L835.3 266.3 L835.5 268.2 L836.0 274.2 L836.4 280.0 L836.5 281.5 L837.0 290.1 L837.5 299.8 L838.0 310.0 L838.5 321.2 L839.0 332.8 L839.2 337.0 L839.5 342.7 L840.0 351.0 L840.5 358.5 L841.0 365.7 L841.5 373.4 L842.0 382.1 L842.5 392.6 L842.8 400.0 L843.0 406.3 L843.5 428.7 L844.0 455.3 L844.5 479.5 L844.8 490.0 L845.0 495.2 L845.5 505.9 L846.0 515.3 L846.1 517.3 L846.5 525.7 L847.0 536.1 L847.5 544.6 L848.0 550.9 L848.5 556.2 L849.0 560.8 L849.5 565.0 L850.0 568.8 L850.5 572.2 L851.0 575.3 L851.5 578.1 L851.6 578.7 L852.0 580.9 L852.5 583.6 L853.0 586.0 L853.5 587.9 L853.6 588.2 L854.0 589.3 L854.5 590.5 L855.0 591.6 L855.5 592.5 L856.0 593.2 L856.4 593.7 L856.5 593.8 L857.0 594.3 L857.5 594.7 L858.0 595.1 L858.5 595.5 L859.0 595.8 L859.5 596.1 L860.0 596.4 L860.5 596.6 L861.0 596.8 L861.5 597.0 L861.8 597.1 L862.0 597.2 L862.5 597.3 L863.0 597.5 L863.5 597.6 L864.0 597.8 L864.5 597.9 L865.0 598.1 L865.5 598.2 L866.0 598.3 L866.5 598.4 L867.0 598.4 L867.5 598.5 L868.0 598.5 L868.5 598.5 L869.0 598.5 L869.5 598.5 L870.0 598.6 L870.5 598.6 L871.0 598.6 L871.5 598.6 L872.0 598.6 L872.5 598.6 L873.0 598.6 L873.5 598.7 L874.0 598.7 L874.5 598.7 L875.0 598.7 L875.5 598.7 L876.0 598.7 L876.5 598.7 L877.0 598.7 L877.5 598.7 L878.0 598.8 L878.5 598.8 L879.0 598.8 L879.5 598.8 L880.0 598.8 L880.5 598.8 L881.0 598.8 L881.5 598.8 L882.0 598.8 L882.5 598.8 L883.0 598.8 L883.5 598.9 L884.0 598.9 L884.5 598.9 L885.0 598.9 L885.5 598.9 L886.0 598.9 L886.5 598.9 L887.0 598.9 L887.5 598.9 L888.0 598.9 L888.5 598.9 L889.0 598.9 L889.5 598.9 L890.0 598.9 L890.5 598.9 L891.0 598.9 L891.5 598.9 L892.0 598.9 L892.5 599.0 L893.0 599.0 L893.5 599.0 L894.0 599.0 L894.5 599.0 L895.0 599.0 L895.5 599.0 L896.0 599.0 L896.5 599.0 L897.0 599.0 L897.5 599.0 L898.0 599.0 L898.5 599.0 L899.0 599.0 L899.5 599.0 L900.0 599.0 L900.5 599.0 L901.0 599.0 L901.5 599.0 L902.0 599.0 L902.5 599.0 L903.0 599.0 L903.5 599.0 L904.0 599.0 L904.5 599.0 L905.0 599.0 L905.5 599.0 L906.0 599.0 L906.4 599.0"/>
<path stroke="#bfbf00" d="M54.0 600.5 L54.5 600.3 L55.0 600.2 L55.5 600.0 L56.0 599.9 L56.5 599.8 L57.0 599.6 L57.5 599.5 L58.0 599.3 L58.5 599.2 L59.0 599.1 L59.5 599.0 L60.0 598.8 L60.5 598.7 L61.0 598.6 L61.5 598.5 L62.0 598.4 L62.5 598.3 L63.0 598.2 L63.5 598.1 L64.0 598.0 L64.5 597.9 L65.0 597.8 L65.5 597.7 L66.0 597.6 L66.5 597.6 L67.0 597.5 L67.5 597.4 L68.0 597.3 L68.5 597.3 L69.0 597.2 L69.5 597.2 L70.0 597.1 L70.5 597.1 L71.0 597.0 L71.5 597.0 L72.0 596.9 L72.5 596.9 L73.0 596.8 L73.5 596.8 L74.0 596.8 L74.5 596.8 L75.0 596.7 L75.5 596.7 L76.0 596.7 L76.5 596.7 L77.0 596.7 L77.5 596.7 L78.0 596.7 L78.5 596.7 L79.0 596.7 L79.5 596.8 L80.0 596.8 L80.5 596.9 L81.0 596.9 L81.5 597.0 L82.0 597.0 L82.5 597.1 L83.0 597.2 L83.5 597.3 L84.0 597.4 L84.5 597.5 L85.0 597.6 L85.5 597.7 L86.0 597.8 L86.5 597.9 L87.0 598.0 L87.5 598.1 L88.0 598.2 L88.5 598.4 L89.0 598.5 L89.5 598.6 L90.0 598.7 L90.5 598.9 L91.0 599.0 L91.5 599.1 L92.0 599.3 L92.5 599.4 L93.0 599.5 L93.5 599.7 L94.0 599.8 L94.5 599.9 L95.0 600.0 L95.5 600.2 L96.0 600.3 L96.5 600.4 L97.0 600.5 L97.5 600.6 L98.0 600.7 L98.5 600.8 L99.0 600.9 L99.5 601.0 L100.0 601.1 L100.5 601.2 L101.0 601.3 L101.5 601.4 L102.0 601.4 L102.5 601.5 L103.0 601.5 L103.5 601.6 L104.0 601.6 L104.5 601.7 L105.0 601.7 L105.5 601.7 L106.0 601.7 L106.5 601.7 L107.0 601.7 L107.5 601.7 L108.0 601.6 L108.5 601.6 L109.0 601.6 L109.5 601.5 L110.0 601.5 L110.5 601.4 L111.0 601.4 L111.5 601.3 L112.0 601.2 L112.5 601.1 L113.0 601.1 L113.5 601.0 L114.0 600.9 L114.5 600.8 L115.0 600.7 L115.5 600.6 L116.0 600.5 L116.5 600.4 L117.0 600.3 L117.5 600.1 L118.0 600.0 L118.5 599.9 L119.0 599.8 L119.5 599.7 L120.0 599.6 L120.5 599.4 L121.0 599.3 L121.5 599.2 L122.0 599.1 L122.5 599.0 L123.0 598.8 L123.5 598.7 L124.0 598.6 L124.5 598.5 L125.0 598.4 L125.5 598.3 L126.0 598.1 L126.5 598.0 L127.0 597.9 L127.5 597.8 L128.0 597.7 L128.5 597.6 L129.0 597.5 L129.5 597.4 L130.0 597.3 L130.5 597.3 L131.0 597.2 L131.5 597.1 L132.0 597.0 L132.5 597.0 L133.0 596.9 L133.5 596.9 L134.0 596.8 L134.5 596.8 L135.0 596.8 L135.5 596.7 L136.0 596.7 L136.5 596.7 L137.0 596.7 L137.5 596.7 L138.0 596.7 L138.5 596.7 L139.0 596.8 L139.5 596.8 L140.0 596.9 L140.5 596.9 L141.0 597.0 L141.5 597.1 L142.0 597.1 L142.5 597.2 L143.0 597.3 L143.5 597.4 L144.0 597.5 L144.5 597.6 L145.0 597.7 L145.5 597.8 L146.0 597.9 L146.5 598.1 L147.0 598.2 L147.5 598.3 L148.0 598.4 L148.5 598.6 L149.0 598.7 L149.5 598.8 L150.0 599.0 L150.5 599.1 L151.0 599.3 L151.5 599.4 L152.0 599.5 L152.5 599.7 L153.0 599.8 L153.5 599.9 L154.0 600.1 L154.5 600.2 L155.0 600.3 L155.5 600.4 L156.0 600.5 L156.5 600.7 L157.0 600.8 L157.5 600.9 L158.0 601.0 L158.5 601.1 L159.0 601.2 L159.5 601.3 L160.0 601.3 L160.5 601.4 L161.0 601.5 L161.5 601.5 L162.0 601.6 L162.5 601.6 L163.0 601.7 L163.5 601.7 L164.0 601.7 L164.5 601.7 L164.6 601.7 L165.0 601.7 L165.5 601.7 L166.0 601.7 L166.5 601.7 L167.0 601.6 L167.5 601.6 L168.0 601.6 L168.5 601.5 L169.0 601.5 L169.5 601.4 L170.0 601.3 L170.5 601.3 L171.0 601.2 L171.5 601.1 L172.0 601.1 L172.5 601.0 L173.0 600.9 L173.5 600.8 L174.0 600.7 L174.5 600.6 L175.0 600.5 L175.5 600.4 L176.0 600.3 L176.5 600.2 L177.0 600.1 L177.5 600.0 L178.0 599.9 L178.5 599.7 L179.0 599.6 L179.5 599.5 L180.0 599.4 L180.5 599.3 L181.0 599.1 L181.5 599.0 L182.0 598.9 L182.5 598.8 L183.0 598.7 L183.5 598.5 L184.0 598.4 L184.5 598.3 L185.0 598.2 L185.5 598.0 L186.0 597.9 L186.5 597.8 L187.0 597.7 L187.5 597.6 L188.0 597.5 L188.5 597.4 L189.0 597.2 L189.5 597.1 L190.0 597.0 L190.5 596.9 L191.0 596.8 L191.5 596.7 L192.0 596.6 L192.5 596.6 L193.0 596.5 L193.5 596.4 L194.0 596.3 L194.5 596.3 L195.0 596.2 L195.5 596.1 L196.0 596.1 L196.5 596.0 L197.0 596.0 L197.5 595.9 L198.0 595.9 L198.5 595.9 L199.0 595.8 L199.5 595.8 L200.0 595.8 L200.5 595.8 L200.6 595.8 L201.0 595.8 L201.5 595.8 L202.0 595.8 L202.5 595.9 L203.0 595.9 L203.5 596.0 L204.0 596.0 L204.5 596.1 L205.0 596.2 L205.5 596.3 L206.0 596.4 L206.5 596.5 L207.0 596.6 L207.5 596.7 L208.0 596.8 L208.5 596.9 L209.0 597.1 L209.5 597.2 L210.0 597.4 L210.5 597.5 L211.0 597.7 L211.5 597.8 L212.0 598.0 L212.5 598.1 L213.0 598.3 L213.5 598.4 L214.0 598.6 L214.5 598.8 L215.0 598.9 L215.5 599.1 L216.0 599.3 L216.5 599.4 L217.0 599.6 L217.5 599.8 L218.0 599.9 L218.5 600.1 L219.0 600.2 L219.5 600.4 L220.0 600.5 L220.5 600.7 L221.0 600.8 L221.5 601.0 L222.0 601.1 L222.5 601.3 L223.0 601.4 L223.5 601.5 L224.0 601.6 L224.5 601.7 L225.0 601.8 L225.5 601.9 L226.0 602.0 L226.5 602.1 L227.0 602.2 L227.5 602.2 L228.0 602.3 L228.5 602.3 L229.0 602.4 L229.5 602.4 L230.0 602.4 L230.4 602.4 L230.5 602.4 L231.0 602.4 L231.5 602.4 L232.0 602.3 L232.5 602.3 L233.0 602.3 L233.5 602.2 L234.0 602.1 L234.5 602.1 L235.0 602.0 L235.5 601.9 L236.0 601.8 L236.5 601.7 L237.0 601.6 L237.5 601.5 L238.0 601.4 L238.5 601.2 L239.0 601.1 L239.5 601.0 L240.0 600.8 L240.5 600.7 L241.0 600.6 L241.5 600.4 L242.0 600.3 L242.5 600.1 L243.0 599.9 L243.5 599.8 L244.0 599.6 L244.5 599.5 L245.0 599.3 L245.5 599.2 L246.0 599.0 L246.5 598.8 L247.0 598.7 L247.5 598.5 L248.0 598.4 L248.5 598.2 L249.0 598.1 L249.5 597.9 L250.0 597.8 L250.5 597.6 L251.0 597.5 L251.5 597.3 L252.0 597.2 L252.5 597.1 L253.0 597.0 L253.5 596.8 L254.0 596.7 L254.5 596.6 L255.0 596.5 L255.5 596.4 L256.0 596.4 L256.5 596.3 L257.0 596.2 L257.5 596.2 L258.0 596.1 L258.5 596.1 L259.0 596.0 L259.5 596.0 L260.0 596.0 L260.3 596.0 L260.5 596.0 L261.0 596.0 L261.5 596.0 L262.0 596.1 L262.5 596.1 L263.0 596.1 L263.5 596.2 L264.0 596.3 L264.5 596.3 L265.0 596.4 L265.5 596.5 L266.0 596.6 L266.5 596.7 L267.0 596.8 L267.5 596.9 L268.0 597.0 L268.5 597.2 L269.0 597.3 L269.5 597.4 L270.0 597.6 L270.5 597.7 L271.0 597.9 L271.5 598.0 L272.0 598.2 L272.5 598.3 L273.0 598.5 L273.5 598.6 L274.0 598.8 L274.5 599.0 L275.0 599.1 L275.5 599.3 L276.0 599.5 L276.5 599.7 L277.0 599.8 L277.5 600.0 L278.0 600.2 L278.5 600.3 L279.0 600.5 L279.5 600.7 L280.0 600.8 L280.5 601.0 L281.0 601.1 L281.5 601.3 L282.0 601.4 L282.5 601.6 L283.0 601.7 L283.5 601.9 L284.0 602.0 L284.5 602.1 L285.0 602.3 L285.5 602.4 L286.0 602.5 L286.5 602.6 L287.0 602.7 L287.5 602.8 L288.0 602.9 L288.5 603.0 L289.0 603.0 L289.5 603.1 L290.0 603.2 L290.5 603.2 L291.0 603.2 L291.5 603.3 L292.0 603.3 L292.5 603.3 L292.7 603.3 L293.0 603.3 L293.5 603.3 L294.0 603.3 L294.5 603.2 L295.0 603.1 L295.5 603.1 L296.0 603.0 L296.5 602.9 L297.0 602.8 L297.5 602.7 L298.0 602.5 L298.5 602.4 L299.0 602.3 L299.5 602.1 L300.0 601.9 L300.5 601.8 L301.0 601.6 L301.5 601.4 L302.0 601.2 L302.5 601.0 L303.0 600.8 L303.5 600.6 L304.0 600.4 L304.5 600.2 L305.0 600.0 L305.5 599.7 L306.0 599.5 L306.5 599.3 L307.0 599.1 L307.5 598.8 L308.0 598.6 L308.5 598.4 L309.0 598.2 L309.5 597.9 L310.0 597.7 L310.5 597.5 L311.0 597.3 L311.5 597.1 L312.0 596.9 L312.5 596.7 L313.0 596.5 L313.5 596.3 L314.0 596.1 L314.5 595.9 L315.0 595.7 L315.5 595.6 L316.0 595.4 L316.5 595.2 L317.0 595.1 L317.5 595.0 L318.0 594.9 L318.5 594.7 L319.0 594.6 L319.5 594.6 L320.0 594.5 L320.5 594.4 L321.0 594.4 L321.5 594.3 L322.0 594.3 L322.5 594.3 L323.0 594.3 L323.5 594.3 L324.0 594.4 L324.5 594.4 L325.0 594.5 L325.5 594.6 L326.0 594.7 L326.5 594.8 L327.0 595.0 L327.5 595.1 L328.0 595.3 L328.5 595.5 L329.0 595.6 L329.5 595.8 L330.0 596.0 L330.5 596.2 L331.0 596.5 L331.5 596.7 L332.0 596.9 L332.5 597.2 L333.0 597.4 L333.5 597.6 L334.0 597.9 L334.5 598.2 L335.0 598.4 L335.5 598.7 L336.0 598.9 L336.5 599.2 L337.0 599.5 L337.5 599.7 L338.0 600.0 L338.5 600.3 L339.0 600.5 L339.5 600.8 L340.0 601.1 L340.5 601.3 L341.0 601.6 L341.5 601.8 L342.0 602.0 L342.5 602.3 L343.0 602.5 L343.5 602.7 L344.0 602.9 L344.5 603.1 L345.0 603.3 L345.5 603.5 L346.0 603.6 L346.5 603.8 L347.0 603.9 L347.5 604.0 L348.0 604.1 L348.5 604.2 L349.0 604.3 L349.5 604.4 L350.0 604.4 L350.5 604.5 L351.0 604.5 L351.2 604.5 L351.5 604.5 L352.0 604.5 L352.5 604.4 L353.0 604.4 L353.5 604.3 L354.0 604.3 L354.5 604.2 L355.0 604.1 L355.5 603.9 L356.0 603.8 L356.5 603.7 L357.0 603.5 L357.5 603.3 L358.0 603.2 L358.5 603.0 L359.0 602.8 L359.5 602.6 L360.0 602.4 L360.5 602.2 L361.0 601.9 L361.5 601.7 L362.0 601.5 L362.5 601.2 L363.0 601.0 L363.5 600.7 L364.0 600.5 L364.5 600.2 L365.0 599.9 L365.5 599.7 L366.0 599.4 L366.5 599.1 L367.0 598.9 L367.5 598.6 L368.0 598.3 L368.5 598.1 L369.0 597.8 L369.5 597.5 L370.0 597.3 L370.5 597.0 L371.0 596.7 L371.5 596.5 L372.0 596.2 L372.5 596.0 L373.0 595.7 L373.5 595.5 L374.0 595.3 L374.5 595.1 L375.0 594.9 L375.5 594.7 L376.0 594.5 L376.5 594.3 L377.0 594.1 L377.5 593.9 L378.0 593.8 L378.5 593.6 L379.0 593.5 L379.5 593.4 L380.0 593.3 L380.5 593.2 L381.0 593.1 L381.5 593.0 L382.0 593.0 L382.5 592.9 L383.0 592.9 L383.4 592.9 L383.5 592.9 L384.0 592.9 L384.5 592.9 L385.0 593.0 L385.5 593.1 L386.0 593.2 L386.5 593.3 L387.0 593.4 L387.5 593.5 L388.0 593.7 L388.5 593.8 L389.0 594.0 L389.5 594.2 L390.0 594.4 L390.5 594.6 L391.0 594.8 L391.5 595.0 L392.0 595.3 L392.5 595.5 L393.0 595.8 L393.5 596.1 L394.0 596.3 L394.5 596.6 L395.0 596.9 L395.5 597.2 L396.0 597.5 L396.5 597.8 L397.0 598.1 L397.5 598.4 L398.0 598.7 L398.5 599.0 L399.0 599.3 L399.5 599.6 L400.0 599.9 L400.5 600.3 L401.0 600.6 L401.5 600.9 L402.0 601.2 L402.5 601.5 L403.0 601.8 L403.5 602.1 L404.0 602.3 L404.5 602.6 L405.0 602.9 L405.5 603.2 L406.0 603.4 L406.5 603.7 L407.0 603.9 L407.5 604.1 L408.0 604.4 L408.5 604.6 L409.0 604.8 L409.5 604.9 L410.0 605.1 L410.5 605.3 L411.0 605.4 L411.5 605.6 L412.0 605.7 L412.5 605.8 L413.0 605.8 L413.5 605.9 L414.0 606.0 L414.5 606.0 L415.0 606.0 L415.5 606.0 L416.0 606.0 L416.5 605.9 L417.0 605.8 L417.5 605.7 L418.0 605.6 L418.5 605.5 L419.0 605.3 L419.5 605.2 L420.0 605.0 L420.5 604.8 L421.0 604.6 L421.5 604.4 L422.0 604.1 L422.5 603.9 L423.0 603.6 L423.5 603.3 L424.0 603.0 L424.5 602.7 L425.0 602.4 L425.5 602.1 L426.0 601.8 L426.5 601.5 L427.0 601.2 L427.5 600.8 L428.0 600.5 L428.5 600.1 L429.0 599.8 L429.5 599.5 L430.0 599.1 L430.5 598.8 L431.0 598.4 L431.5 598.0 L432.0 597.7 L432.5 597.4 L433.0 597.0 L433.5 596.7 L434.0 596.3 L434.5 596.0 L435.0 595.7 L435.5 595.4 L436.0 595.1 L436.5 594.8 L437.0 594.5 L437.5 594.2 L438.0 593.9 L438.5 593.6 L439.0 593.4 L439.5 593.1 L440.0 592.9 L440.5 592.7 L441.0 592.5 L441.5 592.3 L442.0 592.2 L442.5 592.0 L443.0 591.9 L443.5 591.8 L444.0 591.7 L444.5 591.6 L445.0 591.5 L445.5 591.5 L446.0 591.5 L446.5 591.5 L447.0 591.6 L447.5 591.6 L448.0 591.7 L448.5 591.9 L449.0 592.0 L449.5 592.2 L450.0 592.4 L450.5 592.7 L451.0 592.9 L451.5 593.2 L452.0 593.5 L452.5 593.8 L453.0 594.1 L453.5 594.4 L454.0 594.8 L454.5 595.2 L455.0 595.6 L455.5 596.0 L456.0 596.4 L456.5 596.8 L457.0 597.2 L457.5 597.6 L458.0 598.1 L458.5 598.5 L459.0 599.0 L459.5 599.4 L460.0 599.9 L460.5 600.3 L461.0 600.8 L461.5 601.2 L462.0 601.7 L462.5 602.1 L463.0 602.6 L463.5 603.0 L464.0 603.4 L464.5 603.9 L465.0 604.3 L465.5 604.7 L466.0 605.0 L466.5 605.4 L467.0 605.8 L467.5 606.1 L468.0 606.5 L468.5 606.8 L469.0 607.1 L469.5 607.3 L470.0 607.6 L470.5 607.8 L471.0 608.0 L471.5 608.2 L472.0 608.4 L472.5 608.5 L473.0 608.6 L473.5 608.7 L474.0 608.8 L474.5 608.8 L474.6 608.8 L475.0 608.8 L475.5 608.7 L476.0 608.7 L476.5 608.6 L477.0 608.4 L477.5 608.3 L478.0 608.1 L478.5 607.9 L479.0 607.6 L479.5 607.4 L480.0 607.1 L480.5 606.8 L481.0 606.5 L481.5 606.1 L482.0 605.8 L482.5 605.4 L483.0 605.0 L483.5 604.6 L484.0 604.2 L484.5 603.7 L485.0 603.3 L485.5 602.8 L486.0 602.4 L486.5 601.9 L487.0 601.4 L487.5 600.9 L488.0 600.4 L488.5 599.9 L489.0 599.4 L489.5 598.9 L490.0 598.5 L490.5 598.0 L491.0 597.5 L491.5 597.0 L492.0 596.5 L492.5 596.0 L493.0 595.5 L493.5 595.1 L494.0 594.6 L494.5 594.2 L495.0 593.7 L495.5 593.3 L496.0 592.9 L496.5 592.5 L497.0 592.1 L497.5 591.7 L498.0 591.4 L498.5 591.1 L499.0 590.8 L499.5 590.5 L500.0 590.2 L500.5 590.0 L501.0 589.8 L501.5 589.6 L502.0 589.4 L502.5 589.3 L503.0 589.1 L503.5 589.1 L504.0 589.0 L504.5 589.0 L505.0 589.0 L505.5 589.0 L506.0 589.0 L506.5 589.1 L507.0 589.1 L507.5 589.1 L508.0 589.2 L508.5 589.3 L509.0 589.3 L509.5 589.4 L510.0 589.5 L510.5 589.6 L511.0 589.7 L511.5 589.8 L512.0 589.9 L512.5 590.0 L513.0 590.2 L513.5 590.3 L514.0 590.5 L514.5 590.6 L515.0 590.8 L515.5 591.0 L516.0 591.1 L516.5 591.3 L517.0 591.5 L517.5 591.8 L518.0 592.0 L518.5 592.2 L519.0 592.5 L519.5 592.7 L520.0 593.0 L520.5 593.2 L521.0 593.5 L521.5 593.8 L522.0 594.1 L522.5 594.4 L523.0 594.7 L523.5 595.0 L524.0 595.4 L524.5 595.7 L525.0 596.1 L525.5 596.4 L526.0 596.8 L526.5 597.2 L527.0 597.6 L527.5 598.0 L528.0 598.4 L528.5 598.8 L529.0 599.2 L529.5 599.7 L530.0 600.1 L530.5 600.6 L531.0 601.0 L531.5 601.5 L532.0 602.0 L532.5 602.5 L533.0 603.0 L533.5 603.6 L534.0 604.1 L534.5 604.6 L535.0 605.2 L535.5 605.8 L536.0 606.3 L536.5 606.9 L537.0 607.5 L537.5 608.1 L538.0 608.7 L538.5 609.4 L539.0 610.0 L550.0 600.6 L560.7 588.7 L565.5 585.7 L567.9 582.1 L573.9 587.5 L581.0 594.6 L589.4 605.4 L597.8 617.3 L601.3 613.1 L605.0 611.3 L609.7 605.4 L614.5 595.8 L619.3 586.3 L623.4 579.7 L626.4 583.3 L631.2 585.0 L633.6 588.7 L637.2 586.9 L642.0 594.6 L647.9 607.8 L652.7 606.6 L655.0 609.9 L659.3 607.8 L662.1 617.8 L666.4 617.0 L669.3 614.9 L672.1 607.8 L675.0 606.3 L677.8 605.0 L680.7 597.8 L683.5 589.2 L687.8 577.8 L690.7 566.4 L693.5 560.0 L696.4 566.4 L697.8 571.4 L702.1 572.8 L703.5 597.8 L706.4 599.2 L709.2 602.0 L712.1 619.2 L717.8 657.7 L721.5 640.0 L724.6 618.2 L727.0 601.2 L728.5 595.0 L731.6 594.2 L733.9 579.6 L737.0 565.6 L740.1 553.3 L742.4 547.9 L744.7 553.3 L746.3 571.8 L747.8 599.6 L749.4 602.7 L752.5 605.8 L755.5 627.5 L757.9 632.1 L760.2 618.2 L764.8 587.3 L767.9 540.9 L769.5 523.9 L771.8 540.9 L774.1 564.1 L776.4 548.6 L778.4 527.8 L781.0 548.6 L782.6 579.6 L784.9 610.5 L786.5 640.0 L788.0 700.0 L790.3 757.6 L797.4 680.8 L798.4 668.7 L800.4 705.0 L802.4 650.5 L804.4 600.0 L809.3 440.0 L811.3 340.0 L812.8 250.0 L813.9 208.0 L815.1 189.0 L816.6 170.0 L819.6 88.0 L821.5 68.5 L823.4 88.0 L828.0 170.0 L829.4 189.0 L830.6 208.0 L832.2 227.0 L833.7 250.0 L835.2 310.0 L837.1 337.0 L840.0 400.0 L842.5 450.0 L843.5 470.0 L843.7 599.5 L906.4 599.5"/>
</g>
<g id="box" stroke="#000" stroke-width="1" shape-rendering="crispEdges" fill="none"><rect x="53.5" y="50.5" width="931" height="733"/></g>

<g id="labels" font-size="23">
<text transform="translate(17,424) scale(0.94,1)">0.5</text>
<text transform="translate(35,607) scale(0.94,1)">0</text>
<text transform="translate(9,791) scale(0.94,1)">-0.5</text>
<text transform="translate(34,809) scale(0.94,1)">-50</text>
<text transform="translate(189,809) scale(0.94,1)">-40</text>
<text transform="translate(344,809) scale(0.94,1)">-30</text>
<text transform="translate(499,809) scale(0.94,1)">-20</text>
<text transform="translate(822,809) scale(0.94,1)">0</text>
<text transform="translate(29,58) scale(0.94,1)">.5</text>
<text transform="translate(984,809) scale(0.94,1)">0</text>
<text transform="translate(654,809) scale(0.94,1)">-</text>
<text transform="translate(674,809) scale(0.94,1)">0</text>
<text transform="translate(508,836) scale(1.05,1)">X</text>
</g>
<g id="ones" fill="#000" shape-rendering="crispEdges"><rect x="41" y="225" width="2" height="16"/><rect x="37" y="229" width="1" height="2"/><rect x="38" y="228" width="2" height="2"/><rect x="40" y="227" width="1" height="2"/><rect x="23" y="42" width="2" height="16"/><rect x="19" y="46" width="1" height="2"/><rect x="20" y="45" width="2" height="2"/><rect x="22" y="44" width="1" height="2"/><rect x="978" y="793" width="2" height="16"/><rect x="974" y="797" width="1" height="2"/><rect x="975" y="796" width="2" height="2"/><rect x="977" y="795" width="1" height="2"/><rect x="668" y="793" width="2" height="16"/><rect x="664" y="797" width="1" height="2"/><rect x="665" y="796" width="2" height="2"/><rect x="667" y="795" width="1" height="2"/><rect x="392" y="22" width="2" height="13"/><rect x="389" y="25" width="1" height="2"/><rect x="390" y="24" width="1" height="2"/><rect x="391" y="23" width="1" height="2"/><rect x="402" y="22" width="2" height="13"/><rect x="399" y="25" width="1" height="2"/><rect x="400" y="24" width="1" height="2"/><rect x="401" y="23" width="1" height="2"/></g>
<g id="title" font-size="23">
<text x="375" y="25">u</text>
<text x="406" y="25">(x</text><text x="422.5" y="25">),</text>
<text x="443" y="25">L</text>
<text x="454" y="35" font-size="18">x</text>
<text x="463" y="25">=2,</text>
<text transform="translate(506,25) scale(0.974,1)">Vs=&lt;V=Vp,</text>
<text transform="translate(625,25) scale(1.07,1)" style="font-family:'Liberation Serif',serif">ω</text>
<text x="640" y="25">=0</text>
</g>
</svg>
</body></html>
